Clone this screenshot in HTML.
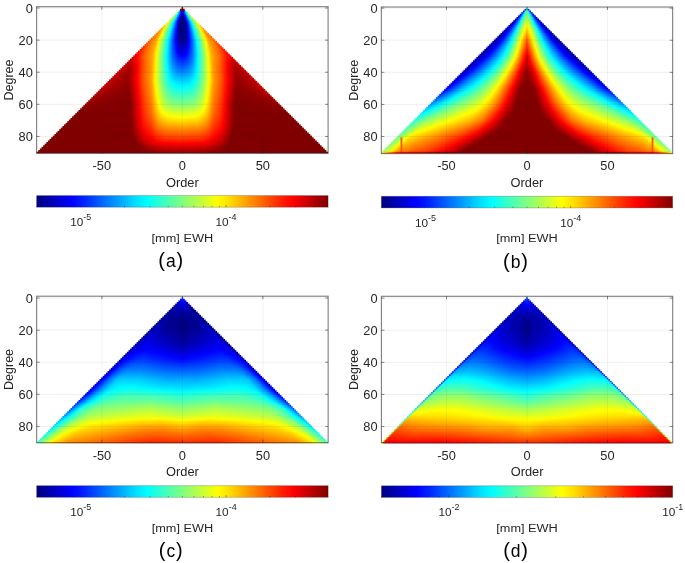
<!DOCTYPE html><html><head><meta charset="utf-8"><style>
html,body{margin:0;padding:0;background:#fff;}
svg{display:block;filter:blur(0.35px);}
text{font-family:"Liberation Sans",sans-serif;fill:#262626;}
.tk{font-size:12px;}
.lb{font-size:12px;}
.ct{font-size:11px;}
.mm{font-size:11.7px;}
.sup{font-size:8.4px;}
.pl{font-size:20px;fill:#000;letter-spacing:0.9px;}
.g{stroke:#262626;stroke-opacity:0.1;stroke-width:0.6;}
.gh{stroke:#262626;stroke-opacity:0.13;stroke-width:0.6;}
.bx{fill:none;stroke:rgba(38,38,38,0.6);stroke-width:1.1;}
.t{stroke:rgba(38,38,38,0.6);stroke-width:0.9;}
.cbx{fill:none;stroke:rgba(38,38,38,0.3);stroke-width:0.8;}
.ctk{stroke:rgba(38,38,38,0.6);stroke-width:0.7;}
</style></head><body><svg width="685" height="563" viewBox="0 0 685 563"><defs><linearGradient id="a2" gradientUnits="userSpaceOnUse" x1="182.35" x2="186.38" y1="0" y2="0" spreadMethod="reflect"><stop offset="0" stop-color="#800000"/><stop offset="0.4" stop-color="#0000fa"/><stop offset="0.8" stop-color="#00faff"/></linearGradient><linearGradient id="a3" gradientUnits="userSpaceOnUse" x1="182.35" x2="187.98" y1="0" y2="0" spreadMethod="reflect"><stop offset="0" stop-color="#0000db"/><stop offset="0.286" stop-color="#001fff"/><stop offset="0.571" stop-color="#00b7ff"/><stop offset="0.857" stop-color="#66ff99"/></linearGradient><linearGradient id="a4" gradientUnits="userSpaceOnUse" x1="182.35" x2="189.59" y1="0" y2="0" spreadMethod="reflect"><stop offset="0" stop-color="#0000b7"/><stop offset="0.222" stop-color="#0000ee"/><stop offset="0.444" stop-color="#006bff"/><stop offset="0.667" stop-color="#04fffb"/><stop offset="0.889" stop-color="#93ff6c"/></linearGradient><linearGradient id="a5" gradientUnits="userSpaceOnUse" x1="182.35" x2="191.2" y1="0" y2="0" spreadMethod="reflect"><stop offset="0" stop-color="#000094"/><stop offset="0.182" stop-color="#0000c6"/><stop offset="0.364" stop-color="#0034ff"/><stop offset="0.545" stop-color="#00b8ff"/><stop offset="0.727" stop-color="#36ffc9"/><stop offset="0.909" stop-color="#b2ff4d"/></linearGradient><linearGradient id="a6" gradientUnits="userSpaceOnUse" x1="182.35" x2="192.81" y1="0" y2="0" spreadMethod="reflect"><stop offset="0" stop-color="#000080"/><stop offset="0.154" stop-color="#0000a2"/><stop offset="0.308" stop-color="#0009ff"/><stop offset="0.462" stop-color="#0078ff"/><stop offset="0.615" stop-color="#00f2ff"/><stop offset="0.769" stop-color="#5dffa2"/><stop offset="0.923" stop-color="#c8ff37"/></linearGradient><linearGradient id="a7" gradientUnits="userSpaceOnUse" x1="182.35" x2="194.42" y1="0" y2="0" spreadMethod="reflect"><stop offset="0" stop-color="#000080"/><stop offset="0.133" stop-color="#000081"/><stop offset="0.267" stop-color="#0000e0"/><stop offset="0.4" stop-color="#0047ff"/><stop offset="0.533" stop-color="#00b8ff"/><stop offset="0.667" stop-color="#1cffe3"/><stop offset="0.933" stop-color="#d9ff26"/></linearGradient><linearGradient id="a8" gradientUnits="userSpaceOnUse" x1="182.35" x2="196.03" y1="0" y2="0" spreadMethod="reflect"><stop offset="0" stop-color="#000080"/><stop offset="0.118" stop-color="#000080"/><stop offset="0.235" stop-color="#0000bb"/><stop offset="0.353" stop-color="#001fff"/><stop offset="0.588" stop-color="#00e7ff"/><stop offset="0.706" stop-color="#3dffc2"/><stop offset="0.941" stop-color="#e6ff19"/></linearGradient><linearGradient id="a9" gradientUnits="userSpaceOnUse" x1="182.35" x2="197.64" y1="0" y2="0" spreadMethod="reflect"><stop offset="0" stop-color="#000080"/><stop offset="0.105" stop-color="#000080"/><stop offset="0.211" stop-color="#00009a"/><stop offset="0.316" stop-color="#0000fc"/><stop offset="0.421" stop-color="#0058ff"/><stop offset="0.526" stop-color="#00b8ff"/><stop offset="0.632" stop-color="#0bfff4"/><stop offset="0.947" stop-color="#f1ff0e"/></linearGradient><linearGradient id="a10" gradientUnits="userSpaceOnUse" x1="182.35" x2="199.25" y1="0" y2="0" spreadMethod="reflect"><stop offset="0" stop-color="#000080"/><stop offset="0.095" stop-color="#000080"/><stop offset="0.19" stop-color="#000094"/><stop offset="0.286" stop-color="#0000f1"/><stop offset="0.381" stop-color="#0045ff"/><stop offset="0.571" stop-color="#00f1ff"/><stop offset="0.667" stop-color="#3cffc3"/><stop offset="0.857" stop-color="#cdff32"/><stop offset="0.952" stop-color="#ffea00"/></linearGradient><linearGradient id="a11" gradientUnits="userSpaceOnUse" x1="182.35" x2="200.87" y1="0" y2="0" spreadMethod="reflect"><stop offset="0" stop-color="#000080"/><stop offset="0.087" stop-color="#000080"/><stop offset="0.174" stop-color="#00008f"/><stop offset="0.261" stop-color="#0000e7"/><stop offset="0.348" stop-color="#0035ff"/><stop offset="0.522" stop-color="#00dcff"/><stop offset="0.609" stop-color="#22ffdd"/><stop offset="0.87" stop-color="#f0ff0f"/><stop offset="0.957" stop-color="#ffcb00"/></linearGradient><linearGradient id="a12" gradientUnits="userSpaceOnUse" x1="182.35" x2="202.47" y1="0" y2="0" spreadMethod="reflect"><stop offset="0" stop-color="#000080"/><stop offset="0.08" stop-color="#000080"/><stop offset="0.16" stop-color="#00008d"/><stop offset="0.24" stop-color="#0000de"/><stop offset="0.32" stop-color="#0027ff"/><stop offset="0.48" stop-color="#00c6ff"/><stop offset="0.56" stop-color="#0bfff4"/><stop offset="0.8" stop-color="#d0ff2f"/><stop offset="0.88" stop-color="#ffef00"/><stop offset="0.96" stop-color="#ffaf00"/></linearGradient><linearGradient id="a13" gradientUnits="userSpaceOnUse" x1="182.35" x2="204.09" y1="0" y2="0" spreadMethod="reflect"><stop offset="0" stop-color="#000080"/><stop offset="0.074" stop-color="#000080"/><stop offset="0.148" stop-color="#00008c"/><stop offset="0.222" stop-color="#0000d5"/><stop offset="0.296" stop-color="#001cff"/><stop offset="0.519" stop-color="#00f5ff"/><stop offset="0.593" stop-color="#35ffca"/><stop offset="0.815" stop-color="#efff10"/><stop offset="0.889" stop-color="#ffd200"/><stop offset="0.963" stop-color="#ff9c00"/></linearGradient><linearGradient id="a14" gradientUnits="userSpaceOnUse" x1="182.35" x2="205.69" y1="0" y2="0" spreadMethod="reflect"><stop offset="0" stop-color="#000080"/><stop offset="0.069" stop-color="#000080"/><stop offset="0.138" stop-color="#00008c"/><stop offset="0.207" stop-color="#0000ce"/><stop offset="0.276" stop-color="#0012ff"/><stop offset="0.483" stop-color="#00e2ff"/><stop offset="0.552" stop-color="#1fffe0"/><stop offset="0.759" stop-color="#d2ff2d"/><stop offset="0.828" stop-color="#fff200"/><stop offset="0.897" stop-color="#ffb800"/><stop offset="0.966" stop-color="#ff9300"/></linearGradient><linearGradient id="a15" gradientUnits="userSpaceOnUse" x1="182.35" x2="207.31" y1="0" y2="0" spreadMethod="reflect"><stop offset="0" stop-color="#000080"/><stop offset="0.065" stop-color="#000080"/><stop offset="0.129" stop-color="#00008e"/><stop offset="0.194" stop-color="#0000ca"/><stop offset="0.258" stop-color="#000cff"/><stop offset="0.387" stop-color="#008fff"/><stop offset="0.452" stop-color="#00d5ff"/><stop offset="0.516" stop-color="#0ffff0"/><stop offset="0.774" stop-color="#f4ff0b"/><stop offset="0.839" stop-color="#ffd200"/><stop offset="0.903" stop-color="#ff9e00"/><stop offset="0.968" stop-color="#ff8800"/></linearGradient><linearGradient id="a16" gradientUnits="userSpaceOnUse" x1="182.35" x2="208.91" y1="0" y2="0" spreadMethod="reflect"><stop offset="0" stop-color="#000080"/><stop offset="0.061" stop-color="#000080"/><stop offset="0.121" stop-color="#000092"/><stop offset="0.242" stop-color="#0007ff"/><stop offset="0.364" stop-color="#0082ff"/><stop offset="0.424" stop-color="#00c6ff"/><stop offset="0.485" stop-color="#01fffe"/><stop offset="0.727" stop-color="#dfff20"/><stop offset="0.788" stop-color="#ffe900"/><stop offset="0.848" stop-color="#ffb300"/><stop offset="0.909" stop-color="#ff9200"/><stop offset="0.97" stop-color="#ff7e00"/></linearGradient><linearGradient id="a17" gradientUnits="userSpaceOnUse" x1="182.35" x2="210.53" y1="0" y2="0" spreadMethod="reflect"><stop offset="0" stop-color="#000080"/><stop offset="0.057" stop-color="#000080"/><stop offset="0.114" stop-color="#000096"/><stop offset="0.229" stop-color="#0004ff"/><stop offset="0.343" stop-color="#0078ff"/><stop offset="0.457" stop-color="#00f3ff"/><stop offset="0.514" stop-color="#29ffd6"/><stop offset="0.743" stop-color="#ffff00"/><stop offset="0.857" stop-color="#ff9c00"/><stop offset="0.971" stop-color="#ff7400"/></linearGradient><linearGradient id="a18" gradientUnits="userSpaceOnUse" x1="182.35" x2="212.13" y1="0" y2="0" spreadMethod="reflect"><stop offset="0" stop-color="#000080"/><stop offset="0.054" stop-color="#000080"/><stop offset="0.108" stop-color="#00009b"/><stop offset="0.162" stop-color="#0000c7"/><stop offset="0.216" stop-color="#0001ff"/><stop offset="0.324" stop-color="#006eff"/><stop offset="0.432" stop-color="#00e6ff"/><stop offset="0.486" stop-color="#1bffe4"/><stop offset="0.703" stop-color="#eaff15"/><stop offset="0.757" stop-color="#ffe100"/><stop offset="0.811" stop-color="#ffaf00"/><stop offset="0.865" stop-color="#ff9200"/><stop offset="0.973" stop-color="#ff6b00"/></linearGradient><linearGradient id="a19" gradientUnits="userSpaceOnUse" x1="182.35" x2="213.75" y1="0" y2="0" spreadMethod="reflect"><stop offset="0" stop-color="#000080"/><stop offset="0.051" stop-color="#000085"/><stop offset="0.103" stop-color="#00009f"/><stop offset="0.154" stop-color="#0000c8"/><stop offset="0.205" stop-color="#0000fd"/><stop offset="0.308" stop-color="#0064ff"/><stop offset="0.41" stop-color="#00daff"/><stop offset="0.462" stop-color="#0cfff3"/><stop offset="0.667" stop-color="#d4ff2b"/><stop offset="0.718" stop-color="#fff900"/><stop offset="0.821" stop-color="#ff9f00"/><stop offset="0.974" stop-color="#ff6800"/></linearGradient><linearGradient id="a20" gradientUnits="userSpaceOnUse" x1="182.35" x2="215.35" y1="0" y2="0" spreadMethod="reflect"><stop offset="0" stop-color="#000080"/><stop offset="0.049" stop-color="#00008d"/><stop offset="0.098" stop-color="#0000a5"/><stop offset="0.146" stop-color="#0000c9"/><stop offset="0.195" stop-color="#0000fb"/><stop offset="0.244" stop-color="#0029ff"/><stop offset="0.341" stop-color="#0093ff"/><stop offset="0.39" stop-color="#00cdff"/><stop offset="0.439" stop-color="#00feff"/><stop offset="0.683" stop-color="#efff10"/><stop offset="0.732" stop-color="#ffe100"/><stop offset="0.78" stop-color="#ffb200"/><stop offset="0.878" stop-color="#ff8800"/><stop offset="0.976" stop-color="#ff6600"/></linearGradient><linearGradient id="a21" gradientUnits="userSpaceOnUse" x1="182.35" x2="216.97" y1="0" y2="0" spreadMethod="reflect"><stop offset="0" stop-color="#00008a"/><stop offset="0.047" stop-color="#000098"/><stop offset="0.093" stop-color="#0000ae"/><stop offset="0.14" stop-color="#0000cf"/><stop offset="0.186" stop-color="#0000fd"/><stop offset="0.279" stop-color="#005aff"/><stop offset="0.372" stop-color="#00c8ff"/><stop offset="0.419" stop-color="#00f8ff"/><stop offset="0.512" stop-color="#58ffa7"/><stop offset="0.651" stop-color="#e5ff1a"/><stop offset="0.698" stop-color="#ffeb00"/><stop offset="0.744" stop-color="#ffbd00"/><stop offset="0.791" stop-color="#ffa000"/><stop offset="0.977" stop-color="#ff5900"/></linearGradient><linearGradient id="a22" gradientUnits="userSpaceOnUse" x1="182.35" x2="218.57" y1="0" y2="0" spreadMethod="reflect"><stop offset="0" stop-color="#000097"/><stop offset="0.089" stop-color="#0000b7"/><stop offset="0.133" stop-color="#0000d5"/><stop offset="0.178" stop-color="#0002ff"/><stop offset="0.267" stop-color="#0059ff"/><stop offset="0.4" stop-color="#00f4ff"/><stop offset="0.444" stop-color="#23ffdc"/><stop offset="0.622" stop-color="#dcff23"/><stop offset="0.667" stop-color="#fff500"/><stop offset="0.711" stop-color="#ffc700"/><stop offset="0.756" stop-color="#ffa500"/><stop offset="0.933" stop-color="#ff6300"/><stop offset="0.978" stop-color="#ff4b00"/></linearGradient><linearGradient id="a23" gradientUnits="userSpaceOnUse" x1="182.35" x2="220.19" y1="0" y2="0" spreadMethod="reflect"><stop offset="0" stop-color="#0000a3"/><stop offset="0.085" stop-color="#0000c0"/><stop offset="0.17" stop-color="#0005ff"/><stop offset="0.255" stop-color="#0059ff"/><stop offset="0.383" stop-color="#00f0ff"/><stop offset="0.426" stop-color="#1effe1"/><stop offset="0.638" stop-color="#fffe00"/><stop offset="0.723" stop-color="#ffaa00"/><stop offset="0.894" stop-color="#ff6c00"/><stop offset="0.979" stop-color="#ff3d00"/></linearGradient><linearGradient id="a24" gradientUnits="userSpaceOnUse" x1="182.35" x2="221.79" y1="0" y2="0" spreadMethod="reflect"><stop offset="0" stop-color="#0000b0"/><stop offset="0.082" stop-color="#0000cb"/><stop offset="0.122" stop-color="#0000e4"/><stop offset="0.163" stop-color="#000aff"/><stop offset="0.245" stop-color="#005aff"/><stop offset="0.367" stop-color="#00ecff"/><stop offset="0.408" stop-color="#19ffe6"/><stop offset="0.612" stop-color="#f8ff07"/><stop offset="0.694" stop-color="#ffaf00"/><stop offset="0.857" stop-color="#ff7200"/><stop offset="0.98" stop-color="#ff2f00"/></linearGradient><linearGradient id="a25" gradientUnits="userSpaceOnUse" x1="182.35" x2="223.41" y1="0" y2="0" spreadMethod="reflect"><stop offset="0" stop-color="#0000bd"/><stop offset="0.078" stop-color="#0000d5"/><stop offset="0.118" stop-color="#0000ec"/><stop offset="0.157" stop-color="#000fff"/><stop offset="0.235" stop-color="#005bff"/><stop offset="0.353" stop-color="#00e9ff"/><stop offset="0.392" stop-color="#15ffea"/><stop offset="0.588" stop-color="#f0ff0f"/><stop offset="0.627" stop-color="#ffe300"/><stop offset="0.667" stop-color="#ffb800"/><stop offset="0.745" stop-color="#ff9400"/><stop offset="0.863" stop-color="#ff6400"/><stop offset="0.98" stop-color="#ff2200"/></linearGradient><linearGradient id="a26" gradientUnits="userSpaceOnUse" x1="182.35" x2="225.01" y1="0" y2="0" spreadMethod="reflect"><stop offset="0" stop-color="#0000ca"/><stop offset="0.075" stop-color="#0000e0"/><stop offset="0.113" stop-color="#0000f5"/><stop offset="0.151" stop-color="#0015ff"/><stop offset="0.226" stop-color="#005dff"/><stop offset="0.34" stop-color="#00e7ff"/><stop offset="0.377" stop-color="#11ffee"/><stop offset="0.566" stop-color="#e9ff16"/><stop offset="0.604" stop-color="#ffeb00"/><stop offset="0.642" stop-color="#ffc000"/><stop offset="0.679" stop-color="#ffa600"/><stop offset="0.83" stop-color="#ff6b00"/><stop offset="0.981" stop-color="#ff1600"/></linearGradient><linearGradient id="a27" gradientUnits="userSpaceOnUse" x1="182.35" x2="226.62" y1="0" y2="0" spreadMethod="reflect"><stop offset="0" stop-color="#0000d8"/><stop offset="0.073" stop-color="#0000eb"/><stop offset="0.109" stop-color="#0000fe"/><stop offset="0.218" stop-color="#005fff"/><stop offset="0.327" stop-color="#00e5ff"/><stop offset="0.364" stop-color="#0efff1"/><stop offset="0.545" stop-color="#e2ff1d"/><stop offset="0.582" stop-color="#fff200"/><stop offset="0.618" stop-color="#ffc800"/><stop offset="0.655" stop-color="#ffa900"/><stop offset="0.8" stop-color="#ff7100"/><stop offset="0.982" stop-color="#ff0b00"/></linearGradient><linearGradient id="a28" gradientUnits="userSpaceOnUse" x1="182.35" x2="228.24" y1="0" y2="0" spreadMethod="reflect"><stop offset="0" stop-color="#0000e5"/><stop offset="0.07" stop-color="#0000f6"/><stop offset="0.105" stop-color="#0009ff"/><stop offset="0.211" stop-color="#0062ff"/><stop offset="0.281" stop-color="#00b4ff"/><stop offset="0.316" stop-color="#00e3ff"/><stop offset="0.351" stop-color="#0bfff4"/><stop offset="0.526" stop-color="#dbff24"/><stop offset="0.561" stop-color="#fff900"/><stop offset="0.632" stop-color="#ffac00"/><stop offset="0.772" stop-color="#ff7400"/><stop offset="0.947" stop-color="#ff1100"/><stop offset="0.982" stop-color="#ff0100"/></linearGradient><linearGradient id="a29" gradientUnits="userSpaceOnUse" x1="182.35" x2="229.84" y1="0" y2="0" spreadMethod="reflect"><stop offset="0" stop-color="#0000f3"/><stop offset="0.068" stop-color="#0003ff"/><stop offset="0.102" stop-color="#0013ff"/><stop offset="0.203" stop-color="#0066ff"/><stop offset="0.271" stop-color="#00b4ff"/><stop offset="0.305" stop-color="#00e2ff"/><stop offset="0.339" stop-color="#09fff6"/><stop offset="0.542" stop-color="#feff01"/><stop offset="0.61" stop-color="#ffaf00"/><stop offset="0.78" stop-color="#ff6600"/><stop offset="0.949" stop-color="#ff0600"/><stop offset="0.983" stop-color="#f60000"/></linearGradient><linearGradient id="a30" gradientUnits="userSpaceOnUse" x1="182.35" x2="231.45" y1="0" y2="0" spreadMethod="reflect"><stop offset="0" stop-color="#0001ff"/><stop offset="0.066" stop-color="#000fff"/><stop offset="0.131" stop-color="#0033ff"/><stop offset="0.197" stop-color="#006aff"/><stop offset="0.262" stop-color="#00b4ff"/><stop offset="0.295" stop-color="#00e0ff"/><stop offset="0.328" stop-color="#07fff8"/><stop offset="0.525" stop-color="#f7ff08"/><stop offset="0.59" stop-color="#ffb600"/><stop offset="0.689" stop-color="#ff8700"/><stop offset="0.754" stop-color="#ff6b00"/><stop offset="0.918" stop-color="#ff0b00"/><stop offset="0.951" stop-color="#fb0000"/><stop offset="0.984" stop-color="#ed0000"/></linearGradient><linearGradient id="a31" gradientUnits="userSpaceOnUse" x1="182.35" x2="233.06" y1="0" y2="0" spreadMethod="reflect"><stop offset="0" stop-color="#000eff"/><stop offset="0.063" stop-color="#001bff"/><stop offset="0.127" stop-color="#003cff"/><stop offset="0.19" stop-color="#0070ff"/><stop offset="0.254" stop-color="#00b7ff"/><stop offset="0.286" stop-color="#00e2ff"/><stop offset="0.317" stop-color="#08fff7"/><stop offset="0.508" stop-color="#f6ff09"/><stop offset="0.54" stop-color="#ffdf00"/><stop offset="0.571" stop-color="#ffb700"/><stop offset="0.635" stop-color="#ff9400"/><stop offset="0.73" stop-color="#ff6a00"/><stop offset="0.889" stop-color="#ff0700"/><stop offset="0.952" stop-color="#e70000"/><stop offset="0.984" stop-color="#d90000"/></linearGradient><linearGradient id="a32" gradientUnits="userSpaceOnUse" x1="182.35" x2="234.68" y1="0" y2="0" spreadMethod="reflect"><stop offset="0" stop-color="#001bff"/><stop offset="0.062" stop-color="#0027ff"/><stop offset="0.123" stop-color="#0046ff"/><stop offset="0.185" stop-color="#0077ff"/><stop offset="0.246" stop-color="#00baff"/><stop offset="0.277" stop-color="#00e4ff"/><stop offset="0.308" stop-color="#0afff5"/><stop offset="0.492" stop-color="#f5ff0a"/><stop offset="0.523" stop-color="#ffe100"/><stop offset="0.554" stop-color="#ffb900"/><stop offset="0.585" stop-color="#ffa100"/><stop offset="0.708" stop-color="#ff6900"/><stop offset="0.862" stop-color="#ff0400"/><stop offset="0.985" stop-color="#c70000"/></linearGradient><linearGradient id="a33" gradientUnits="userSpaceOnUse" x1="182.35" x2="236.28" y1="0" y2="0" spreadMethod="reflect"><stop offset="0" stop-color="#0029ff"/><stop offset="0.09" stop-color="#003eff"/><stop offset="0.179" stop-color="#007dff"/><stop offset="0.239" stop-color="#00beff"/><stop offset="0.269" stop-color="#00e6ff"/><stop offset="0.299" stop-color="#0bfff4"/><stop offset="0.478" stop-color="#f4ff0b"/><stop offset="0.507" stop-color="#ffe200"/><stop offset="0.537" stop-color="#ffba00"/><stop offset="0.567" stop-color="#ffa100"/><stop offset="0.687" stop-color="#ff6800"/><stop offset="0.836" stop-color="#ff0100"/><stop offset="0.955" stop-color="#c10000"/><stop offset="0.985" stop-color="#c70000"/></linearGradient><linearGradient id="a34" gradientUnits="userSpaceOnUse" x1="182.35" x2="237.89" y1="0" y2="0" spreadMethod="reflect"><stop offset="0" stop-color="#0036ff"/><stop offset="0.087" stop-color="#004aff"/><stop offset="0.174" stop-color="#0084ff"/><stop offset="0.232" stop-color="#00c2ff"/><stop offset="0.261" stop-color="#00e8ff"/><stop offset="0.29" stop-color="#0dfff2"/><stop offset="0.464" stop-color="#f3ff0c"/><stop offset="0.493" stop-color="#ffe400"/><stop offset="0.522" stop-color="#ffbc00"/><stop offset="0.551" stop-color="#ffa000"/><stop offset="0.667" stop-color="#ff6700"/><stop offset="0.812" stop-color="#ff0000"/><stop offset="0.928" stop-color="#bc0000"/><stop offset="0.986" stop-color="#c70000"/></linearGradient><linearGradient id="a35" gradientUnits="userSpaceOnUse" x1="182.35" x2="239.5" y1="0" y2="0" spreadMethod="reflect"><stop offset="0" stop-color="#0043ff"/><stop offset="0.085" stop-color="#0055ff"/><stop offset="0.169" stop-color="#008cff"/><stop offset="0.225" stop-color="#00c6ff"/><stop offset="0.254" stop-color="#00ebff"/><stop offset="0.282" stop-color="#0ffff0"/><stop offset="0.423" stop-color="#cbff34"/><stop offset="0.451" stop-color="#f2ff0d"/><stop offset="0.479" stop-color="#ffe500"/><stop offset="0.507" stop-color="#ffbe00"/><stop offset="0.535" stop-color="#ffa000"/><stop offset="0.648" stop-color="#ff6700"/><stop offset="0.789" stop-color="#fd0000"/><stop offset="0.901" stop-color="#b90000"/><stop offset="0.93" stop-color="#b70000"/><stop offset="0.986" stop-color="#c70000"/></linearGradient><linearGradient id="a36" gradientUnits="userSpaceOnUse" x1="182.35" x2="241.12" y1="0" y2="0" spreadMethod="reflect"><stop offset="0" stop-color="#0050ff"/><stop offset="0.082" stop-color="#0061ff"/><stop offset="0.164" stop-color="#0094ff"/><stop offset="0.219" stop-color="#00cbff"/><stop offset="0.247" stop-color="#00eeff"/><stop offset="0.274" stop-color="#11ffee"/><stop offset="0.411" stop-color="#caff35"/><stop offset="0.438" stop-color="#f0ff0f"/><stop offset="0.466" stop-color="#ffe700"/><stop offset="0.521" stop-color="#ffa000"/><stop offset="0.658" stop-color="#ff5300"/><stop offset="0.767" stop-color="#fc0000"/><stop offset="0.877" stop-color="#b60000"/><stop offset="0.904" stop-color="#b10000"/><stop offset="0.986" stop-color="#c70000"/></linearGradient><linearGradient id="a37" gradientUnits="userSpaceOnUse" x1="182.35" x2="242.72" y1="0" y2="0" spreadMethod="reflect"><stop offset="0" stop-color="#005eff"/><stop offset="0.08" stop-color="#006dff"/><stop offset="0.16" stop-color="#009cff"/><stop offset="0.213" stop-color="#00d0ff"/><stop offset="0.24" stop-color="#00f2ff"/><stop offset="0.267" stop-color="#14ffeb"/><stop offset="0.373" stop-color="#a3ff5c"/><stop offset="0.427" stop-color="#efff10"/><stop offset="0.453" stop-color="#ffe800"/><stop offset="0.507" stop-color="#ffa000"/><stop offset="0.64" stop-color="#ff5300"/><stop offset="0.747" stop-color="#fc0000"/><stop offset="0.853" stop-color="#b40000"/><stop offset="0.88" stop-color="#ab0000"/><stop offset="0.987" stop-color="#c70000"/></linearGradient><linearGradient id="a38" gradientUnits="userSpaceOnUse" x1="182.35" x2="244.34" y1="0" y2="0" spreadMethod="reflect"><stop offset="0" stop-color="#006bff"/><stop offset="0.078" stop-color="#0079ff"/><stop offset="0.156" stop-color="#00a4ff"/><stop offset="0.208" stop-color="#00d5ff"/><stop offset="0.234" stop-color="#00f6ff"/><stop offset="0.26" stop-color="#17ffe8"/><stop offset="0.338" stop-color="#7dff82"/><stop offset="0.416" stop-color="#eeff11"/><stop offset="0.442" stop-color="#ffea00"/><stop offset="0.494" stop-color="#ffa000"/><stop offset="0.623" stop-color="#ff5400"/><stop offset="0.727" stop-color="#fc0000"/><stop offset="0.831" stop-color="#b20000"/><stop offset="0.857" stop-color="#a60000"/><stop offset="0.987" stop-color="#c70000"/></linearGradient><linearGradient id="a39" gradientUnits="userSpaceOnUse" x1="182.35" x2="245.94" y1="0" y2="0" spreadMethod="reflect"><stop offset="0" stop-color="#0078ff"/><stop offset="0.076" stop-color="#0085ff"/><stop offset="0.152" stop-color="#00adff"/><stop offset="0.203" stop-color="#00dbff"/><stop offset="0.228" stop-color="#00faff"/><stop offset="0.304" stop-color="#5affa5"/><stop offset="0.405" stop-color="#edff12"/><stop offset="0.43" stop-color="#ffeb00"/><stop offset="0.481" stop-color="#ffa000"/><stop offset="0.608" stop-color="#ff5500"/><stop offset="0.709" stop-color="#fc0000"/><stop offset="0.835" stop-color="#a10000"/><stop offset="0.987" stop-color="#c70000"/></linearGradient><linearGradient id="a40" gradientUnits="userSpaceOnUse" x1="182.35" x2="247.56" y1="0" y2="0" spreadMethod="reflect"><stop offset="0" stop-color="#0086ff"/><stop offset="0.074" stop-color="#0091ff"/><stop offset="0.148" stop-color="#00b6ff"/><stop offset="0.198" stop-color="#00e1ff"/><stop offset="0.222" stop-color="#00feff"/><stop offset="0.321" stop-color="#7eff81"/><stop offset="0.395" stop-color="#ecff13"/><stop offset="0.42" stop-color="#ffed00"/><stop offset="0.469" stop-color="#ffa000"/><stop offset="0.593" stop-color="#ff5500"/><stop offset="0.691" stop-color="#fd0000"/><stop offset="0.815" stop-color="#9f0000"/><stop offset="0.963" stop-color="#bf0000"/><stop offset="0.988" stop-color="#c70000"/></linearGradient><linearGradient id="a41" gradientUnits="userSpaceOnUse" x1="182.35" x2="249.16" y1="0" y2="0" spreadMethod="reflect"><stop offset="0" stop-color="#0093ff"/><stop offset="0.072" stop-color="#009dff"/><stop offset="0.145" stop-color="#00bfff"/><stop offset="0.217" stop-color="#04fffb"/><stop offset="0.313" stop-color="#7fff80"/><stop offset="0.386" stop-color="#ebff14"/><stop offset="0.41" stop-color="#ffee00"/><stop offset="0.458" stop-color="#ffa200"/><stop offset="0.578" stop-color="#ff5600"/><stop offset="0.675" stop-color="#fe0000"/><stop offset="0.795" stop-color="#9e0000"/><stop offset="0.867" stop-color="#a60000"/><stop offset="0.988" stop-color="#c70000"/></linearGradient><linearGradient id="a42" gradientUnits="userSpaceOnUse" x1="182.35" x2="250.77" y1="0" y2="0" spreadMethod="reflect"><stop offset="0" stop-color="#00a0ff"/><stop offset="0.094" stop-color="#00b2ff"/><stop offset="0.165" stop-color="#00daff"/><stop offset="0.188" stop-color="#00efff"/><stop offset="0.212" stop-color="#0afff5"/><stop offset="0.306" stop-color="#80ff7f"/><stop offset="0.376" stop-color="#eaff15"/><stop offset="0.4" stop-color="#ffef00"/><stop offset="0.447" stop-color="#ffa400"/><stop offset="0.565" stop-color="#ff5700"/><stop offset="0.659" stop-color="#ff0000"/><stop offset="0.776" stop-color="#9e0000"/><stop offset="0.824" stop-color="#9d0000"/><stop offset="0.965" stop-color="#bf0000"/><stop offset="0.988" stop-color="#c70000"/></linearGradient><linearGradient id="a43" gradientUnits="userSpaceOnUse" x1="182.35" x2="252.38" y1="0" y2="0" spreadMethod="reflect"><stop offset="0" stop-color="#00aeff"/><stop offset="0.092" stop-color="#00bdff"/><stop offset="0.161" stop-color="#00e2ff"/><stop offset="0.184" stop-color="#00f6ff"/><stop offset="0.207" stop-color="#10ffef"/><stop offset="0.299" stop-color="#82ff7d"/><stop offset="0.368" stop-color="#e9ff16"/><stop offset="0.391" stop-color="#fff000"/><stop offset="0.437" stop-color="#ffa600"/><stop offset="0.506" stop-color="#ff7500"/><stop offset="0.552" stop-color="#ff5800"/><stop offset="0.644" stop-color="#ff0100"/><stop offset="0.759" stop-color="#9e0000"/><stop offset="0.782" stop-color="#970000"/><stop offset="0.943" stop-color="#b70000"/><stop offset="0.989" stop-color="#c70000"/></linearGradient><linearGradient id="a44" gradientUnits="userSpaceOnUse" x1="182.35" x2="254" y1="0" y2="0" spreadMethod="reflect"><stop offset="0" stop-color="#00bbff"/><stop offset="0.09" stop-color="#00c9ff"/><stop offset="0.157" stop-color="#00ebff"/><stop offset="0.18" stop-color="#00feff"/><stop offset="0.27" stop-color="#65ff9a"/><stop offset="0.36" stop-color="#e9ff16"/><stop offset="0.382" stop-color="#fff100"/><stop offset="0.427" stop-color="#ffa800"/><stop offset="0.472" stop-color="#ff8300"/><stop offset="0.539" stop-color="#ff5800"/><stop offset="0.629" stop-color="#ff0200"/><stop offset="0.742" stop-color="#9e0000"/><stop offset="0.764" stop-color="#940000"/><stop offset="0.921" stop-color="#b10000"/><stop offset="0.989" stop-color="#c70000"/></linearGradient><linearGradient id="a45" gradientUnits="userSpaceOnUse" x1="182.35" x2="255.61" y1="0" y2="0" spreadMethod="reflect"><stop offset="0" stop-color="#00c9ff"/><stop offset="0.088" stop-color="#00d6ff"/><stop offset="0.154" stop-color="#00f5ff"/><stop offset="0.176" stop-color="#07fff8"/><stop offset="0.264" stop-color="#68ff97"/><stop offset="0.352" stop-color="#e9ff16"/><stop offset="0.374" stop-color="#fff200"/><stop offset="0.418" stop-color="#ffa900"/><stop offset="0.44" stop-color="#ff9200"/><stop offset="0.527" stop-color="#ff5900"/><stop offset="0.615" stop-color="#ff0300"/><stop offset="0.725" stop-color="#9f0000"/><stop offset="0.747" stop-color="#920000"/><stop offset="0.923" stop-color="#b10000"/><stop offset="0.989" stop-color="#c70000"/></linearGradient><linearGradient id="a46" gradientUnits="userSpaceOnUse" x1="182.35" x2="257.22" y1="0" y2="0" spreadMethod="reflect"><stop offset="0" stop-color="#00d5ff"/><stop offset="0.086" stop-color="#00e1ff"/><stop offset="0.151" stop-color="#00feff"/><stop offset="0.194" stop-color="#24ffdb"/><stop offset="0.258" stop-color="#6dff92"/><stop offset="0.344" stop-color="#ecff13"/><stop offset="0.366" stop-color="#ffef00"/><stop offset="0.409" stop-color="#ffa700"/><stop offset="0.43" stop-color="#ff9000"/><stop offset="0.516" stop-color="#ff5700"/><stop offset="0.602" stop-color="#ff0000"/><stop offset="0.71" stop-color="#9c0000"/><stop offset="0.731" stop-color="#8f0000"/><stop offset="0.903" stop-color="#ab0000"/><stop offset="0.989" stop-color="#c70000"/></linearGradient><linearGradient id="a47" gradientUnits="userSpaceOnUse" x1="182.35" x2="258.82" y1="0" y2="0" spreadMethod="reflect"><stop offset="0" stop-color="#00e1ff"/><stop offset="0.084" stop-color="#00ecff"/><stop offset="0.126" stop-color="#00fcff"/><stop offset="0.168" stop-color="#18ffe7"/><stop offset="0.253" stop-color="#72ff8d"/><stop offset="0.337" stop-color="#efff10"/><stop offset="0.358" stop-color="#ffec00"/><stop offset="0.4" stop-color="#ffa400"/><stop offset="0.442" stop-color="#ff8000"/><stop offset="0.505" stop-color="#ff5500"/><stop offset="0.589" stop-color="#fd0000"/><stop offset="0.695" stop-color="#980000"/><stop offset="0.716" stop-color="#8e0000"/><stop offset="0.884" stop-color="#a60000"/><stop offset="0.989" stop-color="#c70000"/></linearGradient><linearGradient id="a48" gradientUnits="userSpaceOnUse" x1="182.35" x2="260.44" y1="0" y2="0" spreadMethod="reflect"><stop offset="0" stop-color="#00edff"/><stop offset="0.082" stop-color="#00f7ff"/><stop offset="0.124" stop-color="#07fff8"/><stop offset="0.165" stop-color="#21ffde"/><stop offset="0.247" stop-color="#78ff87"/><stop offset="0.33" stop-color="#f3ff0c"/><stop offset="0.351" stop-color="#ffe900"/><stop offset="0.392" stop-color="#ffa100"/><stop offset="0.433" stop-color="#ff7e00"/><stop offset="0.495" stop-color="#ff5300"/><stop offset="0.577" stop-color="#fa0000"/><stop offset="0.68" stop-color="#950000"/><stop offset="0.701" stop-color="#8c0000"/><stop offset="0.887" stop-color="#a60000"/><stop offset="0.99" stop-color="#c70000"/></linearGradient><linearGradient id="a49" gradientUnits="userSpaceOnUse" x1="182.35" x2="262.05" y1="0" y2="0" spreadMethod="reflect"><stop offset="0" stop-color="#00f9ff"/><stop offset="0.081" stop-color="#04fffb"/><stop offset="0.141" stop-color="#1cffe3"/><stop offset="0.202" stop-color="#50ffaf"/><stop offset="0.263" stop-color="#99ff66"/><stop offset="0.323" stop-color="#f6ff09"/><stop offset="0.343" stop-color="#ffe600"/><stop offset="0.384" stop-color="#ff9e00"/><stop offset="0.485" stop-color="#ff5100"/><stop offset="0.545" stop-color="#ff0f00"/><stop offset="0.566" stop-color="#f80000"/><stop offset="0.667" stop-color="#920000"/><stop offset="0.687" stop-color="#8a0000"/><stop offset="0.869" stop-color="#a10000"/><stop offset="0.99" stop-color="#c70000"/></linearGradient><linearGradient id="a50" gradientUnits="userSpaceOnUse" x1="182.35" x2="263.65" y1="0" y2="0" spreadMethod="reflect"><stop offset="0" stop-color="#06fff9"/><stop offset="0.079" stop-color="#0ffff0"/><stop offset="0.139" stop-color="#26ffd9"/><stop offset="0.198" stop-color="#58ffa7"/><stop offset="0.257" stop-color="#9eff61"/><stop offset="0.317" stop-color="#faff05"/><stop offset="0.356" stop-color="#ffbf00"/><stop offset="0.376" stop-color="#ff9b00"/><stop offset="0.475" stop-color="#ff4f00"/><stop offset="0.535" stop-color="#ff0d00"/><stop offset="0.554" stop-color="#f50000"/><stop offset="0.653" stop-color="#8f0000"/><stop offset="0.693" stop-color="#8a0000"/><stop offset="0.871" stop-color="#a10000"/><stop offset="0.99" stop-color="#c70000"/></linearGradient><linearGradient id="a51" gradientUnits="userSpaceOnUse" x1="182.35" x2="265.26" y1="0" y2="0" spreadMethod="reflect"><stop offset="0" stop-color="#12ffed"/><stop offset="0.097" stop-color="#20ffdf"/><stop offset="0.155" stop-color="#3cffc3"/><stop offset="0.233" stop-color="#89ff76"/><stop offset="0.311" stop-color="#fdff02"/><stop offset="0.369" stop-color="#ff9800"/><stop offset="0.466" stop-color="#ff4d00"/><stop offset="0.524" stop-color="#ff0a00"/><stop offset="0.544" stop-color="#f30000"/><stop offset="0.641" stop-color="#8c0000"/><stop offset="0.699" stop-color="#8a0000"/><stop offset="0.893" stop-color="#a30000"/><stop offset="0.99" stop-color="#c20000"/></linearGradient><linearGradient id="a52" gradientUnits="userSpaceOnUse" x1="182.35" x2="266.88" y1="0" y2="0" spreadMethod="reflect"><stop offset="0" stop-color="#1fffe0"/><stop offset="0.095" stop-color="#2cffd3"/><stop offset="0.152" stop-color="#46ffb9"/><stop offset="0.229" stop-color="#90ff6f"/><stop offset="0.305" stop-color="#fffd00"/><stop offset="0.362" stop-color="#ff9500"/><stop offset="0.457" stop-color="#ff4a00"/><stop offset="0.514" stop-color="#ff0800"/><stop offset="0.552" stop-color="#da0000"/><stop offset="0.629" stop-color="#890000"/><stop offset="0.8" stop-color="#910000"/><stop offset="0.952" stop-color="#b00000"/><stop offset="0.99" stop-color="#bd0000"/></linearGradient><linearGradient id="a53" gradientUnits="userSpaceOnUse" x1="182.35" x2="268.49" y1="0" y2="0" spreadMethod="reflect"><stop offset="0" stop-color="#2bffd4"/><stop offset="0.093" stop-color="#37ffc8"/><stop offset="0.15" stop-color="#50ffaf"/><stop offset="0.224" stop-color="#96ff69"/><stop offset="0.28" stop-color="#e7ff18"/><stop offset="0.299" stop-color="#fff900"/><stop offset="0.355" stop-color="#ff9200"/><stop offset="0.449" stop-color="#ff4800"/><stop offset="0.505" stop-color="#ff0500"/><stop offset="0.579" stop-color="#af0000"/><stop offset="0.617" stop-color="#860000"/><stop offset="0.841" stop-color="#950000"/><stop offset="0.972" stop-color="#b20000"/><stop offset="0.991" stop-color="#b90000"/></linearGradient><linearGradient id="a54" gradientUnits="userSpaceOnUse" x1="182.35" x2="270.1" y1="0" y2="0" spreadMethod="reflect"><stop offset="0" stop-color="#37ffc8"/><stop offset="0.092" stop-color="#42ffbd"/><stop offset="0.147" stop-color="#59ffa6"/><stop offset="0.22" stop-color="#9dff62"/><stop offset="0.275" stop-color="#ebff14"/><stop offset="0.294" stop-color="#fff500"/><stop offset="0.349" stop-color="#ff8f00"/><stop offset="0.44" stop-color="#ff4600"/><stop offset="0.495" stop-color="#ff0300"/><stop offset="0.606" stop-color="#830000"/><stop offset="0.862" stop-color="#950000"/><stop offset="0.991" stop-color="#b40000"/></linearGradient><linearGradient id="a55" gradientUnits="userSpaceOnUse" x1="182.35" x2="271.7" y1="0" y2="0" spreadMethod="reflect"><stop offset="0" stop-color="#43ffbc"/><stop offset="0.09" stop-color="#4effb1"/><stop offset="0.144" stop-color="#63ff9c"/><stop offset="0.216" stop-color="#a4ff5b"/><stop offset="0.27" stop-color="#f0ff0f"/><stop offset="0.288" stop-color="#fff000"/><stop offset="0.342" stop-color="#ff8c00"/><stop offset="0.432" stop-color="#ff4300"/><stop offset="0.486" stop-color="#ff0000"/><stop offset="0.595" stop-color="#830000"/><stop offset="0.865" stop-color="#930000"/><stop offset="0.991" stop-color="#af0000"/></linearGradient><linearGradient id="a56" gradientUnits="userSpaceOnUse" x1="182.35" x2="273.31" y1="0" y2="0" spreadMethod="reflect"><stop offset="0" stop-color="#4fffb0"/><stop offset="0.088" stop-color="#59ffa6"/><stop offset="0.142" stop-color="#6dff92"/><stop offset="0.212" stop-color="#abff54"/><stop offset="0.265" stop-color="#f5ff0a"/><stop offset="0.283" stop-color="#ffec00"/><stop offset="0.336" stop-color="#ff8a00"/><stop offset="0.425" stop-color="#ff4100"/><stop offset="0.478" stop-color="#fd0000"/><stop offset="0.584" stop-color="#820000"/><stop offset="0.867" stop-color="#910000"/><stop offset="0.991" stop-color="#aa0000"/></linearGradient><linearGradient id="a57" gradientUnits="userSpaceOnUse" x1="182.35" x2="274.93" y1="0" y2="0" spreadMethod="reflect"><stop offset="0" stop-color="#5cffa3"/><stop offset="0.104" stop-color="#69ff96"/><stop offset="0.157" stop-color="#83ff7c"/><stop offset="0.209" stop-color="#b2ff4d"/><stop offset="0.261" stop-color="#faff05"/><stop offset="0.296" stop-color="#ffc800"/><stop offset="0.33" stop-color="#ff8800"/><stop offset="0.417" stop-color="#ff3e00"/><stop offset="0.47" stop-color="#fb0000"/><stop offset="0.557" stop-color="#910000"/><stop offset="0.574" stop-color="#810000"/><stop offset="0.87" stop-color="#8f0000"/><stop offset="0.991" stop-color="#a60000"/></linearGradient><linearGradient id="a58" gradientUnits="userSpaceOnUse" x1="182.35" x2="276.53" y1="0" y2="0" spreadMethod="reflect"><stop offset="0" stop-color="#68ff97"/><stop offset="0.103" stop-color="#74ff8b"/><stop offset="0.154" stop-color="#8dff72"/><stop offset="0.205" stop-color="#b9ff46"/><stop offset="0.256" stop-color="#ffff00"/><stop offset="0.325" stop-color="#ff8500"/><stop offset="0.41" stop-color="#ff3c00"/><stop offset="0.444" stop-color="#ff1000"/><stop offset="0.462" stop-color="#f80000"/><stop offset="0.547" stop-color="#8e0000"/><stop offset="0.564" stop-color="#810000"/><stop offset="0.889" stop-color="#8f0000"/><stop offset="0.991" stop-color="#a10000"/></linearGradient><linearGradient id="a59" gradientUnits="userSpaceOnUse" x1="182.35" x2="278.14" y1="0" y2="0" spreadMethod="reflect"><stop offset="0" stop-color="#74ff8b"/><stop offset="0.101" stop-color="#7fff80"/><stop offset="0.151" stop-color="#97ff68"/><stop offset="0.202" stop-color="#c1ff3e"/><stop offset="0.252" stop-color="#fff900"/><stop offset="0.319" stop-color="#ff8200"/><stop offset="0.403" stop-color="#ff3900"/><stop offset="0.437" stop-color="#ff0d00"/><stop offset="0.454" stop-color="#f60000"/><stop offset="0.538" stop-color="#8c0000"/><stop offset="0.555" stop-color="#810000"/><stop offset="0.891" stop-color="#8d0000"/><stop offset="0.992" stop-color="#9c0000"/></linearGradient><linearGradient id="a60" gradientUnits="userSpaceOnUse" x1="182.35" x2="279.75" y1="0" y2="0" spreadMethod="reflect"><stop offset="0" stop-color="#80ff7f"/><stop offset="0.099" stop-color="#8bff74"/><stop offset="0.149" stop-color="#a1ff5e"/><stop offset="0.198" stop-color="#c9ff36"/><stop offset="0.231" stop-color="#f2ff0d"/><stop offset="0.248" stop-color="#fff400"/><stop offset="0.314" stop-color="#ff8000"/><stop offset="0.397" stop-color="#ff3700"/><stop offset="0.43" stop-color="#ff0b00"/><stop offset="0.446" stop-color="#f40000"/><stop offset="0.529" stop-color="#8a0000"/><stop offset="0.545" stop-color="#800000"/><stop offset="0.909" stop-color="#8c0000"/><stop offset="0.992" stop-color="#970000"/></linearGradient><linearGradient id="a61" gradientUnits="userSpaceOnUse" x1="182.35" x2="281.37" y1="0" y2="0" spreadMethod="reflect"><stop offset="0" stop-color="#90ff6f"/><stop offset="0.098" stop-color="#99ff66"/><stop offset="0.146" stop-color="#adff52"/><stop offset="0.195" stop-color="#d3ff2c"/><stop offset="0.228" stop-color="#faff05"/><stop offset="0.244" stop-color="#ffee00"/><stop offset="0.309" stop-color="#ff7d00"/><stop offset="0.39" stop-color="#ff3500"/><stop offset="0.423" stop-color="#ff0a00"/><stop offset="0.439" stop-color="#f30000"/><stop offset="0.52" stop-color="#890000"/><stop offset="0.537" stop-color="#800000"/><stop offset="0.927" stop-color="#8b0000"/><stop offset="0.992" stop-color="#930000"/></linearGradient><linearGradient id="a62" gradientUnits="userSpaceOnUse" x1="182.35" x2="282.98" y1="0" y2="0" spreadMethod="reflect"><stop offset="0" stop-color="#9fff60"/><stop offset="0.112" stop-color="#acff53"/><stop offset="0.176" stop-color="#cfff30"/><stop offset="0.224" stop-color="#fffd00"/><stop offset="0.272" stop-color="#ffb300"/><stop offset="0.304" stop-color="#ff7a00"/><stop offset="0.384" stop-color="#ff3300"/><stop offset="0.416" stop-color="#ff0800"/><stop offset="0.432" stop-color="#f20000"/><stop offset="0.512" stop-color="#890000"/><stop offset="0.528" stop-color="#800000"/><stop offset="0.96" stop-color="#8b0000"/><stop offset="0.992" stop-color="#8e0000"/></linearGradient><linearGradient id="a63" gradientUnits="userSpaceOnUse" x1="182.35" x2="284.58" y1="0" y2="0" spreadMethod="reflect"><stop offset="0" stop-color="#afff50"/><stop offset="0.11" stop-color="#baff45"/><stop offset="0.173" stop-color="#daff25"/><stop offset="0.205" stop-color="#f7ff08"/><stop offset="0.22" stop-color="#fff500"/><stop offset="0.268" stop-color="#ffae00"/><stop offset="0.299" stop-color="#ff7600"/><stop offset="0.378" stop-color="#ff3100"/><stop offset="0.409" stop-color="#ff0700"/><stop offset="0.441" stop-color="#da0000"/><stop offset="0.504" stop-color="#880000"/><stop offset="0.52" stop-color="#800000"/><stop offset="0.992" stop-color="#890000"/></linearGradient><linearGradient id="a64" gradientUnits="userSpaceOnUse" x1="182.35" x2="286.19" y1="0" y2="0" spreadMethod="reflect"><stop offset="0" stop-color="#beff41"/><stop offset="0.109" stop-color="#c9ff36"/><stop offset="0.171" stop-color="#e6ff19"/><stop offset="0.202" stop-color="#fffe00"/><stop offset="0.248" stop-color="#ffc200"/><stop offset="0.295" stop-color="#ff7300"/><stop offset="0.372" stop-color="#ff2f00"/><stop offset="0.403" stop-color="#ff0500"/><stop offset="0.45" stop-color="#c50000"/><stop offset="0.496" stop-color="#870000"/><stop offset="0.527" stop-color="#800000"/><stop offset="0.992" stop-color="#840000"/></linearGradient><linearGradient id="a65" gradientUnits="userSpaceOnUse" x1="182.35" x2="287.81" y1="0" y2="0" spreadMethod="reflect"><stop offset="0" stop-color="#ceff31"/><stop offset="0.107" stop-color="#d7ff28"/><stop offset="0.168" stop-color="#f2ff0d"/><stop offset="0.183" stop-color="#fdff02"/><stop offset="0.214" stop-color="#ffe300"/><stop offset="0.26" stop-color="#ffa300"/><stop offset="0.29" stop-color="#ff6f00"/><stop offset="0.366" stop-color="#ff2d00"/><stop offset="0.397" stop-color="#ff0400"/><stop offset="0.489" stop-color="#870000"/><stop offset="0.519" stop-color="#800000"/><stop offset="0.992" stop-color="#800000"/></linearGradient><linearGradient id="a66" gradientUnits="userSpaceOnUse" x1="182.35" x2="289.42" y1="0" y2="0" spreadMethod="reflect"><stop offset="0" stop-color="#deff21"/><stop offset="0.12" stop-color="#eaff15"/><stop offset="0.165" stop-color="#feff01"/><stop offset="0.211" stop-color="#ffda00"/><stop offset="0.256" stop-color="#ff9d00"/><stop offset="0.286" stop-color="#ff6a00"/><stop offset="0.361" stop-color="#ff2a00"/><stop offset="0.391" stop-color="#ff0200"/><stop offset="0.481" stop-color="#860000"/><stop offset="0.511" stop-color="#800000"/><stop offset="0.992" stop-color="#800000"/></linearGradient><linearGradient id="a67" gradientUnits="userSpaceOnUse" x1="182.35" x2="291.02" y1="0" y2="0" spreadMethod="reflect"><stop offset="0" stop-color="#edff12"/><stop offset="0.119" stop-color="#f9ff06"/><stop offset="0.148" stop-color="#fffa00"/><stop offset="0.193" stop-color="#ffde00"/><stop offset="0.237" stop-color="#ffad00"/><stop offset="0.281" stop-color="#ff6600"/><stop offset="0.356" stop-color="#ff2700"/><stop offset="0.385" stop-color="#ff0000"/><stop offset="0.474" stop-color="#850000"/><stop offset="0.519" stop-color="#800000"/><stop offset="0.993" stop-color="#800000"/></linearGradient><linearGradient id="a68" gradientUnits="userSpaceOnUse" x1="182.35" x2="292.63" y1="0" y2="0" spreadMethod="reflect"><stop offset="0" stop-color="#fdff02"/><stop offset="0.102" stop-color="#fffa00"/><stop offset="0.175" stop-color="#ffde00"/><stop offset="0.219" stop-color="#ffb600"/><stop offset="0.263" stop-color="#ff7800"/><stop offset="0.277" stop-color="#ff6100"/><stop offset="0.35" stop-color="#ff2400"/><stop offset="0.38" stop-color="#fc0000"/><stop offset="0.467" stop-color="#840000"/><stop offset="0.54" stop-color="#800000"/><stop offset="0.993" stop-color="#800000"/></linearGradient><linearGradient id="a69" gradientUnits="userSpaceOnUse" x1="182.35" x2="294.25" y1="0" y2="0" spreadMethod="reflect"><stop offset="0" stop-color="#fff200"/><stop offset="0.115" stop-color="#ffe800"/><stop offset="0.173" stop-color="#ffd100"/><stop offset="0.216" stop-color="#ffad00"/><stop offset="0.259" stop-color="#ff7200"/><stop offset="0.273" stop-color="#ff5b00"/><stop offset="0.345" stop-color="#ff2000"/><stop offset="0.374" stop-color="#fa0000"/><stop offset="0.46" stop-color="#830000"/><stop offset="0.993" stop-color="#800000"/></linearGradient><linearGradient id="a70" gradientUnits="userSpaceOnUse" x1="182.35" x2="295.86" y1="0" y2="0" spreadMethod="reflect"><stop offset="0" stop-color="#ffe200"/><stop offset="0.113" stop-color="#ffda00"/><stop offset="0.17" stop-color="#ffc500"/><stop offset="0.213" stop-color="#ffa300"/><stop offset="0.255" stop-color="#ff6b00"/><stop offset="0.27" stop-color="#ff5600"/><stop offset="0.34" stop-color="#ff1d00"/><stop offset="0.355" stop-color="#ff0a00"/><stop offset="0.369" stop-color="#f70000"/><stop offset="0.454" stop-color="#820000"/><stop offset="0.993" stop-color="#800000"/></linearGradient><linearGradient id="a71" gradientUnits="userSpaceOnUse" x1="182.35" x2="297.47" y1="0" y2="0" spreadMethod="reflect"><stop offset="0" stop-color="#ffd200"/><stop offset="0.126" stop-color="#ffc700"/><stop offset="0.182" stop-color="#ffaf00"/><stop offset="0.224" stop-color="#ff8a00"/><stop offset="0.266" stop-color="#ff4f00"/><stop offset="0.336" stop-color="#ff1800"/><stop offset="0.35" stop-color="#ff0700"/><stop offset="0.378" stop-color="#e10000"/><stop offset="0.448" stop-color="#810000"/><stop offset="0.993" stop-color="#800000"/></linearGradient><linearGradient id="a72" gradientUnits="userSpaceOnUse" x1="182.35" x2="299.07" y1="0" y2="0" spreadMethod="reflect"><stop offset="0" stop-color="#ffc300"/><stop offset="0.124" stop-color="#ffb900"/><stop offset="0.179" stop-color="#ffa300"/><stop offset="0.221" stop-color="#ff8000"/><stop offset="0.262" stop-color="#ff4900"/><stop offset="0.331" stop-color="#ff1400"/><stop offset="0.345" stop-color="#ff0300"/><stop offset="0.441" stop-color="#800000"/><stop offset="0.993" stop-color="#800000"/></linearGradient><linearGradient id="a73" gradientUnits="userSpaceOnUse" x1="182.35" x2="300.69" y1="0" y2="0" spreadMethod="reflect"><stop offset="0" stop-color="#ffb300"/><stop offset="0.122" stop-color="#ffaa00"/><stop offset="0.177" stop-color="#ff9600"/><stop offset="0.218" stop-color="#ff7600"/><stop offset="0.259" stop-color="#ff4200"/><stop offset="0.327" stop-color="#ff0f00"/><stop offset="0.34" stop-color="#fe0000"/><stop offset="0.435" stop-color="#800000"/><stop offset="0.993" stop-color="#800000"/></linearGradient><linearGradient id="a74" gradientUnits="userSpaceOnUse" x1="182.35" x2="302.3" y1="0" y2="0" spreadMethod="reflect"><stop offset="0" stop-color="#ffa300"/><stop offset="0.121" stop-color="#ff9b00"/><stop offset="0.188" stop-color="#ff8100"/><stop offset="0.228" stop-color="#ff5d00"/><stop offset="0.255" stop-color="#ff3a00"/><stop offset="0.322" stop-color="#ff0a00"/><stop offset="0.336" stop-color="#f90000"/><stop offset="0.43" stop-color="#800000"/><stop offset="0.993" stop-color="#800000"/></linearGradient><linearGradient id="a75" gradientUnits="userSpaceOnUse" x1="182.35" x2="303.9" y1="0" y2="0" spreadMethod="reflect"><stop offset="0" stop-color="#ff9400"/><stop offset="0.132" stop-color="#ff8a00"/><stop offset="0.185" stop-color="#ff7500"/><stop offset="0.225" stop-color="#ff5400"/><stop offset="0.252" stop-color="#ff3300"/><stop offset="0.318" stop-color="#ff0400"/><stop offset="0.358" stop-color="#d30000"/><stop offset="0.424" stop-color="#800000"/><stop offset="0.993" stop-color="#800000"/></linearGradient><linearGradient id="a76" gradientUnits="userSpaceOnUse" x1="182.35" x2="305.51" y1="0" y2="0" spreadMethod="reflect"><stop offset="0" stop-color="#ff8500"/><stop offset="0.131" stop-color="#ff7c00"/><stop offset="0.183" stop-color="#ff6900"/><stop offset="0.222" stop-color="#ff4900"/><stop offset="0.248" stop-color="#ff2b00"/><stop offset="0.314" stop-color="#fd0000"/><stop offset="0.405" stop-color="#880000"/><stop offset="0.418" stop-color="#800000"/><stop offset="0.993" stop-color="#800000"/></linearGradient><linearGradient id="a77" gradientUnits="userSpaceOnUse" x1="182.35" x2="307.12" y1="0" y2="0" spreadMethod="reflect"><stop offset="0" stop-color="#ff7700"/><stop offset="0.129" stop-color="#ff6e00"/><stop offset="0.194" stop-color="#ff5400"/><stop offset="0.245" stop-color="#ff2200"/><stop offset="0.297" stop-color="#ff0200"/><stop offset="0.335" stop-color="#d80000"/><stop offset="0.4" stop-color="#840000"/><stop offset="0.516" stop-color="#800000"/><stop offset="0.994" stop-color="#800000"/></linearGradient><linearGradient id="a78" gradientUnits="userSpaceOnUse" x1="182.35" x2="308.74" y1="0" y2="0" spreadMethod="reflect"><stop offset="0" stop-color="#ff6800"/><stop offset="0.127" stop-color="#ff6000"/><stop offset="0.191" stop-color="#ff4800"/><stop offset="0.255" stop-color="#ff1200"/><stop offset="0.293" stop-color="#fa0000"/><stop offset="0.357" stop-color="#b10000"/><stop offset="0.395" stop-color="#800000"/><stop offset="0.994" stop-color="#800000"/></linearGradient><linearGradient id="a79" gradientUnits="userSpaceOnUse" x1="182.35" x2="310.35" y1="0" y2="0" spreadMethod="reflect"><stop offset="0" stop-color="#ff5a00"/><stop offset="0.138" stop-color="#ff5000"/><stop offset="0.201" stop-color="#ff3400"/><stop offset="0.252" stop-color="#ff0a00"/><stop offset="0.277" stop-color="#fa0000"/><stop offset="0.314" stop-color="#da0000"/><stop offset="0.39" stop-color="#800000"/><stop offset="0.994" stop-color="#800000"/></linearGradient><linearGradient id="a80" gradientUnits="userSpaceOnUse" x1="182.35" x2="311.96" y1="0" y2="0" spreadMethod="reflect"><stop offset="0" stop-color="#ff4b00"/><stop offset="0.137" stop-color="#ff4200"/><stop offset="0.199" stop-color="#ff2800"/><stop offset="0.248" stop-color="#ff0100"/><stop offset="0.298" stop-color="#df0000"/><stop offset="0.373" stop-color="#860000"/><stop offset="0.398" stop-color="#800000"/><stop offset="0.994" stop-color="#800000"/></linearGradient><linearGradient id="a81" gradientUnits="userSpaceOnUse" x1="182.35" x2="313.56" y1="0" y2="0" spreadMethod="reflect"><stop offset="0" stop-color="#ff3c00"/><stop offset="0.135" stop-color="#ff3400"/><stop offset="0.196" stop-color="#ff1c00"/><stop offset="0.233" stop-color="#fc0000"/><stop offset="0.294" stop-color="#d70000"/><stop offset="0.368" stop-color="#810000"/><stop offset="0.994" stop-color="#800000"/></linearGradient><linearGradient id="a82" gradientUnits="userSpaceOnUse" x1="182.35" x2="315.18" y1="0" y2="0" spreadMethod="reflect"><stop offset="0" stop-color="#ff2e00"/><stop offset="0.145" stop-color="#ff2400"/><stop offset="0.194" stop-color="#ff1000"/><stop offset="0.218" stop-color="#fb0000"/><stop offset="0.291" stop-color="#cf0000"/><stop offset="0.364" stop-color="#800000"/><stop offset="0.994" stop-color="#800000"/></linearGradient><linearGradient id="a83" gradientUnits="userSpaceOnUse" x1="182.35" x2="316.78" y1="0" y2="0" spreadMethod="reflect"><stop offset="0" stop-color="#ff1b00"/><stop offset="0.144" stop-color="#ff1300"/><stop offset="0.192" stop-color="#ff0000"/><stop offset="0.251" stop-color="#db0000"/><stop offset="0.287" stop-color="#c40000"/><stop offset="0.347" stop-color="#830000"/><stop offset="0.994" stop-color="#800000"/></linearGradient><linearGradient id="a84" gradientUnits="userSpaceOnUse" x1="182.35" x2="318.39" y1="0" y2="0" spreadMethod="reflect"><stop offset="0" stop-color="#ff0900"/><stop offset="0.154" stop-color="#fd0000"/><stop offset="0.201" stop-color="#e80000"/><stop offset="0.284" stop-color="#b90000"/><stop offset="0.343" stop-color="#800000"/><stop offset="0.994" stop-color="#800000"/></linearGradient><linearGradient id="a85" gradientUnits="userSpaceOnUse" x1="182.35" x2="320" y1="0" y2="0" spreadMethod="reflect"><stop offset="0" stop-color="#f50000"/><stop offset="0.14" stop-color="#ee0000"/><stop offset="0.199" stop-color="#d90000"/><stop offset="0.281" stop-color="#ad0000"/><stop offset="0.327" stop-color="#800000"/><stop offset="0.994" stop-color="#800000"/></linearGradient><linearGradient id="a86" gradientUnits="userSpaceOnUse" x1="182.35" x2="321.62" y1="0" y2="0" spreadMethod="reflect"><stop offset="0" stop-color="#e30000"/><stop offset="0.15" stop-color="#da0000"/><stop offset="0.266" stop-color="#a90000"/><stop offset="0.312" stop-color="#810000"/><stop offset="0.994" stop-color="#800000"/></linearGradient><linearGradient id="a87" gradientUnits="userSpaceOnUse" x1="182.35" x2="323.23" y1="0" y2="0" spreadMethod="reflect"><stop offset="0" stop-color="#d00000"/><stop offset="0.149" stop-color="#c90000"/><stop offset="0.263" stop-color="#9c0000"/><stop offset="0.297" stop-color="#820000"/><stop offset="0.994" stop-color="#800000"/></linearGradient><linearGradient id="a88" gradientUnits="userSpaceOnUse" x1="182.35" x2="324.84" y1="0" y2="0" spreadMethod="reflect"><stop offset="0" stop-color="#be0000"/><stop offset="0.158" stop-color="#b50000"/><stop offset="0.271" stop-color="#870000"/><stop offset="0.294" stop-color="#800000"/><stop offset="0.994" stop-color="#800000"/></linearGradient><linearGradient id="a89" gradientUnits="userSpaceOnUse" x1="182.35" x2="326.44" y1="0" y2="0" spreadMethod="reflect"><stop offset="0" stop-color="#ab0000"/><stop offset="0.156" stop-color="#a30000"/><stop offset="0.268" stop-color="#800000"/><stop offset="0.994" stop-color="#800000"/></linearGradient><linearGradient id="a90" gradientUnits="userSpaceOnUse" x1="182.35" x2="328.06" y1="0" y2="0" spreadMethod="reflect"><stop offset="0" stop-color="#990000"/><stop offset="0.155" stop-color="#920000"/><stop offset="0.221" stop-color="#800000"/><stop offset="0.994" stop-color="#800000"/></linearGradient><linearGradient id="b1" gradientUnits="userSpaceOnUse" x1="526.95" x2="529.37" y1="0" y2="0" spreadMethod="reflect"><stop offset="0" stop-color="#51ffae"/><stop offset="0.667" stop-color="#0008ff"/></linearGradient><linearGradient id="b2" gradientUnits="userSpaceOnUse" x1="526.95" x2="530.98" y1="0" y2="0" spreadMethod="reflect"><stop offset="0" stop-color="#6eff91"/><stop offset="0.4" stop-color="#00ffff"/><stop offset="0.8" stop-color="#0000fa"/></linearGradient><linearGradient id="b3" gradientUnits="userSpaceOnUse" x1="526.95" x2="532.59" y1="0" y2="0" spreadMethod="reflect"><stop offset="0" stop-color="#7dff82"/><stop offset="0.286" stop-color="#2bffd4"/><stop offset="0.571" stop-color="#00a6ff"/><stop offset="0.857" stop-color="#0000e9"/></linearGradient><linearGradient id="b4" gradientUnits="userSpaceOnUse" x1="526.95" x2="534.2" y1="0" y2="0" spreadMethod="reflect"><stop offset="0" stop-color="#8dff72"/><stop offset="0.222" stop-color="#4cffb3"/><stop offset="0.444" stop-color="#00faff"/><stop offset="0.667" stop-color="#0067ff"/><stop offset="0.889" stop-color="#0000d8"/></linearGradient><linearGradient id="b5" gradientUnits="userSpaceOnUse" x1="526.95" x2="535.81" y1="0" y2="0" spreadMethod="reflect"><stop offset="0" stop-color="#9cff63"/><stop offset="0.182" stop-color="#6aff95"/><stop offset="0.364" stop-color="#1fffe0"/><stop offset="0.545" stop-color="#00b2ff"/><stop offset="0.727" stop-color="#0037ff"/><stop offset="0.909" stop-color="#0000c7"/></linearGradient><linearGradient id="b6" gradientUnits="userSpaceOnUse" x1="526.95" x2="537.42" y1="0" y2="0" spreadMethod="reflect"><stop offset="0" stop-color="#acff53"/><stop offset="0.154" stop-color="#80ff7f"/><stop offset="0.308" stop-color="#41ffbe"/><stop offset="0.462" stop-color="#00f4ff"/><stop offset="0.769" stop-color="#001bff"/><stop offset="0.923" stop-color="#0000c1"/></linearGradient><linearGradient id="b7" gradientUnits="userSpaceOnUse" x1="526.95" x2="539.03" y1="0" y2="0" spreadMethod="reflect"><stop offset="0" stop-color="#bbff44"/><stop offset="0.133" stop-color="#95ff6a"/><stop offset="0.267" stop-color="#60ff9f"/><stop offset="0.4" stop-color="#14ffeb"/><stop offset="0.533" stop-color="#00baff"/><stop offset="0.8" stop-color="#0007ff"/><stop offset="0.933" stop-color="#0000bc"/></linearGradient><linearGradient id="b8" gradientUnits="userSpaceOnUse" x1="526.95" x2="540.63" y1="0" y2="0" spreadMethod="reflect"><stop offset="0" stop-color="#cbff34"/><stop offset="0.118" stop-color="#aaff55"/><stop offset="0.235" stop-color="#7aff85"/><stop offset="0.353" stop-color="#33ffcc"/><stop offset="0.471" stop-color="#00eeff"/><stop offset="0.588" stop-color="#008eff"/><stop offset="0.706" stop-color="#0041ff"/><stop offset="0.824" stop-color="#0000f5"/><stop offset="0.941" stop-color="#0000b6"/></linearGradient><linearGradient id="b9" gradientUnits="userSpaceOnUse" x1="526.95" x2="542.25" y1="0" y2="0" spreadMethod="reflect"><stop offset="0" stop-color="#dbff24"/><stop offset="0.105" stop-color="#bdff42"/><stop offset="0.211" stop-color="#92ff6d"/><stop offset="0.316" stop-color="#54ffab"/><stop offset="0.421" stop-color="#0cfff3"/><stop offset="0.526" stop-color="#00bbff"/><stop offset="0.737" stop-color="#0026ff"/><stop offset="0.842" stop-color="#0000e7"/><stop offset="0.947" stop-color="#0000b0"/></linearGradient><linearGradient id="b10" gradientUnits="userSpaceOnUse" x1="526.95" x2="543.86" y1="0" y2="0" spreadMethod="reflect"><stop offset="0" stop-color="#edff12"/><stop offset="0.095" stop-color="#d0ff2f"/><stop offset="0.19" stop-color="#a9ff56"/><stop offset="0.286" stop-color="#73ff8c"/><stop offset="0.381" stop-color="#29ffd6"/><stop offset="0.476" stop-color="#00ebff"/><stop offset="0.571" stop-color="#0095ff"/><stop offset="0.762" stop-color="#0014ff"/><stop offset="0.857" stop-color="#0000de"/><stop offset="0.952" stop-color="#0000b0"/></linearGradient><linearGradient id="b11" gradientUnits="userSpaceOnUse" x1="526.95" x2="545.47" y1="0" y2="0" spreadMethod="reflect"><stop offset="0" stop-color="#fffe00"/><stop offset="0.087" stop-color="#e2ff1d"/><stop offset="0.174" stop-color="#bcff43"/><stop offset="0.261" stop-color="#8aff75"/><stop offset="0.435" stop-color="#0afff5"/><stop offset="0.522" stop-color="#00c4ff"/><stop offset="0.609" stop-color="#007cff"/><stop offset="0.783" stop-color="#0007ff"/><stop offset="0.957" stop-color="#0000af"/></linearGradient><linearGradient id="b12" gradientUnits="userSpaceOnUse" x1="526.95" x2="547.08" y1="0" y2="0" spreadMethod="reflect"><stop offset="0" stop-color="#ffec00"/><stop offset="0.08" stop-color="#f4ff0b"/><stop offset="0.16" stop-color="#cfff30"/><stop offset="0.24" stop-color="#a1ff5e"/><stop offset="0.4" stop-color="#26ffd9"/><stop offset="0.48" stop-color="#00ecff"/><stop offset="0.56" stop-color="#00a3ff"/><stop offset="0.72" stop-color="#002eff"/><stop offset="0.8" stop-color="#0000fa"/><stop offset="0.96" stop-color="#0000af"/></linearGradient><linearGradient id="b13" gradientUnits="userSpaceOnUse" x1="526.95" x2="548.69" y1="0" y2="0" spreadMethod="reflect"><stop offset="0" stop-color="#ffd900"/><stop offset="0.074" stop-color="#fff800"/><stop offset="0.148" stop-color="#e2ff1d"/><stop offset="0.222" stop-color="#b7ff48"/><stop offset="0.296" stop-color="#83ff7c"/><stop offset="0.444" stop-color="#09fff6"/><stop offset="0.519" stop-color="#00caff"/><stop offset="0.593" stop-color="#0089ff"/><stop offset="0.741" stop-color="#001dff"/><stop offset="0.815" stop-color="#0000f1"/><stop offset="0.963" stop-color="#0000ae"/></linearGradient><linearGradient id="b14" gradientUnits="userSpaceOnUse" x1="526.95" x2="550.3" y1="0" y2="0" spreadMethod="reflect"><stop offset="0" stop-color="#ffc700"/><stop offset="0.069" stop-color="#ffe600"/><stop offset="0.138" stop-color="#f5ff0a"/><stop offset="0.207" stop-color="#cdff32"/><stop offset="0.276" stop-color="#9bff64"/><stop offset="0.414" stop-color="#24ffdb"/><stop offset="0.483" stop-color="#00edff"/><stop offset="0.621" stop-color="#0074ff"/><stop offset="0.759" stop-color="#000eff"/><stop offset="0.828" stop-color="#0000e8"/><stop offset="0.966" stop-color="#0000ae"/></linearGradient><linearGradient id="b15" gradientUnits="userSpaceOnUse" x1="526.95" x2="551.91" y1="0" y2="0" spreadMethod="reflect"><stop offset="0" stop-color="#ffb500"/><stop offset="0.129" stop-color="#fffa00"/><stop offset="0.194" stop-color="#ddff22"/><stop offset="0.323" stop-color="#75ff8a"/><stop offset="0.387" stop-color="#39ffc6"/><stop offset="0.452" stop-color="#06fff9"/><stop offset="0.516" stop-color="#00ceff"/><stop offset="0.581" stop-color="#0092ff"/><stop offset="0.774" stop-color="#0002ff"/><stop offset="0.968" stop-color="#0000ad"/></linearGradient><linearGradient id="b16" gradientUnits="userSpaceOnUse" x1="526.95" x2="553.52" y1="0" y2="0" spreadMethod="reflect"><stop offset="0" stop-color="#ffa200"/><stop offset="0.121" stop-color="#ffea00"/><stop offset="0.182" stop-color="#ebff14"/><stop offset="0.303" stop-color="#88ff77"/><stop offset="0.424" stop-color="#1cffe3"/><stop offset="0.485" stop-color="#00e9ff"/><stop offset="0.606" stop-color="#007fff"/><stop offset="0.727" stop-color="#0023ff"/><stop offset="0.788" stop-color="#0000f8"/><stop offset="0.909" stop-color="#0000c2"/><stop offset="0.97" stop-color="#0000ad"/></linearGradient><linearGradient id="b17" gradientUnits="userSpaceOnUse" x1="526.95" x2="555.12" y1="0" y2="0" spreadMethod="reflect"><stop offset="0" stop-color="#ff9000"/><stop offset="0.171" stop-color="#f9ff06"/><stop offset="0.343" stop-color="#64ff9b"/><stop offset="0.457" stop-color="#00ffff"/><stop offset="0.629" stop-color="#006dff"/><stop offset="0.743" stop-color="#0016ff"/><stop offset="0.8" stop-color="#0000f0"/><stop offset="0.914" stop-color="#0000bf"/><stop offset="0.971" stop-color="#0000ad"/></linearGradient><linearGradient id="b18" gradientUnits="userSpaceOnUse" x1="526.95" x2="556.74" y1="0" y2="0" spreadMethod="reflect"><stop offset="0" stop-color="#ff7e00"/><stop offset="0.162" stop-color="#fff500"/><stop offset="0.216" stop-color="#dbff24"/><stop offset="0.432" stop-color="#14ffeb"/><stop offset="0.486" stop-color="#00e6ff"/><stop offset="0.649" stop-color="#005dff"/><stop offset="0.757" stop-color="#000aff"/><stop offset="0.811" stop-color="#0000e8"/><stop offset="0.865" stop-color="#0000cd"/><stop offset="0.973" stop-color="#0000ad"/></linearGradient><linearGradient id="b19" gradientUnits="userSpaceOnUse" x1="526.95" x2="558.35" y1="0" y2="0" spreadMethod="reflect"><stop offset="0" stop-color="#ff6c00"/><stop offset="0.154" stop-color="#ffe600"/><stop offset="0.205" stop-color="#ebff14"/><stop offset="0.41" stop-color="#27ffd8"/><stop offset="0.462" stop-color="#00faff"/><stop offset="0.667" stop-color="#004eff"/><stop offset="0.769" stop-color="#0000fe"/><stop offset="0.872" stop-color="#0000c8"/><stop offset="0.974" stop-color="#0000ad"/></linearGradient><linearGradient id="b20" gradientUnits="userSpaceOnUse" x1="526.95" x2="559.96" y1="0" y2="0" spreadMethod="reflect"><stop offset="0" stop-color="#ff5900"/><stop offset="0.195" stop-color="#fbff04"/><stop offset="0.39" stop-color="#39ffc6"/><stop offset="0.439" stop-color="#0efff1"/><stop offset="0.488" stop-color="#00e2ff"/><stop offset="0.732" stop-color="#001aff"/><stop offset="0.78" stop-color="#0000f3"/><stop offset="0.878" stop-color="#0000c2"/><stop offset="0.976" stop-color="#0000ac"/></linearGradient><linearGradient id="b21" gradientUnits="userSpaceOnUse" x1="526.95" x2="561.57" y1="0" y2="0" spreadMethod="reflect"><stop offset="0" stop-color="#ff4d00"/><stop offset="0.14" stop-color="#ffc900"/><stop offset="0.186" stop-color="#fff600"/><stop offset="0.233" stop-color="#d9ff26"/><stop offset="0.419" stop-color="#22ffdd"/><stop offset="0.465" stop-color="#00f8ff"/><stop offset="0.698" stop-color="#0038ff"/><stop offset="0.744" stop-color="#0014ff"/><stop offset="0.791" stop-color="#0000f1"/><stop offset="0.884" stop-color="#0000c2"/><stop offset="0.977" stop-color="#0000ac"/></linearGradient><linearGradient id="b22" gradientUnits="userSpaceOnUse" x1="526.95" x2="563.18" y1="0" y2="0" spreadMethod="reflect"><stop offset="0" stop-color="#ff4000"/><stop offset="0.133" stop-color="#ffbb00"/><stop offset="0.178" stop-color="#ffe800"/><stop offset="0.222" stop-color="#e8ff17"/><stop offset="0.4" stop-color="#35ffca"/><stop offset="0.444" stop-color="#0efff1"/><stop offset="0.489" stop-color="#00e6ff"/><stop offset="0.756" stop-color="#000eff"/><stop offset="0.8" stop-color="#0000ef"/><stop offset="0.889" stop-color="#0000c3"/><stop offset="0.978" stop-color="#0000ac"/></linearGradient><linearGradient id="b23" gradientUnits="userSpaceOnUse" x1="526.95" x2="564.79" y1="0" y2="0" spreadMethod="reflect"><stop offset="0" stop-color="#ff3400"/><stop offset="0.128" stop-color="#ffae00"/><stop offset="0.17" stop-color="#ffdb00"/><stop offset="0.213" stop-color="#f6ff09"/><stop offset="0.383" stop-color="#47ffb8"/><stop offset="0.468" stop-color="#00faff"/><stop offset="0.681" stop-color="#004cff"/><stop offset="0.766" stop-color="#0009ff"/><stop offset="0.809" stop-color="#0000ed"/><stop offset="0.894" stop-color="#0000c3"/><stop offset="0.979" stop-color="#0000ac"/></linearGradient><linearGradient id="b24" gradientUnits="userSpaceOnUse" x1="526.95" x2="566.4" y1="0" y2="0" spreadMethod="reflect"><stop offset="0" stop-color="#ff2800"/><stop offset="0.122" stop-color="#ffa000"/><stop offset="0.204" stop-color="#fffa00"/><stop offset="0.367" stop-color="#59ffa6"/><stop offset="0.449" stop-color="#0efff1"/><stop offset="0.49" stop-color="#00e9ff"/><stop offset="0.776" stop-color="#0004ff"/><stop offset="0.898" stop-color="#0000c3"/><stop offset="0.98" stop-color="#0000ab"/></linearGradient><linearGradient id="b25" gradientUnits="userSpaceOnUse" x1="526.95" x2="568" y1="0" y2="0" spreadMethod="reflect"><stop offset="0" stop-color="#ff1b00"/><stop offset="0.118" stop-color="#ff9200"/><stop offset="0.196" stop-color="#ffed00"/><stop offset="0.235" stop-color="#e6ff19"/><stop offset="0.392" stop-color="#43ffbc"/><stop offset="0.471" stop-color="#00fcff"/><stop offset="0.667" stop-color="#005dff"/><stop offset="0.784" stop-color="#0000ff"/><stop offset="0.902" stop-color="#0000c3"/><stop offset="0.98" stop-color="#0000ab"/></linearGradient><linearGradient id="b26" gradientUnits="userSpaceOnUse" x1="526.95" x2="569.62" y1="0" y2="0" spreadMethod="reflect"><stop offset="0" stop-color="#ff0f00"/><stop offset="0.113" stop-color="#ff8500"/><stop offset="0.189" stop-color="#ffdf00"/><stop offset="0.226" stop-color="#f4ff0b"/><stop offset="0.377" stop-color="#54ffab"/><stop offset="0.453" stop-color="#0ffff0"/><stop offset="0.491" stop-color="#00edff"/><stop offset="0.792" stop-color="#0000fe"/><stop offset="0.906" stop-color="#0000c3"/><stop offset="0.981" stop-color="#0000ab"/></linearGradient><linearGradient id="b27" gradientUnits="userSpaceOnUse" x1="526.95" x2="571.23" y1="0" y2="0" spreadMethod="reflect"><stop offset="0" stop-color="#ff0200"/><stop offset="0.109" stop-color="#ff7700"/><stop offset="0.218" stop-color="#fffd00"/><stop offset="0.364" stop-color="#64ff9b"/><stop offset="0.473" stop-color="#00ffff"/><stop offset="0.764" stop-color="#0017ff"/><stop offset="0.8" stop-color="#0000fc"/><stop offset="0.909" stop-color="#0000c3"/><stop offset="0.982" stop-color="#0000ab"/></linearGradient><linearGradient id="b28" gradientUnits="userSpaceOnUse" x1="526.95" x2="572.84" y1="0" y2="0" spreadMethod="reflect"><stop offset="0" stop-color="#f50000"/><stop offset="0.035" stop-color="#ff1c00"/><stop offset="0.105" stop-color="#ff6900"/><stop offset="0.211" stop-color="#ffef00"/><stop offset="0.246" stop-color="#e6ff19"/><stop offset="0.386" stop-color="#50ffaf"/><stop offset="0.456" stop-color="#10ffef"/><stop offset="0.491" stop-color="#00f0ff"/><stop offset="0.772" stop-color="#0013ff"/><stop offset="0.807" stop-color="#0000fa"/><stop offset="0.877" stop-color="#0000d1"/><stop offset="0.982" stop-color="#0000aa"/></linearGradient><linearGradient id="b29" gradientUnits="userSpaceOnUse" x1="526.95" x2="574.45" y1="0" y2="0" spreadMethod="reflect"><stop offset="0" stop-color="#e80000"/><stop offset="0.034" stop-color="#ff0f00"/><stop offset="0.102" stop-color="#ff5b00"/><stop offset="0.203" stop-color="#ffe300"/><stop offset="0.237" stop-color="#f3ff0c"/><stop offset="0.339" stop-color="#82ff7d"/><stop offset="0.475" stop-color="#02fffd"/><stop offset="0.78" stop-color="#0010ff"/><stop offset="0.814" stop-color="#0000f9"/><stop offset="0.881" stop-color="#0000d1"/><stop offset="0.983" stop-color="#0000aa"/></linearGradient><linearGradient id="b30" gradientUnits="userSpaceOnUse" x1="526.95" x2="576.06" y1="0" y2="0" spreadMethod="reflect"><stop offset="0" stop-color="#dc0000"/><stop offset="0.033" stop-color="#ff0200"/><stop offset="0.098" stop-color="#ff4e00"/><stop offset="0.197" stop-color="#ffd600"/><stop offset="0.23" stop-color="#fffe00"/><stop offset="0.328" stop-color="#90ff6f"/><stop offset="0.426" stop-color="#30ffcf"/><stop offset="0.459" stop-color="#12ffed"/><stop offset="0.492" stop-color="#00f4ff"/><stop offset="0.787" stop-color="#000dff"/><stop offset="0.82" stop-color="#0000f8"/><stop offset="0.885" stop-color="#0000d0"/><stop offset="0.984" stop-color="#0000aa"/></linearGradient><linearGradient id="b31" gradientUnits="userSpaceOnUse" x1="526.95" x2="577.67" y1="0" y2="0" spreadMethod="reflect"><stop offset="0" stop-color="#d30000"/><stop offset="0.032" stop-color="#f70000"/><stop offset="0.063" stop-color="#ff1c00"/><stop offset="0.127" stop-color="#ff6b00"/><stop offset="0.222" stop-color="#ffeb00"/><stop offset="0.254" stop-color="#edff12"/><stop offset="0.381" stop-color="#62ff9d"/><stop offset="0.476" stop-color="#0afff5"/><stop offset="0.508" stop-color="#00eeff"/><stop offset="0.794" stop-color="#0010ff"/><stop offset="0.825" stop-color="#0000fb"/><stop offset="0.889" stop-color="#0000d3"/><stop offset="0.984" stop-color="#0000ab"/></linearGradient><linearGradient id="b32" gradientUnits="userSpaceOnUse" x1="526.95" x2="579.28" y1="0" y2="0" spreadMethod="reflect"><stop offset="0" stop-color="#cb0000"/><stop offset="0.031" stop-color="#ed0000"/><stop offset="0.062" stop-color="#ff0f00"/><stop offset="0.123" stop-color="#ff5a00"/><stop offset="0.215" stop-color="#ffd800"/><stop offset="0.246" stop-color="#fffe00"/><stop offset="0.369" stop-color="#76ff89"/><stop offset="0.492" stop-color="#03fffc"/><stop offset="0.831" stop-color="#0000fe"/><stop offset="0.923" stop-color="#0000c8"/><stop offset="0.985" stop-color="#0000ac"/></linearGradient><linearGradient id="b33" gradientUnits="userSpaceOnUse" x1="526.95" x2="580.88" y1="0" y2="0" spreadMethod="reflect"><stop offset="0" stop-color="#c20000"/><stop offset="0.06" stop-color="#ff0300"/><stop offset="0.119" stop-color="#ff4b00"/><stop offset="0.239" stop-color="#ffeb00"/><stop offset="0.269" stop-color="#efff10"/><stop offset="0.388" stop-color="#6aff95"/><stop offset="0.507" stop-color="#00fdff"/><stop offset="0.836" stop-color="#0002ff"/><stop offset="0.955" stop-color="#0000bc"/><stop offset="0.985" stop-color="#0000ad"/></linearGradient><linearGradient id="b34" gradientUnits="userSpaceOnUse" x1="526.95" x2="582.5" y1="0" y2="0" spreadMethod="reflect"><stop offset="0" stop-color="#ba0000"/><stop offset="0.058" stop-color="#f70000"/><stop offset="0.087" stop-color="#ff1600"/><stop offset="0.232" stop-color="#ffd800"/><stop offset="0.261" stop-color="#fffc00"/><stop offset="0.406" stop-color="#61ff9e"/><stop offset="0.493" stop-color="#11ffee"/><stop offset="0.522" stop-color="#00f9ff"/><stop offset="0.841" stop-color="#0005ff"/><stop offset="0.957" stop-color="#0000bd"/><stop offset="0.986" stop-color="#0000ae"/></linearGradient><linearGradient id="b35" gradientUnits="userSpaceOnUse" x1="526.95" x2="584.11" y1="0" y2="0" spreadMethod="reflect"><stop offset="0" stop-color="#b10000"/><stop offset="0.056" stop-color="#eb0000"/><stop offset="0.085" stop-color="#ff0900"/><stop offset="0.225" stop-color="#ffc600"/><stop offset="0.254" stop-color="#ffe900"/><stop offset="0.282" stop-color="#f2ff0d"/><stop offset="0.394" stop-color="#73ff8c"/><stop offset="0.507" stop-color="#0dfff2"/><stop offset="0.535" stop-color="#00f5ff"/><stop offset="0.845" stop-color="#0008ff"/><stop offset="0.873" stop-color="#0000f2"/><stop offset="0.986" stop-color="#0000af"/></linearGradient><linearGradient id="b36" gradientUnits="userSpaceOnUse" x1="526.95" x2="585.72" y1="0" y2="0" spreadMethod="reflect"><stop offset="0" stop-color="#a80000"/><stop offset="0.082" stop-color="#fb0000"/><stop offset="0.11" stop-color="#ff1c00"/><stop offset="0.219" stop-color="#ffb400"/><stop offset="0.274" stop-color="#fff900"/><stop offset="0.329" stop-color="#c5ff3a"/><stop offset="0.411" stop-color="#6cff93"/><stop offset="0.521" stop-color="#09fff6"/><stop offset="0.548" stop-color="#00f2ff"/><stop offset="0.849" stop-color="#000bff"/><stop offset="0.877" stop-color="#0000f5"/><stop offset="0.986" stop-color="#0000af"/></linearGradient><linearGradient id="b37" gradientUnits="userSpaceOnUse" x1="526.95" x2="587.33" y1="0" y2="0" spreadMethod="reflect"><stop offset="0" stop-color="#a00000"/><stop offset="0.08" stop-color="#ef0000"/><stop offset="0.107" stop-color="#ff0e00"/><stop offset="0.24" stop-color="#ffc400"/><stop offset="0.267" stop-color="#ffe600"/><stop offset="0.293" stop-color="#f6ff09"/><stop offset="0.4" stop-color="#7eff81"/><stop offset="0.533" stop-color="#06fff9"/><stop offset="0.587" stop-color="#00daff"/><stop offset="0.853" stop-color="#000eff"/><stop offset="0.88" stop-color="#0000f7"/><stop offset="0.987" stop-color="#0000b0"/></linearGradient><linearGradient id="b38" gradientUnits="userSpaceOnUse" x1="526.95" x2="588.94" y1="0" y2="0" spreadMethod="reflect"><stop offset="0" stop-color="#970000"/><stop offset="0.104" stop-color="#fe0000"/><stop offset="0.26" stop-color="#ffd300"/><stop offset="0.286" stop-color="#fff400"/><stop offset="0.312" stop-color="#eaff15"/><stop offset="0.416" stop-color="#77ff88"/><stop offset="0.545" stop-color="#04fffb"/><stop offset="0.831" stop-color="#0026ff"/><stop offset="0.883" stop-color="#0000fa"/><stop offset="0.987" stop-color="#0000b1"/></linearGradient><linearGradient id="b39" gradientUnits="userSpaceOnUse" x1="526.95" x2="590.55" y1="0" y2="0" spreadMethod="reflect"><stop offset="0" stop-color="#8f0000"/><stop offset="0.101" stop-color="#ef0000"/><stop offset="0.127" stop-color="#ff1400"/><stop offset="0.253" stop-color="#ffc100"/><stop offset="0.304" stop-color="#fdff02"/><stop offset="0.405" stop-color="#88ff77"/><stop offset="0.532" stop-color="#16ffe9"/><stop offset="0.557" stop-color="#02fffd"/><stop offset="0.81" stop-color="#003fff"/><stop offset="0.886" stop-color="#0000fc"/><stop offset="0.987" stop-color="#0000b2"/></linearGradient><linearGradient id="b40" gradientUnits="userSpaceOnUse" x1="526.95" x2="592.16" y1="0" y2="0" spreadMethod="reflect"><stop offset="0" stop-color="#860000"/><stop offset="0.099" stop-color="#e10000"/><stop offset="0.123" stop-color="#ff0500"/><stop offset="0.247" stop-color="#ffaf00"/><stop offset="0.296" stop-color="#ffef00"/><stop offset="0.321" stop-color="#f2ff0d"/><stop offset="0.395" stop-color="#99ff66"/><stop offset="0.519" stop-color="#28ffd7"/><stop offset="0.568" stop-color="#00ffff"/><stop offset="0.815" stop-color="#0042ff"/><stop offset="0.889" stop-color="#0000ff"/><stop offset="0.988" stop-color="#0000b3"/></linearGradient><linearGradient id="b41" gradientUnits="userSpaceOnUse" x1="526.95" x2="593.77" y1="0" y2="0" spreadMethod="reflect"><stop offset="0" stop-color="#840000"/><stop offset="0.096" stop-color="#d70000"/><stop offset="0.12" stop-color="#f70000"/><stop offset="0.169" stop-color="#ff3d00"/><stop offset="0.313" stop-color="#fffb00"/><stop offset="0.434" stop-color="#7eff81"/><stop offset="0.554" stop-color="#15ffea"/><stop offset="0.578" stop-color="#01fffe"/><stop offset="0.795" stop-color="#005eff"/><stop offset="0.892" stop-color="#0006ff"/><stop offset="0.94" stop-color="#0000df"/><stop offset="0.988" stop-color="#0000b9"/></linearGradient><linearGradient id="b42" gradientUnits="userSpaceOnUse" x1="526.95" x2="595.38" y1="0" y2="0" spreadMethod="reflect"><stop offset="0" stop-color="#820000"/><stop offset="0.094" stop-color="#cd0000"/><stop offset="0.118" stop-color="#eb0000"/><stop offset="0.141" stop-color="#ff0d00"/><stop offset="0.306" stop-color="#ffe900"/><stop offset="0.329" stop-color="#f9ff06"/><stop offset="0.4" stop-color="#a6ff59"/><stop offset="0.518" stop-color="#3bffc4"/><stop offset="0.588" stop-color="#03fffc"/><stop offset="0.8" stop-color="#0064ff"/><stop offset="0.894" stop-color="#000cff"/><stop offset="0.918" stop-color="#0000f8"/><stop offset="0.988" stop-color="#0000bf"/></linearGradient><linearGradient id="b43" gradientUnits="userSpaceOnUse" x1="526.95" x2="596.99" y1="0" y2="0" spreadMethod="reflect"><stop offset="0" stop-color="#800000"/><stop offset="0.092" stop-color="#c40000"/><stop offset="0.138" stop-color="#ff0000"/><stop offset="0.322" stop-color="#fff300"/><stop offset="0.345" stop-color="#efff10"/><stop offset="0.414" stop-color="#a2ff5d"/><stop offset="0.529" stop-color="#3bffc4"/><stop offset="0.598" stop-color="#05fffa"/><stop offset="0.69" stop-color="#00bfff"/><stop offset="0.805" stop-color="#0069ff"/><stop offset="0.92" stop-color="#0000fe"/><stop offset="0.989" stop-color="#0000c5"/></linearGradient><linearGradient id="b44" gradientUnits="userSpaceOnUse" x1="526.95" x2="598.6" y1="0" y2="0" spreadMethod="reflect"><stop offset="0" stop-color="#800000"/><stop offset="0.09" stop-color="#ba0000"/><stop offset="0.135" stop-color="#f20000"/><stop offset="0.157" stop-color="#ff1200"/><stop offset="0.315" stop-color="#ffe200"/><stop offset="0.337" stop-color="#fffd00"/><stop offset="0.427" stop-color="#9eff61"/><stop offset="0.517" stop-color="#4dffb2"/><stop offset="0.607" stop-color="#08fff7"/><stop offset="0.629" stop-color="#00f6ff"/><stop offset="0.809" stop-color="#006fff"/><stop offset="0.921" stop-color="#0005ff"/><stop offset="0.989" stop-color="#0000cb"/></linearGradient><linearGradient id="b45" gradientUnits="userSpaceOnUse" x1="526.95" x2="600.21" y1="0" y2="0" spreadMethod="reflect"><stop offset="0" stop-color="#800000"/><stop offset="0.088" stop-color="#b20000"/><stop offset="0.11" stop-color="#c80000"/><stop offset="0.154" stop-color="#ff0400"/><stop offset="0.33" stop-color="#ffeb00"/><stop offset="0.352" stop-color="#f8ff07"/><stop offset="0.418" stop-color="#b0ff4f"/><stop offset="0.527" stop-color="#4effb1"/><stop offset="0.615" stop-color="#0bfff4"/><stop offset="0.637" stop-color="#00f9ff"/><stop offset="0.791" stop-color="#008aff"/><stop offset="0.923" stop-color="#000cff"/><stop offset="0.945" stop-color="#0000f7"/><stop offset="0.989" stop-color="#0000d1"/></linearGradient><linearGradient id="b46" gradientUnits="userSpaceOnUse" x1="526.95" x2="601.82" y1="0" y2="0" spreadMethod="reflect"><stop offset="0" stop-color="#800000"/><stop offset="0.043" stop-color="#910000"/><stop offset="0.086" stop-color="#a90000"/><stop offset="0.108" stop-color="#bc0000"/><stop offset="0.151" stop-color="#f60000"/><stop offset="0.172" stop-color="#ff1400"/><stop offset="0.323" stop-color="#ffda00"/><stop offset="0.344" stop-color="#fff400"/><stop offset="0.366" stop-color="#f1ff0e"/><stop offset="0.452" stop-color="#98ff67"/><stop offset="0.516" stop-color="#5fffa0"/><stop offset="0.645" stop-color="#00fdff"/><stop offset="0.796" stop-color="#0090ff"/><stop offset="0.925" stop-color="#0012ff"/><stop offset="0.946" stop-color="#0000fd"/><stop offset="0.989" stop-color="#0000d6"/></linearGradient><linearGradient id="b47" gradientUnits="userSpaceOnUse" x1="526.95" x2="603.43" y1="0" y2="0" spreadMethod="reflect"><stop offset="0" stop-color="#800000"/><stop offset="0.021" stop-color="#810000"/><stop offset="0.105" stop-color="#b10000"/><stop offset="0.147" stop-color="#e90000"/><stop offset="0.168" stop-color="#ff0600"/><stop offset="0.316" stop-color="#ffca00"/><stop offset="0.358" stop-color="#fffc00"/><stop offset="0.484" stop-color="#82ff7d"/><stop offset="0.653" stop-color="#02fffd"/><stop offset="0.8" stop-color="#0095ff"/><stop offset="0.947" stop-color="#0004ff"/><stop offset="0.989" stop-color="#0000dc"/></linearGradient><linearGradient id="b48" gradientUnits="userSpaceOnUse" x1="526.95" x2="605.04" y1="0" y2="0" spreadMethod="reflect"><stop offset="0" stop-color="#800000"/><stop offset="0.041" stop-color="#860000"/><stop offset="0.103" stop-color="#a60000"/><stop offset="0.165" stop-color="#f80000"/><stop offset="0.206" stop-color="#ff3000"/><stop offset="0.33" stop-color="#ffd200"/><stop offset="0.371" stop-color="#fbff04"/><stop offset="0.495" stop-color="#80ff7f"/><stop offset="0.66" stop-color="#06fff9"/><stop offset="0.722" stop-color="#00d8ff"/><stop offset="0.804" stop-color="#009bff"/><stop offset="0.948" stop-color="#000aff"/><stop offset="0.969" stop-color="#0000f6"/><stop offset="0.99" stop-color="#0000e2"/></linearGradient><linearGradient id="b49" gradientUnits="userSpaceOnUse" x1="526.95" x2="606.65" y1="0" y2="0" spreadMethod="reflect"><stop offset="0" stop-color="#800000"/><stop offset="0.04" stop-color="#810000"/><stop offset="0.101" stop-color="#9b0000"/><stop offset="0.162" stop-color="#ea0000"/><stop offset="0.182" stop-color="#ff0600"/><stop offset="0.323" stop-color="#ffc100"/><stop offset="0.364" stop-color="#fff100"/><stop offset="0.384" stop-color="#f5ff0a"/><stop offset="0.505" stop-color="#81ff7e"/><stop offset="0.667" stop-color="#0afff5"/><stop offset="0.687" stop-color="#00faff"/><stop offset="0.788" stop-color="#00b5ff"/><stop offset="0.949" stop-color="#0010ff"/><stop offset="0.97" stop-color="#0000fc"/><stop offset="0.99" stop-color="#0000e8"/></linearGradient><linearGradient id="b50" gradientUnits="userSpaceOnUse" x1="526.95" x2="608.26" y1="0" y2="0" spreadMethod="reflect"><stop offset="0" stop-color="#800000"/><stop offset="0.059" stop-color="#830000"/><stop offset="0.099" stop-color="#900000"/><stop offset="0.178" stop-color="#f70000"/><stop offset="0.198" stop-color="#ff1200"/><stop offset="0.317" stop-color="#ffb100"/><stop offset="0.376" stop-color="#fff700"/><stop offset="0.416" stop-color="#dcff23"/><stop offset="0.515" stop-color="#83ff7c"/><stop offset="0.693" stop-color="#00feff"/><stop offset="0.792" stop-color="#00bcff"/><stop offset="0.97" stop-color="#0003ff"/><stop offset="0.99" stop-color="#0000ee"/></linearGradient><linearGradient id="b51" gradientUnits="userSpaceOnUse" x1="526.95" x2="609.87" y1="0" y2="0" spreadMethod="reflect"><stop offset="0" stop-color="#800000"/><stop offset="0.078" stop-color="#870000"/><stop offset="0.097" stop-color="#8d0000"/><stop offset="0.175" stop-color="#ee0000"/><stop offset="0.194" stop-color="#ff0800"/><stop offset="0.311" stop-color="#ffa400"/><stop offset="0.388" stop-color="#ffff00"/><stop offset="0.505" stop-color="#92ff6d"/><stop offset="0.699" stop-color="#08fff7"/><stop offset="0.738" stop-color="#00edff"/><stop offset="0.796" stop-color="#00c5ff"/><stop offset="0.99" stop-color="#0000ff"/></linearGradient><linearGradient id="b52" gradientUnits="userSpaceOnUse" x1="526.95" x2="611.48" y1="0" y2="0" spreadMethod="reflect"><stop offset="0" stop-color="#800000"/><stop offset="0.076" stop-color="#840000"/><stop offset="0.095" stop-color="#890000"/><stop offset="0.19" stop-color="#fd0000"/><stop offset="0.324" stop-color="#ffae00"/><stop offset="0.381" stop-color="#fff100"/><stop offset="0.4" stop-color="#f8ff07"/><stop offset="0.495" stop-color="#a0ff5f"/><stop offset="0.724" stop-color="#04fffb"/><stop offset="0.781" stop-color="#00deff"/><stop offset="0.99" stop-color="#0011ff"/></linearGradient><linearGradient id="b53" gradientUnits="userSpaceOnUse" x1="526.95" x2="613.09" y1="0" y2="0" spreadMethod="reflect"><stop offset="0" stop-color="#800000"/><stop offset="0.093" stop-color="#860000"/><stop offset="0.15" stop-color="#c50000"/><stop offset="0.187" stop-color="#f30000"/><stop offset="0.206" stop-color="#ff0c00"/><stop offset="0.318" stop-color="#ffa100"/><stop offset="0.393" stop-color="#fff800"/><stop offset="0.43" stop-color="#e3ff1c"/><stop offset="0.505" stop-color="#a2ff5d"/><stop offset="0.748" stop-color="#02fffd"/><stop offset="0.804" stop-color="#00d9ff"/><stop offset="0.991" stop-color="#0022ff"/></linearGradient><linearGradient id="b54" gradientUnits="userSpaceOnUse" x1="526.95" x2="614.7" y1="0" y2="0" spreadMethod="reflect"><stop offset="0" stop-color="#800000"/><stop offset="0.092" stop-color="#820000"/><stop offset="0.128" stop-color="#a70000"/><stop offset="0.202" stop-color="#ff0100"/><stop offset="0.312" stop-color="#ff9500"/><stop offset="0.404" stop-color="#fffd00"/><stop offset="0.495" stop-color="#afff50"/><stop offset="0.771" stop-color="#01fffe"/><stop offset="0.807" stop-color="#00e3ff"/><stop offset="0.991" stop-color="#0033ff"/></linearGradient><linearGradient id="b55" gradientUnits="userSpaceOnUse" x1="526.95" x2="616.31" y1="0" y2="0" spreadMethod="reflect"><stop offset="0" stop-color="#800000"/><stop offset="0.09" stop-color="#800000"/><stop offset="0.108" stop-color="#8b0000"/><stop offset="0.198" stop-color="#f60000"/><stop offset="0.216" stop-color="#ff1000"/><stop offset="0.306" stop-color="#ff8900"/><stop offset="0.396" stop-color="#fff000"/><stop offset="0.414" stop-color="#feff01"/><stop offset="0.505" stop-color="#b1ff4e"/><stop offset="0.667" stop-color="#4fffb0"/><stop offset="0.793" stop-color="#00ffff"/><stop offset="0.991" stop-color="#0044ff"/></linearGradient><linearGradient id="b56" gradientUnits="userSpaceOnUse" x1="526.95" x2="617.92" y1="0" y2="0" spreadMethod="reflect"><stop offset="0" stop-color="#800000"/><stop offset="0.088" stop-color="#800000"/><stop offset="0.106" stop-color="#860000"/><stop offset="0.195" stop-color="#ed0000"/><stop offset="0.212" stop-color="#ff0500"/><stop offset="0.319" stop-color="#ff9100"/><stop offset="0.407" stop-color="#fff300"/><stop offset="0.425" stop-color="#fcff03"/><stop offset="0.496" stop-color="#beff41"/><stop offset="0.673" stop-color="#57ffa8"/><stop offset="0.796" stop-color="#0bfff4"/><stop offset="0.814" stop-color="#00f9ff"/><stop offset="0.991" stop-color="#0055ff"/></linearGradient><linearGradient id="b57" gradientUnits="userSpaceOnUse" x1="526.95" x2="619.53" y1="0" y2="0" spreadMethod="reflect"><stop offset="0" stop-color="#800000"/><stop offset="0.104" stop-color="#800000"/><stop offset="0.209" stop-color="#fa0000"/><stop offset="0.261" stop-color="#ff4200"/><stop offset="0.33" stop-color="#ff9900"/><stop offset="0.417" stop-color="#fff500"/><stop offset="0.435" stop-color="#faff05"/><stop offset="0.504" stop-color="#c1ff3e"/><stop offset="0.661" stop-color="#6bff94"/><stop offset="0.8" stop-color="#15ffea"/><stop offset="0.817" stop-color="#05fffa"/><stop offset="0.904" stop-color="#00b4ff"/><stop offset="0.991" stop-color="#0066ff"/></linearGradient><linearGradient id="b58" gradientUnits="userSpaceOnUse" x1="526.95" x2="621.13" y1="0" y2="0" spreadMethod="reflect"><stop offset="0" stop-color="#800000"/><stop offset="0.103" stop-color="#800000"/><stop offset="0.205" stop-color="#ef0000"/><stop offset="0.222" stop-color="#ff0800"/><stop offset="0.308" stop-color="#ff7a00"/><stop offset="0.41" stop-color="#ffe900"/><stop offset="0.444" stop-color="#f8ff07"/><stop offset="0.496" stop-color="#cdff32"/><stop offset="0.65" stop-color="#7dff82"/><stop offset="0.803" stop-color="#20ffdf"/><stop offset="0.838" stop-color="#01fffe"/><stop offset="0.991" stop-color="#0077ff"/></linearGradient><linearGradient id="b59" gradientUnits="userSpaceOnUse" x1="526.95" x2="622.75" y1="0" y2="0" spreadMethod="reflect"><stop offset="0" stop-color="#800000"/><stop offset="0.101" stop-color="#800000"/><stop offset="0.118" stop-color="#880000"/><stop offset="0.218" stop-color="#fc0000"/><stop offset="0.319" stop-color="#ff8100"/><stop offset="0.403" stop-color="#ffdd00"/><stop offset="0.437" stop-color="#fff900"/><stop offset="0.471" stop-color="#eaff15"/><stop offset="0.521" stop-color="#c9ff36"/><stop offset="0.672" stop-color="#7cff83"/><stop offset="0.807" stop-color="#2bffd4"/><stop offset="0.857" stop-color="#00fdff"/><stop offset="0.992" stop-color="#0088ff"/></linearGradient><linearGradient id="b60" gradientUnits="userSpaceOnUse" x1="526.95" x2="624.36" y1="0" y2="0" spreadMethod="reflect"><stop offset="0" stop-color="#800000"/><stop offset="0.116" stop-color="#830000"/><stop offset="0.198" stop-color="#db0000"/><stop offset="0.215" stop-color="#f20000"/><stop offset="0.231" stop-color="#ff0900"/><stop offset="0.314" stop-color="#ff7600"/><stop offset="0.413" stop-color="#ffde00"/><stop offset="0.446" stop-color="#fff900"/><stop offset="0.496" stop-color="#dcff23"/><stop offset="0.628" stop-color="#a0ff5f"/><stop offset="0.793" stop-color="#44ffbb"/><stop offset="0.876" stop-color="#00fcff"/><stop offset="0.992" stop-color="#0099ff"/></linearGradient><linearGradient id="b61" gradientUnits="userSpaceOnUse" x1="526.95" x2="625.97" y1="0" y2="0" spreadMethod="reflect"><stop offset="0" stop-color="#800000"/><stop offset="0.114" stop-color="#800000"/><stop offset="0.211" stop-color="#e50000"/><stop offset="0.228" stop-color="#fb0000"/><stop offset="0.325" stop-color="#ff7900"/><stop offset="0.407" stop-color="#ffd000"/><stop offset="0.472" stop-color="#faff05"/><stop offset="0.52" stop-color="#dcff23"/><stop offset="0.667" stop-color="#97ff68"/><stop offset="0.797" stop-color="#4effb1"/><stop offset="0.894" stop-color="#00fcff"/><stop offset="0.992" stop-color="#00a8ff"/></linearGradient><linearGradient id="b62" gradientUnits="userSpaceOnUse" x1="526.95" x2="627.58" y1="0" y2="0" spreadMethod="reflect"><stop offset="0" stop-color="#800000"/><stop offset="0.112" stop-color="#800000"/><stop offset="0.16" stop-color="#a70000"/><stop offset="0.208" stop-color="#d80000"/><stop offset="0.24" stop-color="#ff0400"/><stop offset="0.336" stop-color="#ff7b00"/><stop offset="0.4" stop-color="#ffc200"/><stop offset="0.48" stop-color="#fdff02"/><stop offset="0.528" stop-color="#e4ff1b"/><stop offset="0.672" stop-color="#a0ff5f"/><stop offset="0.8" stop-color="#59ffa6"/><stop offset="0.912" stop-color="#00fcff"/><stop offset="0.992" stop-color="#00b6ff"/></linearGradient><linearGradient id="b63" gradientUnits="userSpaceOnUse" x1="526.95" x2="629.19" y1="0" y2="0" spreadMethod="reflect"><stop offset="0" stop-color="#800000"/><stop offset="0.126" stop-color="#840000"/><stop offset="0.205" stop-color="#cc0000"/><stop offset="0.236" stop-color="#f50000"/><stop offset="0.252" stop-color="#ff0b00"/><stop offset="0.331" stop-color="#ff6c00"/><stop offset="0.409" stop-color="#ffc000"/><stop offset="0.488" stop-color="#fffd00"/><stop offset="0.661" stop-color="#b1ff4e"/><stop offset="0.803" stop-color="#64ff9b"/><stop offset="0.929" stop-color="#00fcff"/><stop offset="0.992" stop-color="#00c5ff"/></linearGradient><linearGradient id="b64" gradientUnits="userSpaceOnUse" x1="526.95" x2="630.8" y1="0" y2="0" spreadMethod="reflect"><stop offset="0" stop-color="#800000"/><stop offset="0.124" stop-color="#800000"/><stop offset="0.202" stop-color="#c00000"/><stop offset="0.248" stop-color="#fc0000"/><stop offset="0.403" stop-color="#ffb200"/><stop offset="0.496" stop-color="#fff800"/><stop offset="0.527" stop-color="#f9ff06"/><stop offset="0.698" stop-color="#aaff55"/><stop offset="0.806" stop-color="#6fff90"/><stop offset="0.946" stop-color="#00fdff"/><stop offset="0.992" stop-color="#00d3ff"/></linearGradient><linearGradient id="b65" gradientUnits="userSpaceOnUse" x1="526.95" x2="632.41" y1="0" y2="0" spreadMethod="reflect"><stop offset="0" stop-color="#800000"/><stop offset="0.122" stop-color="#800000"/><stop offset="0.168" stop-color="#9d0000"/><stop offset="0.198" stop-color="#b40000"/><stop offset="0.26" stop-color="#ff0200"/><stop offset="0.397" stop-color="#ffa500"/><stop offset="0.504" stop-color="#fff100"/><stop offset="0.55" stop-color="#fbff04"/><stop offset="0.794" stop-color="#85ff7a"/><stop offset="0.931" stop-color="#1affe5"/><stop offset="0.962" stop-color="#00fdff"/><stop offset="0.992" stop-color="#00e2ff"/></linearGradient><linearGradient id="b66" gradientUnits="userSpaceOnUse" x1="526.95" x2="634.02" y1="0" y2="0" spreadMethod="reflect"><stop offset="0" stop-color="#800000"/><stop offset="0.135" stop-color="#800000"/><stop offset="0.195" stop-color="#aa0000"/><stop offset="0.256" stop-color="#f30000"/><stop offset="0.271" stop-color="#ff0700"/><stop offset="0.406" stop-color="#ffa200"/><stop offset="0.496" stop-color="#ffe400"/><stop offset="0.571" stop-color="#fdff02"/><stop offset="0.797" stop-color="#90ff6f"/><stop offset="0.917" stop-color="#36ffc9"/><stop offset="0.977" stop-color="#00feff"/><stop offset="0.992" stop-color="#00f1ff"/></linearGradient><linearGradient id="b67" gradientUnits="userSpaceOnUse" x1="526.95" x2="635.62" y1="0" y2="0" spreadMethod="reflect"><stop offset="0" stop-color="#800000"/><stop offset="0.133" stop-color="#800000"/><stop offset="0.193" stop-color="#a00000"/><stop offset="0.267" stop-color="#f80000"/><stop offset="0.296" stop-color="#ff1d00"/><stop offset="0.4" stop-color="#ff9500"/><stop offset="0.504" stop-color="#ffdc00"/><stop offset="0.593" stop-color="#fffe00"/><stop offset="0.8" stop-color="#9bff64"/><stop offset="0.904" stop-color="#51ffae"/><stop offset="0.993" stop-color="#00ffff"/></linearGradient><linearGradient id="b68" gradientUnits="userSpaceOnUse" x1="526.95" x2="637.24" y1="0" y2="0" spreadMethod="reflect"><stop offset="0" stop-color="#800000"/><stop offset="0.146" stop-color="#800000"/><stop offset="0.204" stop-color="#a30000"/><stop offset="0.277" stop-color="#fc0000"/><stop offset="0.394" stop-color="#ff8700"/><stop offset="0.496" stop-color="#ffcf00"/><stop offset="0.628" stop-color="#fbff04"/><stop offset="0.818" stop-color="#9dff62"/><stop offset="0.905" stop-color="#5fffa0"/><stop offset="0.993" stop-color="#0ffff0"/></linearGradient><linearGradient id="b69" gradientUnits="userSpaceOnUse" x1="526.95" x2="638.85" y1="0" y2="0" spreadMethod="reflect"><stop offset="0" stop-color="#800000"/><stop offset="0.158" stop-color="#800000"/><stop offset="0.201" stop-color="#980000"/><stop offset="0.288" stop-color="#ff0000"/><stop offset="0.403" stop-color="#ff8500"/><stop offset="0.504" stop-color="#ffc700"/><stop offset="0.647" stop-color="#feff01"/><stop offset="0.82" stop-color="#a9ff56"/><stop offset="0.906" stop-color="#6dff92"/><stop offset="0.993" stop-color="#1dffe2"/></linearGradient><linearGradient id="b70" gradientUnits="userSpaceOnUse" x1="526.95" x2="640.46" y1="0" y2="0" spreadMethod="reflect"><stop offset="0" stop-color="#800000"/><stop offset="0.17" stop-color="#800000"/><stop offset="0.199" stop-color="#8c0000"/><stop offset="0.298" stop-color="#ff0200"/><stop offset="0.397" stop-color="#ff7800"/><stop offset="0.511" stop-color="#ffbf00"/><stop offset="0.681" stop-color="#fbff04"/><stop offset="0.823" stop-color="#b5ff4a"/><stop offset="0.908" stop-color="#7cff83"/><stop offset="0.993" stop-color="#2cffd3"/></linearGradient><linearGradient id="b71" gradientUnits="userSpaceOnUse" x1="526.95" x2="642.07" y1="0" y2="0" spreadMethod="reflect"><stop offset="0" stop-color="#800000"/><stop offset="0.182" stop-color="#800000"/><stop offset="0.196" stop-color="#850000"/><stop offset="0.308" stop-color="#ff0000"/><stop offset="0.406" stop-color="#ff6e00"/><stop offset="0.503" stop-color="#ffae00"/><stop offset="0.699" stop-color="#ffff00"/><stop offset="0.825" stop-color="#c1ff3e"/><stop offset="0.895" stop-color="#96ff69"/><stop offset="0.993" stop-color="#32ffcd"/></linearGradient><linearGradient id="b72" gradientUnits="userSpaceOnUse" x1="526.95" x2="643.68" y1="0" y2="0" spreadMethod="reflect"><stop offset="0" stop-color="#800000"/><stop offset="0.193" stop-color="#800000"/><stop offset="0.221" stop-color="#960000"/><stop offset="0.317" stop-color="#fd0000"/><stop offset="0.4" stop-color="#ff5b00"/><stop offset="0.51" stop-color="#ffa300"/><stop offset="0.731" stop-color="#fdff02"/><stop offset="0.855" stop-color="#bdff42"/><stop offset="0.897" stop-color="#a3ff5c"/><stop offset="0.993" stop-color="#38ffc7"/></linearGradient><linearGradient id="b73" gradientUnits="userSpaceOnUse" x1="526.95" x2="645.29" y1="0" y2="0" spreadMethod="reflect"><stop offset="0" stop-color="#800000"/><stop offset="0.204" stop-color="#800000"/><stop offset="0.327" stop-color="#fa0000"/><stop offset="0.367" stop-color="#ff2800"/><stop offset="0.408" stop-color="#ff5100"/><stop offset="0.503" stop-color="#ff9100"/><stop offset="0.762" stop-color="#fcff03"/><stop offset="0.898" stop-color="#b0ff4f"/><stop offset="0.993" stop-color="#3effc1"/></linearGradient><linearGradient id="b74" gradientUnits="userSpaceOnUse" x1="526.95" x2="646.9" y1="0" y2="0" spreadMethod="reflect"><stop offset="0" stop-color="#800000"/><stop offset="0.215" stop-color="#800000"/><stop offset="0.322" stop-color="#e70000"/><stop offset="0.349" stop-color="#ff0500"/><stop offset="0.403" stop-color="#ff3e00"/><stop offset="0.51" stop-color="#ff8600"/><stop offset="0.792" stop-color="#fcff03"/><stop offset="0.899" stop-color="#bdff42"/><stop offset="0.993" stop-color="#44ffbb"/></linearGradient><linearGradient id="b75" gradientUnits="userSpaceOnUse" x1="526.95" x2="648.51" y1="0" y2="0" spreadMethod="reflect"><stop offset="0" stop-color="#800000"/><stop offset="0.225" stop-color="#810000"/><stop offset="0.318" stop-color="#d50000"/><stop offset="0.358" stop-color="#ff0000"/><stop offset="0.411" stop-color="#ff3400"/><stop offset="0.517" stop-color="#ff7a00"/><stop offset="0.808" stop-color="#fffd00"/><stop offset="0.887" stop-color="#d6ff29"/><stop offset="0.927" stop-color="#a5ff5a"/><stop offset="0.993" stop-color="#4affb5"/></linearGradient><linearGradient id="b76" gradientUnits="userSpaceOnUse" x1="526.95" x2="650.12" y1="0" y2="0" spreadMethod="reflect"><stop offset="0" stop-color="#800000"/><stop offset="0.235" stop-color="#810000"/><stop offset="0.314" stop-color="#c30000"/><stop offset="0.366" stop-color="#f90000"/><stop offset="0.405" stop-color="#ff2100"/><stop offset="0.51" stop-color="#ff6900"/><stop offset="0.837" stop-color="#fffe00"/><stop offset="0.889" stop-color="#e4ff1b"/><stop offset="0.954" stop-color="#89ff76"/><stop offset="0.993" stop-color="#50ffaf"/></linearGradient><linearGradient id="b77" gradientUnits="userSpaceOnUse" x1="526.95" x2="651.73" y1="0" y2="0" spreadMethod="reflect"><stop offset="0" stop-color="#800000"/><stop offset="0.245" stop-color="#800000"/><stop offset="0.31" stop-color="#b10000"/><stop offset="0.387" stop-color="#ff0100"/><stop offset="0.503" stop-color="#ff5700"/><stop offset="0.774" stop-color="#ffd300"/><stop offset="0.865" stop-color="#ffff00"/><stop offset="0.89" stop-color="#f2ff0d"/><stop offset="0.994" stop-color="#56ffa9"/></linearGradient><linearGradient id="b78" gradientUnits="userSpaceOnUse" x1="526.95" x2="653.34" y1="0" y2="0" spreadMethod="reflect"><stop offset="0" stop-color="#800000"/><stop offset="0.255" stop-color="#800000"/><stop offset="0.306" stop-color="#a00000"/><stop offset="0.395" stop-color="#f80000"/><stop offset="0.42" stop-color="#ff0d00"/><stop offset="0.51" stop-color="#ff4c00"/><stop offset="0.752" stop-color="#ffbd00"/><stop offset="0.892" stop-color="#fffe00"/><stop offset="0.994" stop-color="#5cffa3"/></linearGradient><linearGradient id="b79" gradientUnits="userSpaceOnUse" x1="526.95" x2="654.95" y1="0" y2="0" spreadMethod="reflect"><stop offset="0" stop-color="#800000"/><stop offset="0.277" stop-color="#800000"/><stop offset="0.314" stop-color="#9b0000"/><stop offset="0.415" stop-color="#f80000"/><stop offset="0.44" stop-color="#ff0c00"/><stop offset="0.528" stop-color="#ff4700"/><stop offset="0.742" stop-color="#ffac00"/><stop offset="0.893" stop-color="#fff000"/><stop offset="0.906" stop-color="#faff05"/><stop offset="0.994" stop-color="#62ff9d"/></linearGradient><linearGradient id="b80" gradientUnits="userSpaceOnUse" x1="526.95" x2="656.56" y1="0" y2="0" spreadMethod="reflect"><stop offset="0" stop-color="#800000"/><stop offset="0.298" stop-color="#800000"/><stop offset="0.422" stop-color="#ef0000"/><stop offset="0.447" stop-color="#ff0200"/><stop offset="0.522" stop-color="#ff3600"/><stop offset="0.708" stop-color="#ff9300"/><stop offset="0.87" stop-color="#ffd700"/><stop offset="0.894" stop-color="#ffe200"/><stop offset="0.907" stop-color="#fff900"/><stop offset="0.932" stop-color="#d8ff27"/><stop offset="0.994" stop-color="#68ff97"/></linearGradient><linearGradient id="b81" gradientUnits="userSpaceOnUse" x1="526.95" x2="658.17" y1="0" y2="0" spreadMethod="reflect"><stop offset="0" stop-color="#800000"/><stop offset="0.307" stop-color="#800000"/><stop offset="0.356" stop-color="#a70000"/><stop offset="0.454" stop-color="#f90000"/><stop offset="0.479" stop-color="#ff0d00"/><stop offset="0.638" stop-color="#ff6900"/><stop offset="0.773" stop-color="#ffa200"/><stop offset="0.896" stop-color="#ffdd00"/><stop offset="0.908" stop-color="#fff300"/><stop offset="0.92" stop-color="#f4ff0b"/><stop offset="0.945" stop-color="#c7ff38"/><stop offset="0.957" stop-color="#ff4c00"/><stop offset="0.969" stop-color="#9aff65"/><stop offset="0.994" stop-color="#6dff92"/></linearGradient><linearGradient id="b82" gradientUnits="userSpaceOnUse" x1="526.95" x2="659.78" y1="0" y2="0" spreadMethod="reflect"><stop offset="0" stop-color="#800000"/><stop offset="0.327" stop-color="#800000"/><stop offset="0.473" stop-color="#fa0000"/><stop offset="0.545" stop-color="#ff2c00"/><stop offset="0.703" stop-color="#ff7f00"/><stop offset="0.824" stop-color="#ffaf00"/><stop offset="0.897" stop-color="#ffd700"/><stop offset="0.921" stop-color="#f9ff06"/><stop offset="0.933" stop-color="#e3ff1c"/><stop offset="0.945" stop-color="#ff4c00"/><stop offset="0.958" stop-color="#b6ff49"/><stop offset="0.994" stop-color="#72ff8d"/></linearGradient><linearGradient id="b83" gradientUnits="userSpaceOnUse" x1="526.95" x2="661.38" y1="0" y2="0" spreadMethod="reflect"><stop offset="0" stop-color="#800000"/><stop offset="0.347" stop-color="#830000"/><stop offset="0.491" stop-color="#fd0000"/><stop offset="0.647" stop-color="#ff5b00"/><stop offset="0.743" stop-color="#ff8400"/><stop offset="0.826" stop-color="#ffa700"/><stop offset="0.886" stop-color="#ffc700"/><stop offset="0.898" stop-color="#ffd200"/><stop offset="0.922" stop-color="#ffff00"/><stop offset="0.934" stop-color="#ff4c00"/><stop offset="0.946" stop-color="#d1ff2e"/><stop offset="0.994" stop-color="#76ff89"/></linearGradient><linearGradient id="b84" gradientUnits="userSpaceOnUse" x1="526.95" x2="663" y1="0" y2="0" spreadMethod="reflect"><stop offset="0" stop-color="#800000"/><stop offset="0.355" stop-color="#800000"/><stop offset="0.45" stop-color="#cc0000"/><stop offset="0.509" stop-color="#fd0000"/><stop offset="0.651" stop-color="#ff5400"/><stop offset="0.746" stop-color="#ff7c00"/><stop offset="0.817" stop-color="#ff9800"/><stop offset="0.888" stop-color="#ffc000"/><stop offset="0.899" stop-color="#ffcd00"/><stop offset="0.911" stop-color="#ffe300"/><stop offset="0.923" stop-color="#ff4c00"/><stop offset="0.935" stop-color="#edff12"/><stop offset="0.994" stop-color="#7bff84"/></linearGradient><linearGradient id="b85" gradientUnits="userSpaceOnUse" x1="526.95" x2="664.61" y1="0" y2="0" spreadMethod="reflect"><stop offset="0" stop-color="#800000"/><stop offset="0.374" stop-color="#800000"/><stop offset="0.433" stop-color="#ae0000"/><stop offset="0.515" stop-color="#f50000"/><stop offset="0.538" stop-color="#ff0600"/><stop offset="0.632" stop-color="#ff4100"/><stop offset="0.725" stop-color="#ff6c00"/><stop offset="0.807" stop-color="#ff8a00"/><stop offset="0.889" stop-color="#ffb800"/><stop offset="0.901" stop-color="#ffc700"/><stop offset="0.912" stop-color="#ff4c00"/><stop offset="0.924" stop-color="#fff500"/><stop offset="0.936" stop-color="#f2ff0d"/><stop offset="0.994" stop-color="#80ff7f"/></linearGradient><linearGradient id="b86" gradientUnits="userSpaceOnUse" x1="526.95" x2="666.22" y1="0" y2="0" spreadMethod="reflect"><stop offset="0" stop-color="#800000"/><stop offset="0.393" stop-color="#800000"/><stop offset="0.451" stop-color="#b10000"/><stop offset="0.52" stop-color="#ed0000"/><stop offset="0.543" stop-color="#fe0000"/><stop offset="0.647" stop-color="#ff4000"/><stop offset="0.728" stop-color="#ff6400"/><stop offset="0.809" stop-color="#ff8100"/><stop offset="0.89" stop-color="#ffb100"/><stop offset="0.902" stop-color="#ff4c00"/><stop offset="0.913" stop-color="#ffd900"/><stop offset="0.936" stop-color="#f7ff08"/><stop offset="0.994" stop-color="#85ff7a"/></linearGradient><linearGradient id="b87" gradientUnits="userSpaceOnUse" x1="526.95" x2="667.83" y1="0" y2="0" spreadMethod="reflect"><stop offset="0" stop-color="#800000"/><stop offset="0.411" stop-color="#800000"/><stop offset="0.526" stop-color="#e50000"/><stop offset="0.56" stop-color="#ff0000"/><stop offset="0.651" stop-color="#ff3900"/><stop offset="0.72" stop-color="#ff5800"/><stop offset="0.811" stop-color="#ff7900"/><stop offset="0.88" stop-color="#ffa300"/><stop offset="0.891" stop-color="#ff4c00"/><stop offset="0.903" stop-color="#ffbd00"/><stop offset="0.937" stop-color="#fcff03"/><stop offset="0.994" stop-color="#89ff76"/></linearGradient><linearGradient id="b88" gradientUnits="userSpaceOnUse" x1="526.95" x2="669.44" y1="0" y2="0" spreadMethod="reflect"><stop offset="0" stop-color="#800000"/><stop offset="0.429" stop-color="#800000"/><stop offset="0.52" stop-color="#d50000"/><stop offset="0.576" stop-color="#ff0200"/><stop offset="0.701" stop-color="#ff4900"/><stop offset="0.802" stop-color="#ff6a00"/><stop offset="0.87" stop-color="#ff9500"/><stop offset="0.881" stop-color="#ff4c00"/><stop offset="0.893" stop-color="#ffa300"/><stop offset="0.938" stop-color="#fffc00"/><stop offset="0.994" stop-color="#8eff71"/></linearGradient><linearGradient id="b89" gradientUnits="userSpaceOnUse" x1="526.95" x2="671.05" y1="0" y2="0" spreadMethod="reflect"><stop offset="0" stop-color="#800000"/><stop offset="0.447" stop-color="#830000"/><stop offset="0.525" stop-color="#cd0000"/><stop offset="0.592" stop-color="#ff0400"/><stop offset="0.704" stop-color="#ff4200"/><stop offset="0.804" stop-color="#ff6200"/><stop offset="0.86" stop-color="#ff8600"/><stop offset="0.872" stop-color="#ff4c00"/><stop offset="0.883" stop-color="#ff9500"/><stop offset="0.894" stop-color="#ff9c00"/><stop offset="0.939" stop-color="#fff700"/><stop offset="0.961" stop-color="#d8ff27"/><stop offset="0.994" stop-color="#93ff6c"/></linearGradient><linearGradient id="b90" gradientUnits="userSpaceOnUse" x1="526.95" x2="672.66" y1="0" y2="0" spreadMethod="reflect"><stop offset="0" stop-color="#800000"/><stop offset="0.597" stop-color="#830000"/><stop offset="0.707" stop-color="#be0000"/><stop offset="0.807" stop-color="#de0000"/><stop offset="0.851" stop-color="#fc0000"/><stop offset="0.862" stop-color="#d10000"/><stop offset="0.873" stop-color="#ff0c00"/><stop offset="0.895" stop-color="#ff1b00"/><stop offset="0.994" stop-color="#ffec00"/></linearGradient><linearGradient id="c1" gradientUnits="userSpaceOnUse" x1="182.4" x2="184.81" y1="0" y2="0" spreadMethod="reflect"><stop offset="0" stop-color="#0030ff"/><stop offset="0.667" stop-color="#000fff"/></linearGradient><linearGradient id="c2" gradientUnits="userSpaceOnUse" x1="182.4" x2="186.43" y1="0" y2="0" spreadMethod="reflect"><stop offset="0" stop-color="#0015ff"/><stop offset="0.4" stop-color="#0001ff"/><stop offset="0.8" stop-color="#0000e1"/></linearGradient><linearGradient id="c3" gradientUnits="userSpaceOnUse" x1="182.4" x2="188.03" y1="0" y2="0" spreadMethod="reflect"><stop offset="0" stop-color="#0000fe"/><stop offset="0.857" stop-color="#0000c7"/></linearGradient><linearGradient id="c4" gradientUnits="userSpaceOnUse" x1="182.4" x2="189.65" y1="0" y2="0" spreadMethod="reflect"><stop offset="0" stop-color="#0000e7"/><stop offset="0.444" stop-color="#0000d2"/><stop offset="0.889" stop-color="#0000ac"/></linearGradient><linearGradient id="c5" gradientUnits="userSpaceOnUse" x1="182.4" x2="191.25" y1="0" y2="0" spreadMethod="reflect"><stop offset="0" stop-color="#0000d9"/><stop offset="0.727" stop-color="#0000b3"/><stop offset="0.909" stop-color="#0000a5"/></linearGradient><linearGradient id="c6" gradientUnits="userSpaceOnUse" x1="182.4" x2="192.87" y1="0" y2="0" spreadMethod="reflect"><stop offset="0" stop-color="#0000ca"/><stop offset="0.769" stop-color="#0000aa"/><stop offset="0.923" stop-color="#00009d"/></linearGradient><linearGradient id="c7" gradientUnits="userSpaceOnUse" x1="182.4" x2="194.47" y1="0" y2="0" spreadMethod="reflect"><stop offset="0" stop-color="#0000bc"/><stop offset="0.8" stop-color="#0000a1"/><stop offset="0.933" stop-color="#000095"/></linearGradient><linearGradient id="c8" gradientUnits="userSpaceOnUse" x1="182.4" x2="196.09" y1="0" y2="0" spreadMethod="reflect"><stop offset="0" stop-color="#0000af"/><stop offset="0.824" stop-color="#00009e"/><stop offset="0.941" stop-color="#000094"/></linearGradient><linearGradient id="c9" gradientUnits="userSpaceOnUse" x1="182.4" x2="197.69" y1="0" y2="0" spreadMethod="reflect"><stop offset="0" stop-color="#0000a2"/><stop offset="0.842" stop-color="#00009b"/><stop offset="0.947" stop-color="#00008a"/></linearGradient><linearGradient id="c10" gradientUnits="userSpaceOnUse" x1="182.4" x2="199.31" y1="0" y2="0" spreadMethod="reflect"><stop offset="0" stop-color="#000095"/><stop offset="0.286" stop-color="#000098"/><stop offset="0.571" stop-color="#000096"/><stop offset="0.857" stop-color="#000099"/><stop offset="0.952" stop-color="#000080"/></linearGradient><linearGradient id="c11" gradientUnits="userSpaceOnUse" x1="182.4" x2="200.92" y1="0" y2="0" spreadMethod="reflect"><stop offset="0" stop-color="#000090"/><stop offset="0.261" stop-color="#000095"/><stop offset="0.522" stop-color="#000093"/><stop offset="0.783" stop-color="#00009e"/><stop offset="0.87" stop-color="#00009c"/><stop offset="0.957" stop-color="#000080"/></linearGradient><linearGradient id="c12" gradientUnits="userSpaceOnUse" x1="182.4" x2="202.53" y1="0" y2="0" spreadMethod="reflect"><stop offset="0" stop-color="#00008b"/><stop offset="0.24" stop-color="#000092"/><stop offset="0.48" stop-color="#00008f"/><stop offset="0.8" stop-color="#0000a0"/><stop offset="0.88" stop-color="#00009e"/><stop offset="0.96" stop-color="#000080"/></linearGradient><linearGradient id="c13" gradientUnits="userSpaceOnUse" x1="182.4" x2="204.14" y1="0" y2="0" spreadMethod="reflect"><stop offset="0" stop-color="#000085"/><stop offset="0.296" stop-color="#00008f"/><stop offset="0.519" stop-color="#000090"/><stop offset="0.815" stop-color="#0000a2"/><stop offset="0.889" stop-color="#0000a0"/><stop offset="0.963" stop-color="#000080"/></linearGradient><linearGradient id="c14" gradientUnits="userSpaceOnUse" x1="182.4" x2="205.75" y1="0" y2="0" spreadMethod="reflect"><stop offset="0" stop-color="#000080"/><stop offset="0.276" stop-color="#00008c"/><stop offset="0.483" stop-color="#00008b"/><stop offset="0.759" stop-color="#0000a4"/><stop offset="0.897" stop-color="#0000a3"/><stop offset="0.966" stop-color="#000080"/></linearGradient><linearGradient id="c15" gradientUnits="userSpaceOnUse" x1="182.4" x2="207.36" y1="0" y2="0" spreadMethod="reflect"><stop offset="0" stop-color="#000080"/><stop offset="0.258" stop-color="#00008e"/><stop offset="0.516" stop-color="#000090"/><stop offset="0.774" stop-color="#0000a9"/><stop offset="0.903" stop-color="#0000a6"/><stop offset="0.968" stop-color="#000080"/></linearGradient><linearGradient id="c16" gradientUnits="userSpaceOnUse" x1="182.4" x2="208.97" y1="0" y2="0" spreadMethod="reflect"><stop offset="0" stop-color="#000080"/><stop offset="0.242" stop-color="#00008f"/><stop offset="0.485" stop-color="#00008f"/><stop offset="0.788" stop-color="#0000ae"/><stop offset="0.909" stop-color="#0000aa"/><stop offset="0.97" stop-color="#000080"/></linearGradient><linearGradient id="c17" gradientUnits="userSpaceOnUse" x1="182.4" x2="210.58" y1="0" y2="0" spreadMethod="reflect"><stop offset="0" stop-color="#000080"/><stop offset="0.286" stop-color="#000091"/><stop offset="0.514" stop-color="#000094"/><stop offset="0.743" stop-color="#0000b0"/><stop offset="0.914" stop-color="#0000ae"/><stop offset="0.971" stop-color="#000080"/></linearGradient><linearGradient id="c18" gradientUnits="userSpaceOnUse" x1="182.4" x2="212.19" y1="0" y2="0" spreadMethod="reflect"><stop offset="0" stop-color="#000080"/><stop offset="0.27" stop-color="#000092"/><stop offset="0.486" stop-color="#000093"/><stop offset="0.757" stop-color="#0000b6"/><stop offset="0.919" stop-color="#0000b1"/><stop offset="0.973" stop-color="#000080"/></linearGradient><linearGradient id="c19" gradientUnits="userSpaceOnUse" x1="182.4" x2="213.8" y1="0" y2="0" spreadMethod="reflect"><stop offset="0" stop-color="#000080"/><stop offset="0.308" stop-color="#000094"/><stop offset="0.513" stop-color="#000099"/><stop offset="0.769" stop-color="#0000bc"/><stop offset="0.923" stop-color="#0000b5"/><stop offset="0.974" stop-color="#000080"/></linearGradient><linearGradient id="c20" gradientUnits="userSpaceOnUse" x1="182.4" x2="215.41" y1="0" y2="0" spreadMethod="reflect"><stop offset="0" stop-color="#000083"/><stop offset="0.293" stop-color="#000098"/><stop offset="0.488" stop-color="#00009a"/><stop offset="0.732" stop-color="#0000bd"/><stop offset="0.829" stop-color="#0000bf"/><stop offset="0.927" stop-color="#0000b7"/><stop offset="0.976" stop-color="#000080"/></linearGradient><linearGradient id="c21" gradientUnits="userSpaceOnUse" x1="182.4" x2="217.02" y1="0" y2="0" spreadMethod="reflect"><stop offset="0" stop-color="#000085"/><stop offset="0.279" stop-color="#00009b"/><stop offset="0.512" stop-color="#0000a3"/><stop offset="0.744" stop-color="#0000c3"/><stop offset="0.884" stop-color="#0000be"/><stop offset="0.93" stop-color="#0000ba"/><stop offset="0.977" stop-color="#000080"/></linearGradient><linearGradient id="c22" gradientUnits="userSpaceOnUse" x1="182.4" x2="218.62" y1="0" y2="0" spreadMethod="reflect"><stop offset="0" stop-color="#000088"/><stop offset="0.311" stop-color="#0000a0"/><stop offset="0.489" stop-color="#0000a5"/><stop offset="0.756" stop-color="#0000c9"/><stop offset="0.933" stop-color="#0000bc"/><stop offset="0.978" stop-color="#000080"/></linearGradient><linearGradient id="c23" gradientUnits="userSpaceOnUse" x1="182.4" x2="220.24" y1="0" y2="0" spreadMethod="reflect"><stop offset="0" stop-color="#00008b"/><stop offset="0.298" stop-color="#0000a4"/><stop offset="0.511" stop-color="#0000ad"/><stop offset="0.723" stop-color="#0000cb"/><stop offset="0.851" stop-color="#0000c9"/><stop offset="0.936" stop-color="#0000be"/><stop offset="0.979" stop-color="#000080"/></linearGradient><linearGradient id="c24" gradientUnits="userSpaceOnUse" x1="182.4" x2="221.84" y1="0" y2="0" spreadMethod="reflect"><stop offset="0" stop-color="#00008e"/><stop offset="0.327" stop-color="#0000a9"/><stop offset="0.531" stop-color="#0000b5"/><stop offset="0.735" stop-color="#0000d1"/><stop offset="0.816" stop-color="#0000d1"/><stop offset="0.939" stop-color="#0000c0"/><stop offset="0.98" stop-color="#000080"/></linearGradient><linearGradient id="c25" gradientUnits="userSpaceOnUse" x1="182.4" x2="223.46" y1="0" y2="0" spreadMethod="reflect"><stop offset="0" stop-color="#000091"/><stop offset="0.314" stop-color="#0000ad"/><stop offset="0.51" stop-color="#0000b7"/><stop offset="0.745" stop-color="#0000d7"/><stop offset="0.824" stop-color="#0000d4"/><stop offset="0.941" stop-color="#0000c2"/><stop offset="0.98" stop-color="#000080"/></linearGradient><linearGradient id="c26" gradientUnits="userSpaceOnUse" x1="182.4" x2="225.06" y1="0" y2="0" spreadMethod="reflect"><stop offset="0" stop-color="#000094"/><stop offset="0.34" stop-color="#0000b2"/><stop offset="0.528" stop-color="#0000bf"/><stop offset="0.717" stop-color="#0000da"/><stop offset="0.792" stop-color="#0000dd"/><stop offset="0.943" stop-color="#0000c4"/><stop offset="0.981" stop-color="#000080"/></linearGradient><linearGradient id="c27" gradientUnits="userSpaceOnUse" x1="182.4" x2="226.68" y1="0" y2="0" spreadMethod="reflect"><stop offset="0" stop-color="#00009b"/><stop offset="0.327" stop-color="#0000b9"/><stop offset="0.545" stop-color="#0000c9"/><stop offset="0.727" stop-color="#0000e0"/><stop offset="0.836" stop-color="#0000da"/><stop offset="0.945" stop-color="#0000c7"/><stop offset="0.982" stop-color="#000080"/></linearGradient><linearGradient id="c28" gradientUnits="userSpaceOnUse" x1="182.4" x2="228.29" y1="0" y2="0" spreadMethod="reflect"><stop offset="0" stop-color="#0000a1"/><stop offset="0.351" stop-color="#0000c2"/><stop offset="0.561" stop-color="#0000d3"/><stop offset="0.737" stop-color="#0000e5"/><stop offset="0.842" stop-color="#0000dd"/><stop offset="0.947" stop-color="#0000c9"/><stop offset="0.982" stop-color="#000080"/></linearGradient><linearGradient id="c29" gradientUnits="userSpaceOnUse" x1="182.4" x2="229.9" y1="0" y2="0" spreadMethod="reflect"><stop offset="0" stop-color="#0000a8"/><stop offset="0.373" stop-color="#0000cb"/><stop offset="0.644" stop-color="#0000e5"/><stop offset="0.78" stop-color="#0000ea"/><stop offset="0.949" stop-color="#0000cc"/><stop offset="0.983" stop-color="#000080"/></linearGradient><linearGradient id="c30" gradientUnits="userSpaceOnUse" x1="182.4" x2="231.5" y1="0" y2="0" spreadMethod="reflect"><stop offset="0" stop-color="#0000af"/><stop offset="0.361" stop-color="#0000d3"/><stop offset="0.623" stop-color="#0000ea"/><stop offset="0.721" stop-color="#0000f0"/><stop offset="0.82" stop-color="#0000e9"/><stop offset="0.951" stop-color="#0000ce"/><stop offset="0.984" stop-color="#000080"/></linearGradient><linearGradient id="c31" gradientUnits="userSpaceOnUse" x1="182.4" x2="233.12" y1="0" y2="0" spreadMethod="reflect"><stop offset="0" stop-color="#0000b6"/><stop offset="0.381" stop-color="#0000dc"/><stop offset="0.698" stop-color="#0000f7"/><stop offset="0.825" stop-color="#0000ec"/><stop offset="0.952" stop-color="#0000d1"/><stop offset="0.984" stop-color="#000083"/></linearGradient><linearGradient id="c32" gradientUnits="userSpaceOnUse" x1="182.4" x2="234.73" y1="0" y2="0" spreadMethod="reflect"><stop offset="0" stop-color="#0000bd"/><stop offset="0.369" stop-color="#0000e3"/><stop offset="0.708" stop-color="#0000fc"/><stop offset="0.862" stop-color="#0000ea"/><stop offset="0.954" stop-color="#0000d4"/><stop offset="0.985" stop-color="#000086"/></linearGradient><linearGradient id="c33" gradientUnits="userSpaceOnUse" x1="182.4" x2="236.34" y1="0" y2="0" spreadMethod="reflect"><stop offset="0" stop-color="#0000c8"/><stop offset="0.448" stop-color="#0000f3"/><stop offset="0.627" stop-color="#0004ff"/><stop offset="0.746" stop-color="#0002ff"/><stop offset="0.866" stop-color="#0000ef"/><stop offset="0.955" stop-color="#0000d7"/><stop offset="0.985" stop-color="#000089"/></linearGradient><linearGradient id="c34" gradientUnits="userSpaceOnUse" x1="182.4" x2="237.94" y1="0" y2="0" spreadMethod="reflect"><stop offset="0" stop-color="#0000d3"/><stop offset="0.493" stop-color="#0001ff"/><stop offset="0.696" stop-color="#000fff"/><stop offset="0.841" stop-color="#0000fa"/><stop offset="0.957" stop-color="#0000db"/><stop offset="0.986" stop-color="#00008c"/></linearGradient><linearGradient id="c35" gradientUnits="userSpaceOnUse" x1="182.4" x2="239.56" y1="0" y2="0" spreadMethod="reflect"><stop offset="0" stop-color="#0000de"/><stop offset="0.366" stop-color="#0002ff"/><stop offset="0.676" stop-color="#0018ff"/><stop offset="0.845" stop-color="#0001ff"/><stop offset="0.958" stop-color="#0000de"/><stop offset="0.986" stop-color="#00008f"/></linearGradient><linearGradient id="c36" gradientUnits="userSpaceOnUse" x1="182.4" x2="241.17" y1="0" y2="0" spreadMethod="reflect"><stop offset="0" stop-color="#0000e9"/><stop offset="0.301" stop-color="#0004ff"/><stop offset="0.658" stop-color="#0021ff"/><stop offset="0.795" stop-color="#0012ff"/><stop offset="0.877" stop-color="#0000ff"/><stop offset="0.959" stop-color="#0000e2"/><stop offset="0.986" stop-color="#000092"/></linearGradient><linearGradient id="c37" gradientUnits="userSpaceOnUse" x1="182.4" x2="242.78" y1="0" y2="0" spreadMethod="reflect"><stop offset="0" stop-color="#0000f4"/><stop offset="0.16" stop-color="#0003ff"/><stop offset="0.64" stop-color="#002aff"/><stop offset="0.72" stop-color="#0026ff"/><stop offset="0.907" stop-color="#0000fb"/><stop offset="0.96" stop-color="#0000e5"/><stop offset="0.987" stop-color="#000095"/></linearGradient><linearGradient id="c38" gradientUnits="userSpaceOnUse" x1="182.4" x2="244.39" y1="0" y2="0" spreadMethod="reflect"><stop offset="0" stop-color="#0000ff"/><stop offset="0.338" stop-color="#001bff"/><stop offset="0.623" stop-color="#0033ff"/><stop offset="0.727" stop-color="#002dff"/><stop offset="0.909" stop-color="#0000ff"/><stop offset="0.961" stop-color="#0000e9"/><stop offset="0.987" stop-color="#000098"/></linearGradient><linearGradient id="c39" gradientUnits="userSpaceOnUse" x1="182.4" x2="246" y1="0" y2="0" spreadMethod="reflect"><stop offset="0" stop-color="#000dff"/><stop offset="0.329" stop-color="#0026ff"/><stop offset="0.582" stop-color="#003eff"/><stop offset="0.709" stop-color="#003cff"/><stop offset="0.835" stop-color="#0020ff"/><stop offset="0.911" stop-color="#0005ff"/><stop offset="0.962" stop-color="#0000e8"/><stop offset="0.987" stop-color="#00009b"/></linearGradient><linearGradient id="c40" gradientUnits="userSpaceOnUse" x1="182.4" x2="247.61" y1="0" y2="0" spreadMethod="reflect"><stop offset="0" stop-color="#001aff"/><stop offset="0.346" stop-color="#0035ff"/><stop offset="0.617" stop-color="#004aff"/><stop offset="0.716" stop-color="#0046ff"/><stop offset="0.815" stop-color="#0031ff"/><stop offset="0.889" stop-color="#0019ff"/><stop offset="0.938" stop-color="#0000f8"/><stop offset="0.963" stop-color="#0000e8"/><stop offset="0.988" stop-color="#00009e"/></linearGradient><linearGradient id="c41" gradientUnits="userSpaceOnUse" x1="182.4" x2="249.22" y1="0" y2="0" spreadMethod="reflect"><stop offset="0" stop-color="#0028ff"/><stop offset="0.337" stop-color="#003fff"/><stop offset="0.602" stop-color="#0055ff"/><stop offset="0.723" stop-color="#0051ff"/><stop offset="0.819" stop-color="#003bff"/><stop offset="0.892" stop-color="#001fff"/><stop offset="0.94" stop-color="#0000f9"/><stop offset="0.964" stop-color="#0000e7"/><stop offset="0.988" stop-color="#0000a4"/></linearGradient><linearGradient id="c42" gradientUnits="userSpaceOnUse" x1="182.4" x2="250.82" y1="0" y2="0" spreadMethod="reflect"><stop offset="0" stop-color="#0035ff"/><stop offset="0.329" stop-color="#004aff"/><stop offset="0.565" stop-color="#005fff"/><stop offset="0.706" stop-color="#005fff"/><stop offset="0.8" stop-color="#004eff"/><stop offset="0.894" stop-color="#0024ff"/><stop offset="0.941" stop-color="#0000fb"/><stop offset="0.965" stop-color="#0000e7"/><stop offset="0.988" stop-color="#0000aa"/></linearGradient><linearGradient id="c43" gradientUnits="userSpaceOnUse" x1="182.4" x2="252.44" y1="0" y2="0" spreadMethod="reflect"><stop offset="0" stop-color="#0043ff"/><stop offset="0.322" stop-color="#0055ff"/><stop offset="0.552" stop-color="#006aff"/><stop offset="0.713" stop-color="#006aff"/><stop offset="0.805" stop-color="#0058ff"/><stop offset="0.897" stop-color="#0029ff"/><stop offset="0.943" stop-color="#0000fc"/><stop offset="0.966" stop-color="#0000e6"/><stop offset="0.989" stop-color="#0000b0"/></linearGradient><linearGradient id="c44" gradientUnits="userSpaceOnUse" x1="182.4" x2="254.05" y1="0" y2="0" spreadMethod="reflect"><stop offset="0" stop-color="#0050ff"/><stop offset="0.292" stop-color="#005dff"/><stop offset="0.517" stop-color="#0074ff"/><stop offset="0.719" stop-color="#0074ff"/><stop offset="0.787" stop-color="#006bff"/><stop offset="0.876" stop-color="#003fff"/><stop offset="0.921" stop-color="#0016ff"/><stop offset="0.944" stop-color="#0000fd"/><stop offset="0.966" stop-color="#0000e5"/><stop offset="0.989" stop-color="#0000b7"/></linearGradient><linearGradient id="c45" gradientUnits="userSpaceOnUse" x1="182.4" x2="255.66" y1="0" y2="0" spreadMethod="reflect"><stop offset="0" stop-color="#005eff"/><stop offset="0.198" stop-color="#0063ff"/><stop offset="0.549" stop-color="#0081ff"/><stop offset="0.725" stop-color="#007fff"/><stop offset="0.791" stop-color="#0076ff"/><stop offset="0.879" stop-color="#0045ff"/><stop offset="0.923" stop-color="#0019ff"/><stop offset="0.945" stop-color="#0000fe"/><stop offset="0.967" stop-color="#0000e4"/><stop offset="0.989" stop-color="#0000bd"/></linearGradient><linearGradient id="c46" gradientUnits="userSpaceOnUse" x1="182.4" x2="257.26" y1="0" y2="0" spreadMethod="reflect"><stop offset="0" stop-color="#006bff"/><stop offset="0.194" stop-color="#006fff"/><stop offset="0.538" stop-color="#008eff"/><stop offset="0.71" stop-color="#008fff"/><stop offset="0.796" stop-color="#0082ff"/><stop offset="0.882" stop-color="#004dff"/><stop offset="0.946" stop-color="#0002ff"/><stop offset="0.968" stop-color="#0000e7"/><stop offset="0.989" stop-color="#0000c0"/></linearGradient><linearGradient id="c47" gradientUnits="userSpaceOnUse" x1="182.4" x2="258.88" y1="0" y2="0" spreadMethod="reflect"><stop offset="0" stop-color="#0079ff"/><stop offset="0.189" stop-color="#007bff"/><stop offset="0.547" stop-color="#009cff"/><stop offset="0.716" stop-color="#009bff"/><stop offset="0.8" stop-color="#008cff"/><stop offset="0.884" stop-color="#0054ff"/><stop offset="0.947" stop-color="#0006ff"/><stop offset="0.968" stop-color="#0000e9"/><stop offset="0.989" stop-color="#0000c3"/></linearGradient><linearGradient id="c48" gradientUnits="userSpaceOnUse" x1="182.4" x2="260.49" y1="0" y2="0" spreadMethod="reflect"><stop offset="0" stop-color="#0086ff"/><stop offset="0.186" stop-color="#0087ff"/><stop offset="0.536" stop-color="#00a9ff"/><stop offset="0.722" stop-color="#00a8ff"/><stop offset="0.784" stop-color="#00a1ff"/><stop offset="0.887" stop-color="#005bff"/><stop offset="0.948" stop-color="#0009ff"/><stop offset="0.969" stop-color="#0000ec"/><stop offset="0.99" stop-color="#0000c7"/></linearGradient><linearGradient id="c49" gradientUnits="userSpaceOnUse" x1="182.4" x2="262.1" y1="0" y2="0" spreadMethod="reflect"><stop offset="0" stop-color="#0094ff"/><stop offset="0.182" stop-color="#0093ff"/><stop offset="0.545" stop-color="#00b6ff"/><stop offset="0.727" stop-color="#00b5ff"/><stop offset="0.788" stop-color="#00aeff"/><stop offset="0.889" stop-color="#0062ff"/><stop offset="0.949" stop-color="#000cff"/><stop offset="0.97" stop-color="#0000ee"/><stop offset="0.99" stop-color="#0000ca"/></linearGradient><linearGradient id="c50" gradientUnits="userSpaceOnUse" x1="182.4" x2="263.71" y1="0" y2="0" spreadMethod="reflect"><stop offset="0" stop-color="#00a2ff"/><stop offset="0.178" stop-color="#009fff"/><stop offset="0.535" stop-color="#00c3ff"/><stop offset="0.713" stop-color="#00c4ff"/><stop offset="0.792" stop-color="#00bbff"/><stop offset="0.891" stop-color="#0069ff"/><stop offset="0.95" stop-color="#0010ff"/><stop offset="0.97" stop-color="#0000f1"/><stop offset="0.99" stop-color="#0000ce"/></linearGradient><linearGradient id="c51" gradientUnits="userSpaceOnUse" x1="182.4" x2="265.31" y1="0" y2="0" spreadMethod="reflect"><stop offset="0" stop-color="#00afff"/><stop offset="0.175" stop-color="#00acff"/><stop offset="0.544" stop-color="#00d0ff"/><stop offset="0.718" stop-color="#00d1ff"/><stop offset="0.796" stop-color="#00c5ff"/><stop offset="0.893" stop-color="#006eff"/><stop offset="0.951" stop-color="#0013ff"/><stop offset="0.971" stop-color="#0000f3"/><stop offset="0.99" stop-color="#0000d1"/></linearGradient><linearGradient id="c52" gradientUnits="userSpaceOnUse" x1="182.4" x2="266.93" y1="0" y2="0" spreadMethod="reflect"><stop offset="0" stop-color="#00b9ff"/><stop offset="0.19" stop-color="#00b7ff"/><stop offset="0.533" stop-color="#00daff"/><stop offset="0.705" stop-color="#00dbff"/><stop offset="0.781" stop-color="#00cfff"/><stop offset="0.8" stop-color="#00c7ff"/><stop offset="0.895" stop-color="#006eff"/><stop offset="0.952" stop-color="#0014ff"/><stop offset="0.971" stop-color="#0000f5"/><stop offset="0.99" stop-color="#0000d3"/></linearGradient><linearGradient id="c53" gradientUnits="userSpaceOnUse" x1="182.4" x2="268.54" y1="0" y2="0" spreadMethod="reflect"><stop offset="0" stop-color="#00c2ff"/><stop offset="0.224" stop-color="#00c5ff"/><stop offset="0.542" stop-color="#00e4ff"/><stop offset="0.71" stop-color="#00e2ff"/><stop offset="0.785" stop-color="#00d4ff"/><stop offset="0.841" stop-color="#00a6ff"/><stop offset="0.897" stop-color="#006eff"/><stop offset="0.953" stop-color="#0015ff"/><stop offset="0.972" stop-color="#0000f6"/><stop offset="0.991" stop-color="#0000d6"/></linearGradient><linearGradient id="c54" gradientUnits="userSpaceOnUse" x1="182.4" x2="270.14" y1="0" y2="0" spreadMethod="reflect"><stop offset="0" stop-color="#00ccff"/><stop offset="0.239" stop-color="#00d1ff"/><stop offset="0.55" stop-color="#00eeff"/><stop offset="0.716" stop-color="#00e9ff"/><stop offset="0.789" stop-color="#00d9ff"/><stop offset="0.881" stop-color="#0084ff"/><stop offset="0.917" stop-color="#0051ff"/><stop offset="0.954" stop-color="#0016ff"/><stop offset="0.972" stop-color="#0000f8"/><stop offset="0.991" stop-color="#0000d8"/></linearGradient><linearGradient id="c55" gradientUnits="userSpaceOnUse" x1="182.4" x2="271.75" y1="0" y2="0" spreadMethod="reflect"><stop offset="0" stop-color="#00d5ff"/><stop offset="0.288" stop-color="#00e0ff"/><stop offset="0.559" stop-color="#00f8ff"/><stop offset="0.703" stop-color="#00f3ff"/><stop offset="0.793" stop-color="#00ddff"/><stop offset="0.883" stop-color="#0085ff"/><stop offset="0.937" stop-color="#0035ff"/><stop offset="0.973" stop-color="#0000fa"/><stop offset="0.991" stop-color="#0000da"/></linearGradient><linearGradient id="c56" gradientUnits="userSpaceOnUse" x1="182.4" x2="273.37" y1="0" y2="0" spreadMethod="reflect"><stop offset="0" stop-color="#00dfff"/><stop offset="0.319" stop-color="#00eeff"/><stop offset="0.531" stop-color="#02fffd"/><stop offset="0.708" stop-color="#00faff"/><stop offset="0.796" stop-color="#00dfff"/><stop offset="0.885" stop-color="#0087ff"/><stop offset="0.973" stop-color="#0000fc"/><stop offset="0.991" stop-color="#0000dc"/></linearGradient><linearGradient id="c57" gradientUnits="userSpaceOnUse" x1="182.4" x2="274.98" y1="0" y2="0" spreadMethod="reflect"><stop offset="0" stop-color="#00e9ff"/><stop offset="0.365" stop-color="#00fdff"/><stop offset="0.609" stop-color="#0dfff2"/><stop offset="0.73" stop-color="#00fbff"/><stop offset="0.8" stop-color="#00e0ff"/><stop offset="0.887" stop-color="#0088ff"/><stop offset="0.974" stop-color="#0000fe"/><stop offset="0.991" stop-color="#0000df"/></linearGradient><linearGradient id="c58" gradientUnits="userSpaceOnUse" x1="182.4" x2="276.59" y1="0" y2="0" spreadMethod="reflect"><stop offset="0" stop-color="#00f9ff"/><stop offset="0.342" stop-color="#0efff1"/><stop offset="0.564" stop-color="#1dffe2"/><stop offset="0.701" stop-color="#10ffef"/><stop offset="0.769" stop-color="#00fbff"/><stop offset="0.803" stop-color="#00e9ff"/><stop offset="0.889" stop-color="#0092ff"/><stop offset="0.974" stop-color="#0004ff"/><stop offset="0.991" stop-color="#0000e1"/></linearGradient><linearGradient id="c59" gradientUnits="userSpaceOnUse" x1="182.4" x2="278.19" y1="0" y2="0" spreadMethod="reflect"><stop offset="0" stop-color="#0bfff4"/><stop offset="0.555" stop-color="#2dffd2"/><stop offset="0.689" stop-color="#1dffe2"/><stop offset="0.79" stop-color="#02fffd"/><stop offset="0.874" stop-color="#00adff"/><stop offset="0.891" stop-color="#009cff"/><stop offset="0.975" stop-color="#0009ff"/><stop offset="0.992" stop-color="#0000e3"/></linearGradient><linearGradient id="c60" gradientUnits="userSpaceOnUse" x1="182.4" x2="279.81" y1="0" y2="0" spreadMethod="reflect"><stop offset="0" stop-color="#1cffe3"/><stop offset="0.248" stop-color="#31ffce"/><stop offset="0.479" stop-color="#3cffc3"/><stop offset="0.612" stop-color="#38ffc7"/><stop offset="0.793" stop-color="#0efff1"/><stop offset="0.81" stop-color="#00fcff"/><stop offset="0.893" stop-color="#00a6ff"/><stop offset="0.975" stop-color="#000eff"/><stop offset="0.992" stop-color="#0000e6"/></linearGradient><linearGradient id="c61" gradientUnits="userSpaceOnUse" x1="182.4" x2="281.42" y1="0" y2="0" spreadMethod="reflect"><stop offset="0" stop-color="#27ffd8"/><stop offset="0.276" stop-color="#3fffc0"/><stop offset="0.569" stop-color="#46ffb9"/><stop offset="0.732" stop-color="#28ffd7"/><stop offset="0.797" stop-color="#15ffea"/><stop offset="0.813" stop-color="#04fffb"/><stop offset="0.894" stop-color="#00afff"/><stop offset="0.976" stop-color="#001bff"/><stop offset="0.992" stop-color="#0000f1"/></linearGradient><linearGradient id="c62" gradientUnits="userSpaceOnUse" x1="182.4" x2="283.02" y1="0" y2="0" spreadMethod="reflect"><stop offset="0" stop-color="#33ffcc"/><stop offset="0.272" stop-color="#4cffb3"/><stop offset="0.576" stop-color="#4fffb0"/><stop offset="0.736" stop-color="#32ffcd"/><stop offset="0.8" stop-color="#1bffe4"/><stop offset="0.832" stop-color="#00faff"/><stop offset="0.896" stop-color="#00b7ff"/><stop offset="0.976" stop-color="#0028ff"/><stop offset="0.992" stop-color="#0000fc"/></linearGradient><linearGradient id="c63" gradientUnits="userSpaceOnUse" x1="182.4" x2="284.63" y1="0" y2="0" spreadMethod="reflect"><stop offset="0" stop-color="#3fffc0"/><stop offset="0.283" stop-color="#5affa5"/><stop offset="0.583" stop-color="#59ffa6"/><stop offset="0.724" stop-color="#40ffbf"/><stop offset="0.787" stop-color="#2dffd2"/><stop offset="0.835" stop-color="#03fffc"/><stop offset="0.898" stop-color="#00c0ff"/><stop offset="0.976" stop-color="#0035ff"/><stop offset="0.992" stop-color="#0008ff"/></linearGradient><linearGradient id="c64" gradientUnits="userSpaceOnUse" x1="182.4" x2="286.25" y1="0" y2="0" spreadMethod="reflect"><stop offset="0" stop-color="#4affb5"/><stop offset="0.295" stop-color="#67ff98"/><stop offset="0.605" stop-color="#60ff9f"/><stop offset="0.729" stop-color="#49ffb6"/><stop offset="0.791" stop-color="#36ffc9"/><stop offset="0.853" stop-color="#00fbff"/><stop offset="0.899" stop-color="#00c9ff"/><stop offset="0.977" stop-color="#0042ff"/><stop offset="0.992" stop-color="#0014ff"/></linearGradient><linearGradient id="c65" gradientUnits="userSpaceOnUse" x1="182.4" x2="287.86" y1="0" y2="0" spreadMethod="reflect"><stop offset="0" stop-color="#56ffa9"/><stop offset="0.29" stop-color="#74ff8b"/><stop offset="0.611" stop-color="#69ff96"/><stop offset="0.718" stop-color="#58ffa7"/><stop offset="0.794" stop-color="#3fffc0"/><stop offset="0.855" stop-color="#05fffa"/><stop offset="0.885" stop-color="#00e7ff"/><stop offset="0.931" stop-color="#009eff"/><stop offset="0.977" stop-color="#004fff"/><stop offset="0.992" stop-color="#001fff"/></linearGradient><linearGradient id="c66" gradientUnits="userSpaceOnUse" x1="182.4" x2="289.47" y1="0" y2="0" spreadMethod="reflect"><stop offset="0" stop-color="#65ff9a"/><stop offset="0.301" stop-color="#85ff7a"/><stop offset="0.647" stop-color="#71ff8e"/><stop offset="0.737" stop-color="#5fffa0"/><stop offset="0.797" stop-color="#4cffb3"/><stop offset="0.872" stop-color="#08fff7"/><stop offset="0.887" stop-color="#00faff"/><stop offset="0.932" stop-color="#00afff"/><stop offset="0.977" stop-color="#005eff"/><stop offset="0.992" stop-color="#002bff"/></linearGradient><linearGradient id="c67" gradientUnits="userSpaceOnUse" x1="182.4" x2="291.08" y1="0" y2="0" spreadMethod="reflect"><stop offset="0" stop-color="#74ff8b"/><stop offset="0.311" stop-color="#95ff6a"/><stop offset="0.696" stop-color="#78ff87"/><stop offset="0.8" stop-color="#59ffa6"/><stop offset="0.889" stop-color="#0efff1"/><stop offset="0.904" stop-color="#00f6ff"/><stop offset="0.978" stop-color="#006dff"/><stop offset="0.993" stop-color="#0036ff"/></linearGradient><linearGradient id="c68" gradientUnits="userSpaceOnUse" x1="182.4" x2="292.69" y1="0" y2="0" spreadMethod="reflect"><stop offset="0" stop-color="#84ff7b"/><stop offset="0.307" stop-color="#a6ff59"/><stop offset="0.715" stop-color="#81ff7e"/><stop offset="0.803" stop-color="#66ff99"/><stop offset="0.891" stop-color="#22ffdd"/><stop offset="0.905" stop-color="#09fff6"/><stop offset="0.92" stop-color="#00ecff"/><stop offset="0.978" stop-color="#007cff"/><stop offset="0.993" stop-color="#0041ff"/></linearGradient><linearGradient id="c69" gradientUnits="userSpaceOnUse" x1="182.4" x2="294.3" y1="0" y2="0" spreadMethod="reflect"><stop offset="0" stop-color="#93ff6c"/><stop offset="0.317" stop-color="#b5ff4a"/><stop offset="0.719" stop-color="#8dff72"/><stop offset="0.791" stop-color="#7dff82"/><stop offset="0.892" stop-color="#36ffc9"/><stop offset="0.921" stop-color="#00feff"/><stop offset="0.978" stop-color="#008cff"/><stop offset="0.993" stop-color="#004dff"/></linearGradient><linearGradient id="c70" gradientUnits="userSpaceOnUse" x1="182.4" x2="295.91" y1="0" y2="0" spreadMethod="reflect"><stop offset="0" stop-color="#9fff60"/><stop offset="0.298" stop-color="#c1ff3e"/><stop offset="0.723" stop-color="#96ff69"/><stop offset="0.794" stop-color="#85ff7a"/><stop offset="0.894" stop-color="#3affc5"/><stop offset="0.922" stop-color="#04fffb"/><stop offset="0.979" stop-color="#0096ff"/><stop offset="0.993" stop-color="#005bff"/></linearGradient><linearGradient id="c71" gradientUnits="userSpaceOnUse" x1="182.4" x2="297.51" y1="0" y2="0" spreadMethod="reflect"><stop offset="0" stop-color="#abff54"/><stop offset="0.294" stop-color="#cbff34"/><stop offset="0.49" stop-color="#b7ff48"/><stop offset="0.713" stop-color="#a2ff5d"/><stop offset="0.797" stop-color="#8cff73"/><stop offset="0.895" stop-color="#3dffc2"/><stop offset="0.923" stop-color="#09fff6"/><stop offset="0.937" stop-color="#00eeff"/><stop offset="0.979" stop-color="#00a0ff"/><stop offset="0.993" stop-color="#006aff"/></linearGradient><linearGradient id="c72" gradientUnits="userSpaceOnUse" x1="182.4" x2="299.12" y1="0" y2="0" spreadMethod="reflect"><stop offset="0" stop-color="#b7ff48"/><stop offset="0.276" stop-color="#d4ff2b"/><stop offset="0.455" stop-color="#c6ff39"/><stop offset="0.717" stop-color="#abff54"/><stop offset="0.8" stop-color="#92ff6d"/><stop offset="0.897" stop-color="#40ffbf"/><stop offset="0.924" stop-color="#0ffff0"/><stop offset="0.938" stop-color="#00f5ff"/><stop offset="0.979" stop-color="#00abff"/><stop offset="0.993" stop-color="#0078ff"/></linearGradient><linearGradient id="c73" gradientUnits="userSpaceOnUse" x1="182.4" x2="300.74" y1="0" y2="0" spreadMethod="reflect"><stop offset="0" stop-color="#c2ff3d"/><stop offset="0.259" stop-color="#deff21"/><stop offset="0.422" stop-color="#d4ff2b"/><stop offset="0.653" stop-color="#bcff43"/><stop offset="0.721" stop-color="#b3ff4c"/><stop offset="0.803" stop-color="#98ff67"/><stop offset="0.898" stop-color="#44ffbb"/><stop offset="0.939" stop-color="#00fcff"/><stop offset="0.98" stop-color="#00b5ff"/><stop offset="0.993" stop-color="#0087ff"/></linearGradient><linearGradient id="c74" gradientUnits="userSpaceOnUse" x1="182.4" x2="302.35" y1="0" y2="0" spreadMethod="reflect"><stop offset="0" stop-color="#ceff31"/><stop offset="0.242" stop-color="#e8ff17"/><stop offset="0.416" stop-color="#dfff20"/><stop offset="0.644" stop-color="#c6ff39"/><stop offset="0.711" stop-color="#c0ff3f"/><stop offset="0.792" stop-color="#a9ff56"/><stop offset="0.899" stop-color="#47ffb8"/><stop offset="0.94" stop-color="#04fffb"/><stop offset="0.98" stop-color="#00c0ff"/><stop offset="0.993" stop-color="#0095ff"/></linearGradient><linearGradient id="c75" gradientUnits="userSpaceOnUse" x1="182.4" x2="303.96" y1="0" y2="0" spreadMethod="reflect"><stop offset="0" stop-color="#e5ff1a"/><stop offset="0.212" stop-color="#feff01"/><stop offset="0.397" stop-color="#f5ff0a"/><stop offset="0.649" stop-color="#d7ff28"/><stop offset="0.715" stop-color="#cfff30"/><stop offset="0.795" stop-color="#b7ff48"/><stop offset="0.887" stop-color="#65ff9a"/><stop offset="0.94" stop-color="#11ffee"/><stop offset="0.954" stop-color="#00faff"/><stop offset="0.98" stop-color="#00cdff"/><stop offset="0.993" stop-color="#00a4ff"/></linearGradient><linearGradient id="c76" gradientUnits="userSpaceOnUse" x1="182.4" x2="305.56" y1="0" y2="0" spreadMethod="reflect"><stop offset="0" stop-color="#fbff04"/><stop offset="0.222" stop-color="#ffeb00"/><stop offset="0.418" stop-color="#fff900"/><stop offset="0.536" stop-color="#f3ff0c"/><stop offset="0.706" stop-color="#e3ff1c"/><stop offset="0.797" stop-color="#c4ff3b"/><stop offset="0.889" stop-color="#72ff8d"/><stop offset="0.954" stop-color="#08fff7"/><stop offset="0.967" stop-color="#00f1ff"/><stop offset="0.98" stop-color="#00dbff"/><stop offset="0.993" stop-color="#00b2ff"/></linearGradient><linearGradient id="c77" gradientUnits="userSpaceOnUse" x1="182.4" x2="307.18" y1="0" y2="0" spreadMethod="reflect"><stop offset="0" stop-color="#ffed00"/><stop offset="0.168" stop-color="#ffd600"/><stop offset="0.374" stop-color="#ffe000"/><stop offset="0.619" stop-color="#fcff03"/><stop offset="0.71" stop-color="#f2ff0d"/><stop offset="0.8" stop-color="#d1ff2e"/><stop offset="0.89" stop-color="#80ff7f"/><stop offset="0.968" stop-color="#00ffff"/><stop offset="0.981" stop-color="#00e9ff"/><stop offset="0.994" stop-color="#00bbff"/></linearGradient><linearGradient id="c78" gradientUnits="userSpaceOnUse" x1="182.4" x2="308.79" y1="0" y2="0" spreadMethod="reflect"><stop offset="0" stop-color="#ffdc00"/><stop offset="0.166" stop-color="#ffc600"/><stop offset="0.344" stop-color="#ffce00"/><stop offset="0.713" stop-color="#fdff02"/><stop offset="0.803" stop-color="#dbff24"/><stop offset="0.892" stop-color="#8dff72"/><stop offset="0.968" stop-color="#0afff5"/><stop offset="0.981" stop-color="#00f2ff"/><stop offset="0.994" stop-color="#00c3ff"/></linearGradient><linearGradient id="c79" gradientUnits="userSpaceOnUse" x1="182.4" x2="310.39" y1="0" y2="0" spreadMethod="reflect"><stop offset="0" stop-color="#ffcb00"/><stop offset="0.151" stop-color="#ffb600"/><stop offset="0.289" stop-color="#ffb800"/><stop offset="0.704" stop-color="#fff100"/><stop offset="0.755" stop-color="#fcff03"/><stop offset="0.805" stop-color="#e5ff1a"/><stop offset="0.893" stop-color="#9aff65"/><stop offset="0.981" stop-color="#00fcff"/><stop offset="0.994" stop-color="#00ccff"/></linearGradient><linearGradient id="c80" gradientUnits="userSpaceOnUse" x1="182.4" x2="312" y1="0" y2="0" spreadMethod="reflect"><stop offset="0" stop-color="#ffbb00"/><stop offset="0.149" stop-color="#ffa600"/><stop offset="0.273" stop-color="#ffa700"/><stop offset="0.708" stop-color="#ffe600"/><stop offset="0.795" stop-color="#faff05"/><stop offset="0.894" stop-color="#a7ff58"/><stop offset="0.981" stop-color="#07fff8"/><stop offset="0.994" stop-color="#00d4ff"/></linearGradient><linearGradient id="c81" gradientUnits="userSpaceOnUse" x1="182.4" x2="313.62" y1="0" y2="0" spreadMethod="reflect"><stop offset="0" stop-color="#ffaa00"/><stop offset="0.147" stop-color="#ff9500"/><stop offset="0.27" stop-color="#ff9700"/><stop offset="0.712" stop-color="#ffdb00"/><stop offset="0.798" stop-color="#fffa00"/><stop offset="0.847" stop-color="#dcff23"/><stop offset="0.896" stop-color="#b3ff4c"/><stop offset="0.982" stop-color="#11ffee"/><stop offset="0.994" stop-color="#00ddff"/></linearGradient><linearGradient id="c82" gradientUnits="userSpaceOnUse" x1="182.4" x2="315.23" y1="0" y2="0" spreadMethod="reflect"><stop offset="0" stop-color="#ff9a00"/><stop offset="0.145" stop-color="#ff8500"/><stop offset="0.267" stop-color="#ff8700"/><stop offset="0.715" stop-color="#ffd000"/><stop offset="0.8" stop-color="#fff000"/><stop offset="0.824" stop-color="#fbff04"/><stop offset="0.897" stop-color="#bfff40"/><stop offset="0.982" stop-color="#1bffe4"/><stop offset="0.994" stop-color="#00e5ff"/></linearGradient><linearGradient id="c83" gradientUnits="userSpaceOnUse" x1="182.4" x2="316.84" y1="0" y2="0" spreadMethod="reflect"><stop offset="0" stop-color="#ff8c00"/><stop offset="0.156" stop-color="#ff7800"/><stop offset="0.287" stop-color="#ff7d00"/><stop offset="0.719" stop-color="#ffc700"/><stop offset="0.802" stop-color="#ffe600"/><stop offset="0.838" stop-color="#fbff04"/><stop offset="0.898" stop-color="#c7ff38"/><stop offset="0.982" stop-color="#24ffdb"/><stop offset="0.994" stop-color="#00f0ff"/></linearGradient><linearGradient id="c84" gradientUnits="userSpaceOnUse" x1="182.4" x2="318.45" y1="0" y2="0" spreadMethod="reflect"><stop offset="0" stop-color="#ff7e00"/><stop offset="0.178" stop-color="#ff6b00"/><stop offset="0.343" stop-color="#ff7a00"/><stop offset="0.722" stop-color="#ffbd00"/><stop offset="0.793" stop-color="#ffd400"/><stop offset="0.852" stop-color="#fbff04"/><stop offset="0.888" stop-color="#deff21"/><stop offset="0.899" stop-color="#cfff30"/><stop offset="0.982" stop-color="#2dffd2"/><stop offset="0.994" stop-color="#00faff"/></linearGradient><linearGradient id="c85" gradientUnits="userSpaceOnUse" x1="182.4" x2="320.06" y1="0" y2="0" spreadMethod="reflect"><stop offset="0" stop-color="#ff7100"/><stop offset="0.199" stop-color="#ff5e00"/><stop offset="0.363" stop-color="#ff7200"/><stop offset="0.725" stop-color="#ffb400"/><stop offset="0.795" stop-color="#ffc900"/><stop offset="0.865" stop-color="#fbff04"/><stop offset="0.889" stop-color="#e7ff18"/><stop offset="0.912" stop-color="#c0ff3f"/><stop offset="0.982" stop-color="#36ffc9"/><stop offset="0.994" stop-color="#05fffa"/></linearGradient><linearGradient id="c86" gradientUnits="userSpaceOnUse" x1="182.4" x2="321.67" y1="0" y2="0" spreadMethod="reflect"><stop offset="0" stop-color="#ff6300"/><stop offset="0.208" stop-color="#ff5300"/><stop offset="0.358" stop-color="#ff6600"/><stop offset="0.647" stop-color="#ff9a00"/><stop offset="0.763" stop-color="#ffb400"/><stop offset="0.798" stop-color="#ffc000"/><stop offset="0.879" stop-color="#fbff04"/><stop offset="0.902" stop-color="#dfff20"/><stop offset="0.983" stop-color="#3fffc0"/><stop offset="0.994" stop-color="#0ffff0"/></linearGradient><linearGradient id="c87" gradientUnits="userSpaceOnUse" x1="182.4" x2="323.27" y1="0" y2="0" spreadMethod="reflect"><stop offset="0" stop-color="#ff5600"/><stop offset="0.217" stop-color="#ff4800"/><stop offset="0.354" stop-color="#ff5a00"/><stop offset="0.629" stop-color="#ff8d00"/><stop offset="0.754" stop-color="#ffa700"/><stop offset="0.8" stop-color="#ffb600"/><stop offset="0.88" stop-color="#fffa00"/><stop offset="0.891" stop-color="#faff05"/><stop offset="0.983" stop-color="#47ffb8"/><stop offset="0.994" stop-color="#19ffe6"/></linearGradient><linearGradient id="c88" gradientUnits="userSpaceOnUse" x1="182.4" x2="324.88" y1="0" y2="0" spreadMethod="reflect"><stop offset="0" stop-color="#ff4800"/><stop offset="0.226" stop-color="#ff3d00"/><stop offset="0.35" stop-color="#ff4e00"/><stop offset="0.61" stop-color="#ff8000"/><stop offset="0.757" stop-color="#ff9d00"/><stop offset="0.802" stop-color="#ffad00"/><stop offset="0.893" stop-color="#fffa00"/><stop offset="0.915" stop-color="#d9ff26"/><stop offset="0.983" stop-color="#50ffaf"/><stop offset="0.994" stop-color="#24ffdb"/></linearGradient><linearGradient id="c89" gradientUnits="userSpaceOnUse" x1="182.4" x2="326.5" y1="0" y2="0" spreadMethod="reflect"><stop offset="0" stop-color="#ff3b00"/><stop offset="0.223" stop-color="#ff3100"/><stop offset="0.346" stop-color="#ff4200"/><stop offset="0.603" stop-color="#ff7500"/><stop offset="0.76" stop-color="#ff9200"/><stop offset="0.793" stop-color="#ff9b00"/><stop offset="0.894" stop-color="#fff100"/><stop offset="0.905" stop-color="#f8ff07"/><stop offset="0.983" stop-color="#59ffa6"/><stop offset="0.994" stop-color="#2effd1"/></linearGradient><linearGradient id="c90" gradientUnits="userSpaceOnUse" x1="182.4" x2="328.11" y1="0" y2="0" spreadMethod="reflect"><stop offset="0" stop-color="#ff2d00"/><stop offset="0.232" stop-color="#ff2600"/><stop offset="0.343" stop-color="#ff3600"/><stop offset="0.597" stop-color="#ff6b00"/><stop offset="0.773" stop-color="#ff8b00"/><stop offset="0.796" stop-color="#ff9000"/><stop offset="0.895" stop-color="#ffe800"/><stop offset="0.906" stop-color="#fffe00"/><stop offset="0.983" stop-color="#62ff9d"/><stop offset="0.994" stop-color="#2effd1"/></linearGradient><linearGradient id="d1" gradientUnits="userSpaceOnUse" x1="527" x2="529.41" y1="0" y2="0" spreadMethod="reflect"><stop offset="0" stop-color="#004cff"/><stop offset="0.667" stop-color="#002cff"/></linearGradient><linearGradient id="d2" gradientUnits="userSpaceOnUse" x1="527" x2="531.02" y1="0" y2="0" spreadMethod="reflect"><stop offset="0" stop-color="#002dff"/><stop offset="0.8" stop-color="#0000fc"/></linearGradient><linearGradient id="d3" gradientUnits="userSpaceOnUse" x1="527" x2="532.63" y1="0" y2="0" spreadMethod="reflect"><stop offset="0" stop-color="#0019ff"/><stop offset="0.571" stop-color="#0000f9"/><stop offset="0.857" stop-color="#0000c7"/></linearGradient><linearGradient id="d4" gradientUnits="userSpaceOnUse" x1="527" x2="534.25" y1="0" y2="0" spreadMethod="reflect"><stop offset="0" stop-color="#0005ff"/><stop offset="0.667" stop-color="#0000e5"/><stop offset="0.889" stop-color="#0000bd"/></linearGradient><linearGradient id="d5" gradientUnits="userSpaceOnUse" x1="527" x2="535.86" y1="0" y2="0" spreadMethod="reflect"><stop offset="0" stop-color="#0000f6"/><stop offset="0.727" stop-color="#0000dc"/><stop offset="0.909" stop-color="#0000b2"/></linearGradient><linearGradient id="d6" gradientUnits="userSpaceOnUse" x1="527" x2="537.47" y1="0" y2="0" spreadMethod="reflect"><stop offset="0" stop-color="#0000e8"/><stop offset="0.615" stop-color="#0000d3"/><stop offset="0.769" stop-color="#0000d3"/><stop offset="0.923" stop-color="#0000a8"/></linearGradient><linearGradient id="d7" gradientUnits="userSpaceOnUse" x1="527" x2="539.08" y1="0" y2="0" spreadMethod="reflect"><stop offset="0" stop-color="#0000d9"/><stop offset="0.533" stop-color="#0000c9"/><stop offset="0.8" stop-color="#0000cb"/><stop offset="0.933" stop-color="#00009e"/></linearGradient><linearGradient id="d8" gradientUnits="userSpaceOnUse" x1="527" x2="540.68" y1="0" y2="0" spreadMethod="reflect"><stop offset="0" stop-color="#0000c9"/><stop offset="0.588" stop-color="#0000c2"/><stop offset="0.824" stop-color="#0000c8"/><stop offset="0.941" stop-color="#000094"/></linearGradient><linearGradient id="d9" gradientUnits="userSpaceOnUse" x1="527" x2="542.29" y1="0" y2="0" spreadMethod="reflect"><stop offset="0" stop-color="#0000ba"/><stop offset="0.316" stop-color="#0000bd"/><stop offset="0.632" stop-color="#0000bd"/><stop offset="0.842" stop-color="#0000c6"/><stop offset="0.947" stop-color="#00008a"/></linearGradient><linearGradient id="d10" gradientUnits="userSpaceOnUse" x1="527" x2="543.9" y1="0" y2="0" spreadMethod="reflect"><stop offset="0" stop-color="#0000aa"/><stop offset="0.286" stop-color="#0000b4"/><stop offset="0.571" stop-color="#0000b4"/><stop offset="0.857" stop-color="#0000c4"/><stop offset="0.952" stop-color="#000080"/></linearGradient><linearGradient id="d11" gradientUnits="userSpaceOnUse" x1="527" x2="545.51" y1="0" y2="0" spreadMethod="reflect"><stop offset="0" stop-color="#0000a2"/><stop offset="0.261" stop-color="#0000b0"/><stop offset="0.522" stop-color="#0000b0"/><stop offset="0.87" stop-color="#0000c6"/><stop offset="0.957" stop-color="#000080"/></linearGradient><linearGradient id="d12" gradientUnits="userSpaceOnUse" x1="527" x2="547.12" y1="0" y2="0" spreadMethod="reflect"><stop offset="0" stop-color="#00009a"/><stop offset="0.24" stop-color="#0000ac"/><stop offset="0.48" stop-color="#0000aa"/><stop offset="0.88" stop-color="#0000c8"/><stop offset="0.96" stop-color="#000080"/></linearGradient><linearGradient id="d13" gradientUnits="userSpaceOnUse" x1="527" x2="548.74" y1="0" y2="0" spreadMethod="reflect"><stop offset="0" stop-color="#000092"/><stop offset="0.222" stop-color="#0000a7"/><stop offset="0.519" stop-color="#0000aa"/><stop offset="0.889" stop-color="#0000ca"/><stop offset="0.963" stop-color="#000080"/></linearGradient><linearGradient id="d14" gradientUnits="userSpaceOnUse" x1="527" x2="550.35" y1="0" y2="0" spreadMethod="reflect"><stop offset="0" stop-color="#00008a"/><stop offset="0.207" stop-color="#0000a3"/><stop offset="0.483" stop-color="#0000a3"/><stop offset="0.897" stop-color="#0000cd"/><stop offset="0.966" stop-color="#000080"/></linearGradient><linearGradient id="d15" gradientUnits="userSpaceOnUse" x1="527" x2="551.96" y1="0" y2="0" spreadMethod="reflect"><stop offset="0" stop-color="#000089"/><stop offset="0.194" stop-color="#0000a2"/><stop offset="0.516" stop-color="#0000a9"/><stop offset="0.903" stop-color="#0000d1"/><stop offset="0.968" stop-color="#000080"/></linearGradient><linearGradient id="d16" gradientUnits="userSpaceOnUse" x1="527" x2="553.57" y1="0" y2="0" spreadMethod="reflect"><stop offset="0" stop-color="#000087"/><stop offset="0.182" stop-color="#0000a1"/><stop offset="0.485" stop-color="#0000a8"/><stop offset="0.848" stop-color="#0000d1"/><stop offset="0.909" stop-color="#0000d5"/><stop offset="0.97" stop-color="#000080"/></linearGradient><linearGradient id="d17" gradientUnits="userSpaceOnUse" x1="527" x2="555.17" y1="0" y2="0" spreadMethod="reflect"><stop offset="0" stop-color="#000085"/><stop offset="0.171" stop-color="#0000a0"/><stop offset="0.514" stop-color="#0000ae"/><stop offset="0.857" stop-color="#0000d6"/><stop offset="0.914" stop-color="#0000da"/><stop offset="0.971" stop-color="#000080"/></linearGradient><linearGradient id="d18" gradientUnits="userSpaceOnUse" x1="527" x2="556.78" y1="0" y2="0" spreadMethod="reflect"><stop offset="0" stop-color="#000084"/><stop offset="0.216" stop-color="#0000a4"/><stop offset="0.541" stop-color="#0000b4"/><stop offset="0.865" stop-color="#0000da"/><stop offset="0.919" stop-color="#0000de"/><stop offset="0.973" stop-color="#000080"/></linearGradient><linearGradient id="d19" gradientUnits="userSpaceOnUse" x1="527" x2="558.39" y1="0" y2="0" spreadMethod="reflect"><stop offset="0" stop-color="#000082"/><stop offset="0.205" stop-color="#0000a4"/><stop offset="0.513" stop-color="#0000b3"/><stop offset="0.821" stop-color="#0000db"/><stop offset="0.923" stop-color="#0000e2"/><stop offset="0.974" stop-color="#000080"/></linearGradient><linearGradient id="d20" gradientUnits="userSpaceOnUse" x1="527" x2="560" y1="0" y2="0" spreadMethod="reflect"><stop offset="0" stop-color="#000086"/><stop offset="0.195" stop-color="#0000a6"/><stop offset="0.537" stop-color="#0000ba"/><stop offset="0.829" stop-color="#0000e0"/><stop offset="0.927" stop-color="#0000e6"/><stop offset="0.976" stop-color="#000080"/></linearGradient><linearGradient id="d21" gradientUnits="userSpaceOnUse" x1="527" x2="561.62" y1="0" y2="0" spreadMethod="reflect"><stop offset="0" stop-color="#00008a"/><stop offset="0.233" stop-color="#0000ac"/><stop offset="0.558" stop-color="#0000c1"/><stop offset="0.837" stop-color="#0000e6"/><stop offset="0.93" stop-color="#0000ea"/><stop offset="0.977" stop-color="#000080"/></linearGradient><linearGradient id="d22" gradientUnits="userSpaceOnUse" x1="527" x2="563.23" y1="0" y2="0" spreadMethod="reflect"><stop offset="0" stop-color="#00008e"/><stop offset="0.267" stop-color="#0000b2"/><stop offset="0.533" stop-color="#0000c3"/><stop offset="0.8" stop-color="#0000e8"/><stop offset="0.933" stop-color="#0000ee"/><stop offset="0.978" stop-color="#000080"/></linearGradient><linearGradient id="d23" gradientUnits="userSpaceOnUse" x1="527" x2="564.84" y1="0" y2="0" spreadMethod="reflect"><stop offset="0" stop-color="#000091"/><stop offset="0.255" stop-color="#0000b4"/><stop offset="0.553" stop-color="#0000ca"/><stop offset="0.809" stop-color="#0000ee"/><stop offset="0.936" stop-color="#0000f2"/><stop offset="0.979" stop-color="#000080"/></linearGradient><linearGradient id="d24" gradientUnits="userSpaceOnUse" x1="527" x2="566.45" y1="0" y2="0" spreadMethod="reflect"><stop offset="0" stop-color="#000095"/><stop offset="0.286" stop-color="#0000ba"/><stop offset="0.531" stop-color="#0000cb"/><stop offset="0.816" stop-color="#0000f3"/><stop offset="0.939" stop-color="#0000f5"/><stop offset="0.98" stop-color="#000080"/></linearGradient><linearGradient id="d25" gradientUnits="userSpaceOnUse" x1="527" x2="568.05" y1="0" y2="0" spreadMethod="reflect"><stop offset="0" stop-color="#000099"/><stop offset="0.314" stop-color="#0000bf"/><stop offset="0.588" stop-color="#0000d7"/><stop offset="0.824" stop-color="#0000f8"/><stop offset="0.941" stop-color="#0000f9"/><stop offset="0.98" stop-color="#000080"/></linearGradient><linearGradient id="d26" gradientUnits="userSpaceOnUse" x1="527" x2="569.66" y1="0" y2="0" spreadMethod="reflect"><stop offset="0" stop-color="#00009c"/><stop offset="0.302" stop-color="#0000c2"/><stop offset="0.566" stop-color="#0000d9"/><stop offset="0.792" stop-color="#0000fc"/><stop offset="0.943" stop-color="#0000fd"/><stop offset="0.981" stop-color="#000080"/></linearGradient><linearGradient id="d27" gradientUnits="userSpaceOnUse" x1="527" x2="571.27" y1="0" y2="0" spreadMethod="reflect"><stop offset="0" stop-color="#0000a4"/><stop offset="0.327" stop-color="#0000cb"/><stop offset="0.582" stop-color="#0000e3"/><stop offset="0.764" stop-color="#0001ff"/><stop offset="0.909" stop-color="#0006ff"/><stop offset="0.945" stop-color="#0004ff"/><stop offset="0.982" stop-color="#000080"/></linearGradient><linearGradient id="d28" gradientUnits="userSpaceOnUse" x1="527" x2="572.88" y1="0" y2="0" spreadMethod="reflect"><stop offset="0" stop-color="#0000ab"/><stop offset="0.351" stop-color="#0000d3"/><stop offset="0.596" stop-color="#0000ed"/><stop offset="0.702" stop-color="#0000ff"/><stop offset="0.877" stop-color="#000fff"/><stop offset="0.947" stop-color="#0009ff"/><stop offset="0.982" stop-color="#000080"/></linearGradient><linearGradient id="d29" gradientUnits="userSpaceOnUse" x1="527" x2="574.5" y1="0" y2="0" spreadMethod="reflect"><stop offset="0" stop-color="#0000b2"/><stop offset="0.373" stop-color="#0000dc"/><stop offset="0.61" stop-color="#0000f7"/><stop offset="0.712" stop-color="#0009ff"/><stop offset="0.847" stop-color="#0015ff"/><stop offset="0.949" stop-color="#000fff"/><stop offset="0.983" stop-color="#000080"/></linearGradient><linearGradient id="d30" gradientUnits="userSpaceOnUse" x1="527" x2="576.11" y1="0" y2="0" spreadMethod="reflect"><stop offset="0" stop-color="#0000b9"/><stop offset="0.393" stop-color="#0000e5"/><stop offset="0.623" stop-color="#0002ff"/><stop offset="0.82" stop-color="#001cff"/><stop offset="0.918" stop-color="#0019ff"/><stop offset="0.951" stop-color="#0015ff"/><stop offset="0.984" stop-color="#000080"/></linearGradient><linearGradient id="d31" gradientUnits="userSpaceOnUse" x1="527" x2="577.72" y1="0" y2="0" spreadMethod="reflect"><stop offset="0" stop-color="#0000c0"/><stop offset="0.413" stop-color="#0000ee"/><stop offset="0.571" stop-color="#0001ff"/><stop offset="0.794" stop-color="#0023ff"/><stop offset="0.889" stop-color="#0025ff"/><stop offset="0.952" stop-color="#001bff"/><stop offset="0.984" stop-color="#000085"/></linearGradient><linearGradient id="d32" gradientUnits="userSpaceOnUse" x1="527" x2="579.33" y1="0" y2="0" spreadMethod="reflect"><stop offset="0" stop-color="#0000c7"/><stop offset="0.462" stop-color="#0000fa"/><stop offset="0.585" stop-color="#000bff"/><stop offset="0.8" stop-color="#002bff"/><stop offset="0.892" stop-color="#002cff"/><stop offset="0.954" stop-color="#0020ff"/><stop offset="0.985" stop-color="#00008a"/></linearGradient><linearGradient id="d33" gradientUnits="userSpaceOnUse" x1="527" x2="580.93" y1="0" y2="0" spreadMethod="reflect"><stop offset="0" stop-color="#0000d2"/><stop offset="0.418" stop-color="#0002ff"/><stop offset="0.657" stop-color="#0022ff"/><stop offset="0.806" stop-color="#0034ff"/><stop offset="0.896" stop-color="#0034ff"/><stop offset="0.955" stop-color="#0027ff"/><stop offset="0.985" stop-color="#00008f"/></linearGradient><linearGradient id="d34" gradientUnits="userSpaceOnUse" x1="527" x2="582.54" y1="0" y2="0" spreadMethod="reflect"><stop offset="0" stop-color="#0000dd"/><stop offset="0.319" stop-color="#0002ff"/><stop offset="0.58" stop-color="#0020ff"/><stop offset="0.783" stop-color="#003dff"/><stop offset="0.899" stop-color="#003bff"/><stop offset="0.957" stop-color="#002eff"/><stop offset="0.986" stop-color="#000094"/></linearGradient><linearGradient id="d35" gradientUnits="userSpaceOnUse" x1="527" x2="584.15" y1="0" y2="0" spreadMethod="reflect"><stop offset="0" stop-color="#0000e7"/><stop offset="0.254" stop-color="#0003ff"/><stop offset="0.592" stop-color="#002cff"/><stop offset="0.789" stop-color="#0048ff"/><stop offset="0.901" stop-color="#0043ff"/><stop offset="0.958" stop-color="#0035ff"/><stop offset="0.986" stop-color="#000099"/></linearGradient><linearGradient id="d36" gradientUnits="userSpaceOnUse" x1="527" x2="585.76" y1="0" y2="0" spreadMethod="reflect"><stop offset="0" stop-color="#0000f2"/><stop offset="0.192" stop-color="#0005ff"/><stop offset="0.603" stop-color="#0039ff"/><stop offset="0.795" stop-color="#0051ff"/><stop offset="0.904" stop-color="#004bff"/><stop offset="0.959" stop-color="#003cff"/><stop offset="0.986" stop-color="#00009e"/></linearGradient><linearGradient id="d37" gradientUnits="userSpaceOnUse" x1="527" x2="587.38" y1="0" y2="0" spreadMethod="reflect"><stop offset="0" stop-color="#0000fc"/><stop offset="0.32" stop-color="#001eff"/><stop offset="0.613" stop-color="#0046ff"/><stop offset="0.773" stop-color="#005aff"/><stop offset="0.88" stop-color="#0058ff"/><stop offset="0.96" stop-color="#0043ff"/><stop offset="0.987" stop-color="#0000a3"/></linearGradient><linearGradient id="d38" gradientUnits="userSpaceOnUse" x1="527" x2="588.99" y1="0" y2="0" spreadMethod="reflect"><stop offset="0" stop-color="#0008ff"/><stop offset="0.338" stop-color="#002bff"/><stop offset="0.597" stop-color="#004eff"/><stop offset="0.779" stop-color="#0064ff"/><stop offset="0.883" stop-color="#0061ff"/><stop offset="0.961" stop-color="#0049ff"/><stop offset="0.987" stop-color="#0000a8"/></linearGradient><linearGradient id="d39" gradientUnits="userSpaceOnUse" x1="527" x2="590.6" y1="0" y2="0" spreadMethod="reflect"><stop offset="0" stop-color="#0014ff"/><stop offset="0.304" stop-color="#0031ff"/><stop offset="0.734" stop-color="#006cff"/><stop offset="0.886" stop-color="#006cff"/><stop offset="0.962" stop-color="#0055ff"/><stop offset="0.987" stop-color="#0000ad"/></linearGradient><linearGradient id="d40" gradientUnits="userSpaceOnUse" x1="527" x2="592.21" y1="0" y2="0" spreadMethod="reflect"><stop offset="0" stop-color="#0020ff"/><stop offset="0.296" stop-color="#003bff"/><stop offset="0.741" stop-color="#0078ff"/><stop offset="0.864" stop-color="#0078ff"/><stop offset="0.938" stop-color="#0068ff"/><stop offset="0.963" stop-color="#0061ff"/><stop offset="0.988" stop-color="#0000b2"/></linearGradient><linearGradient id="d41" gradientUnits="userSpaceOnUse" x1="527" x2="593.82" y1="0" y2="0" spreadMethod="reflect"><stop offset="0" stop-color="#002cff"/><stop offset="0.265" stop-color="#0042ff"/><stop offset="0.747" stop-color="#0084ff"/><stop offset="0.892" stop-color="#0081ff"/><stop offset="0.964" stop-color="#006dff"/><stop offset="0.988" stop-color="#0000c1"/></linearGradient><linearGradient id="d42" gradientUnits="userSpaceOnUse" x1="527" x2="595.42" y1="0" y2="0" spreadMethod="reflect"><stop offset="0" stop-color="#0038ff"/><stop offset="0.259" stop-color="#004cff"/><stop offset="0.682" stop-color="#008bff"/><stop offset="0.824" stop-color="#0091ff"/><stop offset="0.918" stop-color="#0085ff"/><stop offset="0.965" stop-color="#0078ff"/><stop offset="0.988" stop-color="#0000cf"/></linearGradient><linearGradient id="d43" gradientUnits="userSpaceOnUse" x1="527" x2="597.03" y1="0" y2="0" spreadMethod="reflect"><stop offset="0" stop-color="#0044ff"/><stop offset="0.23" stop-color="#0053ff"/><stop offset="0.575" stop-color="#0087ff"/><stop offset="0.782" stop-color="#009dff"/><stop offset="0.897" stop-color="#0096ff"/><stop offset="0.966" stop-color="#0084ff"/><stop offset="0.989" stop-color="#0000dd"/></linearGradient><linearGradient id="d44" gradientUnits="userSpaceOnUse" x1="527" x2="598.64" y1="0" y2="0" spreadMethod="reflect"><stop offset="0" stop-color="#0050ff"/><stop offset="0.225" stop-color="#005dff"/><stop offset="0.539" stop-color="#008fff"/><stop offset="0.787" stop-color="#00a9ff"/><stop offset="0.899" stop-color="#00a1ff"/><stop offset="0.966" stop-color="#0090ff"/><stop offset="0.989" stop-color="#0000ec"/></linearGradient><linearGradient id="d45" gradientUnits="userSpaceOnUse" x1="527" x2="600.25" y1="0" y2="0" spreadMethod="reflect"><stop offset="0" stop-color="#005cff"/><stop offset="0.198" stop-color="#0064ff"/><stop offset="0.527" stop-color="#009aff"/><stop offset="0.791" stop-color="#00b4ff"/><stop offset="0.901" stop-color="#00acff"/><stop offset="0.967" stop-color="#009cff"/><stop offset="0.989" stop-color="#0000fa"/></linearGradient><linearGradient id="d46" gradientUnits="userSpaceOnUse" x1="527" x2="601.87" y1="0" y2="0" spreadMethod="reflect"><stop offset="0" stop-color="#0068ff"/><stop offset="0.215" stop-color="#0074ff"/><stop offset="0.538" stop-color="#00aaff"/><stop offset="0.774" stop-color="#00c2ff"/><stop offset="0.903" stop-color="#00baff"/><stop offset="0.968" stop-color="#00abff"/><stop offset="0.989" stop-color="#0003ff"/></linearGradient><linearGradient id="d47" gradientUnits="userSpaceOnUse" x1="527" x2="603.48" y1="0" y2="0" spreadMethod="reflect"><stop offset="0" stop-color="#0073ff"/><stop offset="0.211" stop-color="#0081ff"/><stop offset="0.547" stop-color="#00b9ff"/><stop offset="0.779" stop-color="#00d0ff"/><stop offset="0.905" stop-color="#00c8ff"/><stop offset="0.968" stop-color="#00baff"/><stop offset="0.989" stop-color="#000bff"/></linearGradient><linearGradient id="d48" gradientUnits="userSpaceOnUse" x1="527" x2="605.09" y1="0" y2="0" spreadMethod="reflect"><stop offset="0" stop-color="#007fff"/><stop offset="0.227" stop-color="#0091ff"/><stop offset="0.557" stop-color="#00c8ff"/><stop offset="0.784" stop-color="#00deff"/><stop offset="0.928" stop-color="#00d2ff"/><stop offset="0.969" stop-color="#00caff"/><stop offset="0.99" stop-color="#0013ff"/></linearGradient><linearGradient id="d49" gradientUnits="userSpaceOnUse" x1="527" x2="606.7" y1="0" y2="0" spreadMethod="reflect"><stop offset="0" stop-color="#008bff"/><stop offset="0.222" stop-color="#009eff"/><stop offset="0.545" stop-color="#00d5ff"/><stop offset="0.768" stop-color="#00ebff"/><stop offset="0.909" stop-color="#00e4ff"/><stop offset="0.97" stop-color="#00d9ff"/><stop offset="0.99" stop-color="#001cff"/></linearGradient><linearGradient id="d50" gradientUnits="userSpaceOnUse" x1="527" x2="608.31" y1="0" y2="0" spreadMethod="reflect"><stop offset="0" stop-color="#0097ff"/><stop offset="0.238" stop-color="#00aeff"/><stop offset="0.554" stop-color="#00e4ff"/><stop offset="0.772" stop-color="#00faff"/><stop offset="0.931" stop-color="#00efff"/><stop offset="0.97" stop-color="#00e8ff"/><stop offset="0.99" stop-color="#0024ff"/></linearGradient><linearGradient id="d51" gradientUnits="userSpaceOnUse" x1="527" x2="609.91" y1="0" y2="0" spreadMethod="reflect"><stop offset="0" stop-color="#00a3ff"/><stop offset="0.252" stop-color="#00bfff"/><stop offset="0.583" stop-color="#00f6ff"/><stop offset="0.718" stop-color="#06fff9"/><stop offset="0.874" stop-color="#05fffa"/><stop offset="0.971" stop-color="#00f8ff"/><stop offset="0.99" stop-color="#002cff"/></linearGradient><linearGradient id="d52" gradientUnits="userSpaceOnUse" x1="527" x2="611.52" y1="0" y2="0" spreadMethod="reflect"><stop offset="0" stop-color="#00b0ff"/><stop offset="0.229" stop-color="#00c7ff"/><stop offset="0.552" stop-color="#00ffff"/><stop offset="0.762" stop-color="#15ffea"/><stop offset="0.914" stop-color="#0dfff2"/><stop offset="0.971" stop-color="#03fffc"/><stop offset="0.99" stop-color="#0034ff"/></linearGradient><linearGradient id="d53" gradientUnits="userSpaceOnUse" x1="527" x2="613.13" y1="0" y2="0" spreadMethod="reflect"><stop offset="0" stop-color="#00bdff"/><stop offset="0.224" stop-color="#00d3ff"/><stop offset="0.486" stop-color="#02fffd"/><stop offset="0.729" stop-color="#21ffde"/><stop offset="0.879" stop-color="#1fffe0"/><stop offset="0.972" stop-color="#0dfff2"/><stop offset="0.991" stop-color="#003cff"/></linearGradient><linearGradient id="d54" gradientUnits="userSpaceOnUse" x1="527" x2="614.75" y1="0" y2="0" spreadMethod="reflect"><stop offset="0" stop-color="#00caff"/><stop offset="0.202" stop-color="#00dbff"/><stop offset="0.422" stop-color="#04fffb"/><stop offset="0.734" stop-color="#2effd1"/><stop offset="0.881" stop-color="#2cffd3"/><stop offset="0.972" stop-color="#17ffe8"/><stop offset="0.991" stop-color="#0044ff"/></linearGradient><linearGradient id="d55" gradientUnits="userSpaceOnUse" x1="527" x2="616.36" y1="0" y2="0" spreadMethod="reflect"><stop offset="0" stop-color="#00d7ff"/><stop offset="0.198" stop-color="#00e7ff"/><stop offset="0.342" stop-color="#02fffd"/><stop offset="0.721" stop-color="#3affc5"/><stop offset="0.865" stop-color="#3affc5"/><stop offset="0.955" stop-color="#27ffd8"/><stop offset="0.973" stop-color="#22ffdd"/><stop offset="0.991" stop-color="#004dff"/></linearGradient><linearGradient id="d56" gradientUnits="userSpaceOnUse" x1="527" x2="617.97" y1="0" y2="0" spreadMethod="reflect"><stop offset="0" stop-color="#00e4ff"/><stop offset="0.177" stop-color="#00f1ff"/><stop offset="0.283" stop-color="#04fffb"/><stop offset="0.726" stop-color="#48ffb7"/><stop offset="0.885" stop-color="#46ffb9"/><stop offset="0.973" stop-color="#2cffd3"/><stop offset="0.991" stop-color="#0058ff"/></linearGradient><linearGradient id="d57" gradientUnits="userSpaceOnUse" x1="527" x2="619.58" y1="0" y2="0" spreadMethod="reflect"><stop offset="0" stop-color="#00f1ff"/><stop offset="0.174" stop-color="#00fdff"/><stop offset="0.73" stop-color="#55ffaa"/><stop offset="0.887" stop-color="#53ffac"/><stop offset="0.974" stop-color="#36ffc9"/><stop offset="0.991" stop-color="#0064ff"/></linearGradient><linearGradient id="d58" gradientUnits="userSpaceOnUse" x1="527" x2="621.18" y1="0" y2="0" spreadMethod="reflect"><stop offset="0" stop-color="#01fffe"/><stop offset="0.274" stop-color="#23ffdc"/><stop offset="0.701" stop-color="#65ff9a"/><stop offset="0.838" stop-color="#65ff9a"/><stop offset="0.906" stop-color="#5cffa3"/><stop offset="0.974" stop-color="#44ffbb"/><stop offset="0.991" stop-color="#006fff"/></linearGradient><linearGradient id="d59" gradientUnits="userSpaceOnUse" x1="527" x2="622.79" y1="0" y2="0" spreadMethod="reflect"><stop offset="0" stop-color="#10ffef"/><stop offset="0.454" stop-color="#52ffad"/><stop offset="0.655" stop-color="#72ff8d"/><stop offset="0.824" stop-color="#77ff88"/><stop offset="0.908" stop-color="#6aff95"/><stop offset="0.975" stop-color="#52ffad"/><stop offset="0.992" stop-color="#007bff"/></linearGradient><linearGradient id="d60" gradientUnits="userSpaceOnUse" x1="527" x2="624.4" y1="0" y2="0" spreadMethod="reflect"><stop offset="0" stop-color="#1fffe0"/><stop offset="0.248" stop-color="#49ffb6"/><stop offset="0.43" stop-color="#5fffa0"/><stop offset="0.612" stop-color="#82ff7d"/><stop offset="0.81" stop-color="#89ff76"/><stop offset="0.909" stop-color="#79ff86"/><stop offset="0.975" stop-color="#60ff9f"/><stop offset="0.992" stop-color="#0087ff"/></linearGradient><linearGradient id="d61" gradientUnits="userSpaceOnUse" x1="527" x2="626.01" y1="0" y2="0" spreadMethod="reflect"><stop offset="0" stop-color="#2bffd4"/><stop offset="0.244" stop-color="#55ffaa"/><stop offset="0.423" stop-color="#6bff94"/><stop offset="0.618" stop-color="#8fff70"/><stop offset="0.813" stop-color="#93ff6c"/><stop offset="0.911" stop-color="#82ff7d"/><stop offset="0.976" stop-color="#6aff95"/><stop offset="0.992" stop-color="#0092ff"/></linearGradient><linearGradient id="d62" gradientUnits="userSpaceOnUse" x1="527" x2="627.62" y1="0" y2="0" spreadMethod="reflect"><stop offset="0" stop-color="#38ffc7"/><stop offset="0.256" stop-color="#63ff9c"/><stop offset="0.448" stop-color="#7dff82"/><stop offset="0.624" stop-color="#9bff64"/><stop offset="0.816" stop-color="#9dff62"/><stop offset="0.912" stop-color="#8bff74"/><stop offset="0.976" stop-color="#74ff8b"/><stop offset="0.992" stop-color="#009eff"/></linearGradient><linearGradient id="d63" gradientUnits="userSpaceOnUse" x1="527" x2="629.24" y1="0" y2="0" spreadMethod="reflect"><stop offset="0" stop-color="#44ffbb"/><stop offset="0.268" stop-color="#71ff8e"/><stop offset="0.457" stop-color="#8cff73"/><stop offset="0.63" stop-color="#a7ff58"/><stop offset="0.803" stop-color="#aaff55"/><stop offset="0.913" stop-color="#94ff6b"/><stop offset="0.976" stop-color="#7dff82"/><stop offset="0.992" stop-color="#00a7ff"/></linearGradient><linearGradient id="d64" gradientUnits="userSpaceOnUse" x1="527" x2="630.85" y1="0" y2="0" spreadMethod="reflect"><stop offset="0" stop-color="#50ffaf"/><stop offset="0.279" stop-color="#7fff80"/><stop offset="0.527" stop-color="#a6ff59"/><stop offset="0.698" stop-color="#b7ff48"/><stop offset="0.822" stop-color="#b1ff4e"/><stop offset="0.915" stop-color="#9dff62"/><stop offset="0.977" stop-color="#87ff78"/><stop offset="0.992" stop-color="#00b0ff"/></linearGradient><linearGradient id="d65" gradientUnits="userSpaceOnUse" x1="527" x2="632.46" y1="0" y2="0" spreadMethod="reflect"><stop offset="0" stop-color="#5cffa3"/><stop offset="0.29" stop-color="#8dff72"/><stop offset="0.641" stop-color="#c0ff3f"/><stop offset="0.809" stop-color="#beff41"/><stop offset="0.916" stop-color="#a7ff58"/><stop offset="0.977" stop-color="#91ff6e"/><stop offset="0.992" stop-color="#00b9ff"/></linearGradient><linearGradient id="d66" gradientUnits="userSpaceOnUse" x1="527" x2="634.07" y1="0" y2="0" spreadMethod="reflect"><stop offset="0" stop-color="#6dff92"/><stop offset="0.617" stop-color="#ccff33"/><stop offset="0.797" stop-color="#ceff31"/><stop offset="0.917" stop-color="#b5ff4a"/><stop offset="0.977" stop-color="#a0ff5f"/><stop offset="0.992" stop-color="#00c2ff"/></linearGradient><linearGradient id="d67" gradientUnits="userSpaceOnUse" x1="527" x2="635.67" y1="0" y2="0" spreadMethod="reflect"><stop offset="0" stop-color="#7eff81"/><stop offset="0.637" stop-color="#dbff24"/><stop offset="0.815" stop-color="#d9ff26"/><stop offset="0.919" stop-color="#c4ff3b"/><stop offset="0.978" stop-color="#afff50"/><stop offset="0.993" stop-color="#00cbff"/></linearGradient><linearGradient id="d68" gradientUnits="userSpaceOnUse" x1="527" x2="637.28" y1="0" y2="0" spreadMethod="reflect"><stop offset="0" stop-color="#8fff70"/><stop offset="0.628" stop-color="#e8ff17"/><stop offset="0.818" stop-color="#e6ff19"/><stop offset="0.92" stop-color="#d2ff2d"/><stop offset="0.978" stop-color="#beff41"/><stop offset="0.993" stop-color="#00d4ff"/></linearGradient><linearGradient id="d69" gradientUnits="userSpaceOnUse" x1="527" x2="638.89" y1="0" y2="0" spreadMethod="reflect"><stop offset="0" stop-color="#a1ff5e"/><stop offset="0.633" stop-color="#f6ff09"/><stop offset="0.82" stop-color="#f3ff0c"/><stop offset="0.921" stop-color="#e0ff1f"/><stop offset="0.978" stop-color="#cdff32"/><stop offset="0.993" stop-color="#00ddff"/></linearGradient><linearGradient id="d70" gradientUnits="userSpaceOnUse" x1="527" x2="640.5" y1="0" y2="0" spreadMethod="reflect"><stop offset="0" stop-color="#afff50"/><stop offset="0.624" stop-color="#fdff02"/><stop offset="0.837" stop-color="#fbff04"/><stop offset="0.936" stop-color="#eaff15"/><stop offset="0.979" stop-color="#dfff20"/><stop offset="0.993" stop-color="#00e5ff"/></linearGradient><linearGradient id="d71" gradientUnits="userSpaceOnUse" x1="527" x2="642.12" y1="0" y2="0" spreadMethod="reflect"><stop offset="0" stop-color="#bdff42"/><stop offset="0.238" stop-color="#d7ff28"/><stop offset="0.559" stop-color="#fffd00"/><stop offset="0.811" stop-color="#fff600"/><stop offset="0.923" stop-color="#fbff04"/><stop offset="0.979" stop-color="#f1ff0e"/><stop offset="0.993" stop-color="#00f5ff"/></linearGradient><linearGradient id="d72" gradientUnits="userSpaceOnUse" x1="527" x2="643.73" y1="0" y2="0" spreadMethod="reflect"><stop offset="0" stop-color="#cbff34"/><stop offset="0.179" stop-color="#d9ff26"/><stop offset="0.483" stop-color="#fffc00"/><stop offset="0.786" stop-color="#ffec00"/><stop offset="0.979" stop-color="#fffb00"/><stop offset="0.993" stop-color="#05fffa"/></linearGradient><linearGradient id="d73" gradientUnits="userSpaceOnUse" x1="527" x2="645.34" y1="0" y2="0" spreadMethod="reflect"><stop offset="0" stop-color="#d9ff26"/><stop offset="0.163" stop-color="#e2ff1d"/><stop offset="0.422" stop-color="#fffb00"/><stop offset="0.599" stop-color="#ffea00"/><stop offset="0.844" stop-color="#ffe500"/><stop offset="0.98" stop-color="#ffe800"/><stop offset="0.993" stop-color="#14ffeb"/></linearGradient><linearGradient id="d74" gradientUnits="userSpaceOnUse" x1="527" x2="646.95" y1="0" y2="0" spreadMethod="reflect"><stop offset="0" stop-color="#e7ff18"/><stop offset="0.148" stop-color="#ebff14"/><stop offset="0.322" stop-color="#fffc00"/><stop offset="0.564" stop-color="#ffe300"/><stop offset="0.859" stop-color="#ffdb00"/><stop offset="0.98" stop-color="#ffd600"/><stop offset="0.993" stop-color="#24ffdb"/></linearGradient><linearGradient id="d75" gradientUnits="userSpaceOnUse" x1="527" x2="648.56" y1="0" y2="0" spreadMethod="reflect"><stop offset="0" stop-color="#f4ff0b"/><stop offset="0.225" stop-color="#fffa00"/><stop offset="0.57" stop-color="#ffd700"/><stop offset="0.98" stop-color="#ffc500"/><stop offset="0.993" stop-color="#33ffcc"/></linearGradient><linearGradient id="d76" gradientUnits="userSpaceOnUse" x1="527" x2="650.16" y1="0" y2="0" spreadMethod="reflect"><stop offset="0" stop-color="#fffd00"/><stop offset="0.444" stop-color="#ffd500"/><stop offset="0.967" stop-color="#ffb500"/><stop offset="0.98" stop-color="#ffb300"/><stop offset="0.993" stop-color="#42ffbd"/></linearGradient><linearGradient id="d77" gradientUnits="userSpaceOnUse" x1="527" x2="651.77" y1="0" y2="0" spreadMethod="reflect"><stop offset="0" stop-color="#fff000"/><stop offset="0.206" stop-color="#ffdc00"/><stop offset="0.348" stop-color="#ffd300"/><stop offset="0.671" stop-color="#ffba00"/><stop offset="0.852" stop-color="#ffb100"/><stop offset="0.981" stop-color="#ffa200"/><stop offset="0.994" stop-color="#52ffad"/></linearGradient><linearGradient id="d78" gradientUnits="userSpaceOnUse" x1="527" x2="653.38" y1="0" y2="0" spreadMethod="reflect"><stop offset="0" stop-color="#ffe500"/><stop offset="0.153" stop-color="#ffd000"/><stop offset="0.331" stop-color="#ffc800"/><stop offset="0.548" stop-color="#ffb300"/><stop offset="0.841" stop-color="#ffa400"/><stop offset="0.981" stop-color="#ff9100"/><stop offset="0.994" stop-color="#61ff9e"/></linearGradient><linearGradient id="d79" gradientUnits="userSpaceOnUse" x1="527" x2="655" y1="0" y2="0" spreadMethod="reflect"><stop offset="0" stop-color="#ffd900"/><stop offset="0.126" stop-color="#ffc300"/><stop offset="0.327" stop-color="#ffbc00"/><stop offset="0.491" stop-color="#ffa800"/><stop offset="0.755" stop-color="#ff9c00"/><stop offset="0.868" stop-color="#ff9200"/><stop offset="0.981" stop-color="#ff8100"/><stop offset="0.994" stop-color="#70ff8f"/></linearGradient><linearGradient id="d80" gradientUnits="userSpaceOnUse" x1="527" x2="656.61" y1="0" y2="0" spreadMethod="reflect"><stop offset="0" stop-color="#ffce00"/><stop offset="0.124" stop-color="#ffb500"/><stop offset="0.311" stop-color="#ffb200"/><stop offset="0.447" stop-color="#ff9d00"/><stop offset="0.745" stop-color="#ff8e00"/><stop offset="0.832" stop-color="#ff8900"/><stop offset="0.981" stop-color="#ff7100"/><stop offset="0.994" stop-color="#80ff80"/></linearGradient><linearGradient id="d81" gradientUnits="userSpaceOnUse" x1="527" x2="658.22" y1="0" y2="0" spreadMethod="reflect"><stop offset="0" stop-color="#ffc200"/><stop offset="0.11" stop-color="#ffa700"/><stop offset="0.27" stop-color="#ffa600"/><stop offset="0.331" stop-color="#ffa100"/><stop offset="0.442" stop-color="#ff8f00"/><stop offset="0.736" stop-color="#ff7f00"/><stop offset="0.822" stop-color="#ff7d00"/><stop offset="0.982" stop-color="#ff6000"/><stop offset="0.994" stop-color="#89ff76"/></linearGradient><linearGradient id="d82" gradientUnits="userSpaceOnUse" x1="527" x2="659.83" y1="0" y2="0" spreadMethod="reflect"><stop offset="0" stop-color="#ffb700"/><stop offset="0.109" stop-color="#ff9800"/><stop offset="0.255" stop-color="#ff9800"/><stop offset="0.315" stop-color="#ff9800"/><stop offset="0.424" stop-color="#ff8200"/><stop offset="0.727" stop-color="#ff7000"/><stop offset="0.812" stop-color="#ff7100"/><stop offset="0.982" stop-color="#ff5000"/><stop offset="0.994" stop-color="#92ff6d"/></linearGradient><linearGradient id="d83" gradientUnits="userSpaceOnUse" x1="527" x2="661.43" y1="0" y2="0" spreadMethod="reflect"><stop offset="0" stop-color="#ffa600"/><stop offset="0.12" stop-color="#ff8a00"/><stop offset="0.275" stop-color="#ff8900"/><stop offset="0.335" stop-color="#ff8300"/><stop offset="0.455" stop-color="#ff7100"/><stop offset="0.731" stop-color="#ff6200"/><stop offset="0.814" stop-color="#ff6200"/><stop offset="0.982" stop-color="#ff4400"/><stop offset="0.994" stop-color="#9bff64"/></linearGradient><linearGradient id="d84" gradientUnits="userSpaceOnUse" x1="527" x2="663.05" y1="0" y2="0" spreadMethod="reflect"><stop offset="0" stop-color="#ff9500"/><stop offset="0.13" stop-color="#ff7c00"/><stop offset="0.32" stop-color="#ff7600"/><stop offset="0.485" stop-color="#ff5f00"/><stop offset="0.722" stop-color="#ff5200"/><stop offset="0.817" stop-color="#ff5400"/><stop offset="0.982" stop-color="#ff3900"/><stop offset="0.994" stop-color="#a4ff5b"/></linearGradient><linearGradient id="d85" gradientUnits="userSpaceOnUse" x1="527" x2="664.65" y1="0" y2="0" spreadMethod="reflect"><stop offset="0" stop-color="#ff8500"/><stop offset="0.152" stop-color="#ff6d00"/><stop offset="0.327" stop-color="#ff6400"/><stop offset="0.538" stop-color="#ff4c00"/><stop offset="0.725" stop-color="#ff4400"/><stop offset="0.819" stop-color="#ff4600"/><stop offset="0.982" stop-color="#ff2d00"/><stop offset="0.994" stop-color="#adff52"/></linearGradient><linearGradient id="d86" gradientUnits="userSpaceOnUse" x1="527" x2="666.26" y1="0" y2="0" spreadMethod="reflect"><stop offset="0" stop-color="#ff7400"/><stop offset="0.208" stop-color="#ff5a00"/><stop offset="0.347" stop-color="#ff5100"/><stop offset="0.578" stop-color="#ff3a00"/><stop offset="0.728" stop-color="#ff3500"/><stop offset="0.832" stop-color="#ff3700"/><stop offset="0.983" stop-color="#ff2200"/><stop offset="0.994" stop-color="#b6ff49"/></linearGradient><linearGradient id="d87" gradientUnits="userSpaceOnUse" x1="527" x2="667.88" y1="0" y2="0" spreadMethod="reflect"><stop offset="0" stop-color="#ff6300"/><stop offset="0.274" stop-color="#ff4800"/><stop offset="0.56" stop-color="#ff2c00"/><stop offset="0.72" stop-color="#ff2600"/><stop offset="0.834" stop-color="#ff2a00"/><stop offset="0.983" stop-color="#ff1600"/><stop offset="0.994" stop-color="#bfff40"/></linearGradient><linearGradient id="d88" gradientUnits="userSpaceOnUse" x1="527" x2="669.49" y1="0" y2="0" spreadMethod="reflect"><stop offset="0" stop-color="#ff5200"/><stop offset="0.554" stop-color="#ff1d00"/><stop offset="0.723" stop-color="#ff1700"/><stop offset="0.847" stop-color="#ff1c00"/><stop offset="0.983" stop-color="#ff0b00"/><stop offset="0.994" stop-color="#c8ff37"/></linearGradient><linearGradient id="d89" gradientUnits="userSpaceOnUse" x1="527" x2="671.1" y1="0" y2="0" spreadMethod="reflect"><stop offset="0" stop-color="#ff4100"/><stop offset="0.179" stop-color="#ff3200"/><stop offset="0.547" stop-color="#ff0e00"/><stop offset="0.726" stop-color="#ff0900"/><stop offset="0.86" stop-color="#ff0e00"/><stop offset="0.983" stop-color="#fe0000"/><stop offset="0.994" stop-color="#d1ff2e"/></linearGradient><linearGradient id="d90" gradientUnits="userSpaceOnUse" x1="527" x2="672.71" y1="0" y2="0" spreadMethod="reflect"><stop offset="0" stop-color="#ff3100"/><stop offset="0.133" stop-color="#ff2a00"/><stop offset="0.376" stop-color="#ff0f00"/><stop offset="0.53" stop-color="#fe0000"/><stop offset="0.718" stop-color="#f80000"/><stop offset="0.862" stop-color="#ff0200"/><stop offset="0.961" stop-color="#f60000"/><stop offset="0.983" stop-color="#f30000"/><stop offset="0.994" stop-color="#d1ff2e"/></linearGradient><linearGradient id="cba" x1="0" x2="1" y1="0" y2="0"><stop offset="0" stop-color="#000080"/><stop offset="0.03" stop-color="#00009f"/><stop offset="0.06" stop-color="#0000bf"/><stop offset="0.09" stop-color="#0000df"/><stop offset="0.12" stop-color="#0000ff"/><stop offset="0.16" stop-color="#0020ff"/><stop offset="0.19" stop-color="#0040ff"/><stop offset="0.22" stop-color="#0060ff"/><stop offset="0.25" stop-color="#0080ff"/><stop offset="0.28" stop-color="#009fff"/><stop offset="0.31" stop-color="#00bfff"/><stop offset="0.34" stop-color="#00dfff"/><stop offset="0.38" stop-color="#00ffff"/><stop offset="0.41" stop-color="#20ffdf"/><stop offset="0.44" stop-color="#40ffbf"/><stop offset="0.47" stop-color="#60ff9f"/><stop offset="0.5" stop-color="#80ff80"/><stop offset="0.53" stop-color="#9fff60"/><stop offset="0.56" stop-color="#bfff40"/><stop offset="0.59" stop-color="#dfff20"/><stop offset="0.62" stop-color="#ffff00"/><stop offset="0.66" stop-color="#ffdf00"/><stop offset="0.69" stop-color="#ffbf00"/><stop offset="0.72" stop-color="#ff9f00"/><stop offset="0.75" stop-color="#ff8000"/><stop offset="0.78" stop-color="#ff6000"/><stop offset="0.81" stop-color="#ff4000"/><stop offset="0.84" stop-color="#ff2000"/><stop offset="0.88" stop-color="#ff0000"/><stop offset="0.91" stop-color="#df0000"/><stop offset="0.94" stop-color="#bf0000"/><stop offset="0.97" stop-color="#9f0000"/><stop offset="1" stop-color="#800000"/></linearGradient><linearGradient id="cbb" x1="0" x2="1" y1="0" y2="0"><stop offset="0" stop-color="#000080"/><stop offset="0.03" stop-color="#00009f"/><stop offset="0.06" stop-color="#0000bf"/><stop offset="0.09" stop-color="#0000df"/><stop offset="0.12" stop-color="#0000ff"/><stop offset="0.16" stop-color="#0020ff"/><stop offset="0.19" stop-color="#0040ff"/><stop offset="0.22" stop-color="#0060ff"/><stop offset="0.25" stop-color="#0080ff"/><stop offset="0.28" stop-color="#009fff"/><stop offset="0.31" stop-color="#00bfff"/><stop offset="0.34" stop-color="#00dfff"/><stop offset="0.38" stop-color="#00ffff"/><stop offset="0.41" stop-color="#20ffdf"/><stop offset="0.44" stop-color="#40ffbf"/><stop offset="0.47" stop-color="#60ff9f"/><stop offset="0.5" stop-color="#80ff80"/><stop offset="0.53" stop-color="#9fff60"/><stop offset="0.56" stop-color="#bfff40"/><stop offset="0.59" stop-color="#dfff20"/><stop offset="0.62" stop-color="#ffff00"/><stop offset="0.66" stop-color="#ffdf00"/><stop offset="0.69" stop-color="#ffbf00"/><stop offset="0.72" stop-color="#ff9f00"/><stop offset="0.75" stop-color="#ff8000"/><stop offset="0.78" stop-color="#ff6000"/><stop offset="0.81" stop-color="#ff4000"/><stop offset="0.84" stop-color="#ff2000"/><stop offset="0.88" stop-color="#ff0000"/><stop offset="0.91" stop-color="#df0000"/><stop offset="0.94" stop-color="#bf0000"/><stop offset="0.97" stop-color="#9f0000"/><stop offset="1" stop-color="#800000"/></linearGradient><linearGradient id="cbc" x1="0" x2="1" y1="0" y2="0"><stop offset="0" stop-color="#000080"/><stop offset="0.03" stop-color="#00009f"/><stop offset="0.06" stop-color="#0000bf"/><stop offset="0.09" stop-color="#0000df"/><stop offset="0.12" stop-color="#0000ff"/><stop offset="0.16" stop-color="#0020ff"/><stop offset="0.19" stop-color="#0040ff"/><stop offset="0.22" stop-color="#0060ff"/><stop offset="0.25" stop-color="#0080ff"/><stop offset="0.28" stop-color="#009fff"/><stop offset="0.31" stop-color="#00bfff"/><stop offset="0.34" stop-color="#00dfff"/><stop offset="0.38" stop-color="#00ffff"/><stop offset="0.41" stop-color="#20ffdf"/><stop offset="0.44" stop-color="#40ffbf"/><stop offset="0.47" stop-color="#60ff9f"/><stop offset="0.5" stop-color="#80ff80"/><stop offset="0.53" stop-color="#9fff60"/><stop offset="0.56" stop-color="#bfff40"/><stop offset="0.59" stop-color="#dfff20"/><stop offset="0.62" stop-color="#ffff00"/><stop offset="0.66" stop-color="#ffdf00"/><stop offset="0.69" stop-color="#ffbf00"/><stop offset="0.72" stop-color="#ff9f00"/><stop offset="0.75" stop-color="#ff8000"/><stop offset="0.78" stop-color="#ff6000"/><stop offset="0.81" stop-color="#ff4000"/><stop offset="0.84" stop-color="#ff2000"/><stop offset="0.88" stop-color="#ff0000"/><stop offset="0.91" stop-color="#df0000"/><stop offset="0.94" stop-color="#bf0000"/><stop offset="0.97" stop-color="#9f0000"/><stop offset="1" stop-color="#800000"/></linearGradient><linearGradient id="cbd" x1="0" x2="1" y1="0" y2="0"><stop offset="0" stop-color="#000080"/><stop offset="0.03" stop-color="#00009f"/><stop offset="0.06" stop-color="#0000bf"/><stop offset="0.09" stop-color="#0000df"/><stop offset="0.12" stop-color="#0000ff"/><stop offset="0.16" stop-color="#0020ff"/><stop offset="0.19" stop-color="#0040ff"/><stop offset="0.22" stop-color="#0060ff"/><stop offset="0.25" stop-color="#0080ff"/><stop offset="0.28" stop-color="#009fff"/><stop offset="0.31" stop-color="#00bfff"/><stop offset="0.34" stop-color="#00dfff"/><stop offset="0.38" stop-color="#00ffff"/><stop offset="0.41" stop-color="#20ffdf"/><stop offset="0.44" stop-color="#40ffbf"/><stop offset="0.47" stop-color="#60ff9f"/><stop offset="0.5" stop-color="#80ff80"/><stop offset="0.53" stop-color="#9fff60"/><stop offset="0.56" stop-color="#bfff40"/><stop offset="0.59" stop-color="#dfff20"/><stop offset="0.62" stop-color="#ffff00"/><stop offset="0.66" stop-color="#ffdf00"/><stop offset="0.69" stop-color="#ffbf00"/><stop offset="0.72" stop-color="#ff9f00"/><stop offset="0.75" stop-color="#ff8000"/><stop offset="0.78" stop-color="#ff6000"/><stop offset="0.81" stop-color="#ff4000"/><stop offset="0.84" stop-color="#ff2000"/><stop offset="0.88" stop-color="#ff0000"/><stop offset="0.91" stop-color="#df0000"/><stop offset="0.94" stop-color="#bf0000"/><stop offset="0.97" stop-color="#9f0000"/><stop offset="1" stop-color="#800000"/></linearGradient></defs><rect x="181.54" y="7.2" width="1.61" height="2.51" fill="#800000"/>
<rect x="179.94" y="8.8" width="4.83" height="2.51" fill="#800000"/>
<rect x="178.32" y="10.41" width="8.05" height="2.51" fill="url(#a2)"/>
<rect x="176.72" y="12.01" width="11.27" height="2.51" fill="url(#a3)"/>
<rect x="175.1" y="13.62" width="14.49" height="2.51" fill="url(#a4)"/>
<rect x="173.5" y="15.22" width="17.71" height="2.51" fill="url(#a5)"/>
<rect x="171.88" y="16.83" width="20.93" height="2.51" fill="url(#a6)"/>
<rect x="170.28" y="18.44" width="24.15" height="2.51" fill="url(#a7)"/>
<rect x="168.66" y="20.04" width="27.37" height="2.51" fill="url(#a8)"/>
<rect x="167.06" y="21.65" width="30.59" height="2.51" fill="url(#a9)"/>
<rect x="165.44" y="23.25" width="33.81" height="2.51" fill="url(#a10)"/>
<rect x="163.83" y="24.86" width="37.03" height="2.51" fill="url(#a11)"/>
<rect x="162.22" y="26.46" width="40.25" height="2.51" fill="url(#a12)"/>
<rect x="160.61" y="28.07" width="43.47" height="2.51" fill="url(#a13)"/>
<rect x="159" y="29.67" width="46.69" height="2.51" fill="url(#a14)"/>
<rect x="157.39" y="31.28" width="49.91" height="2.51" fill="url(#a15)"/>
<rect x="155.78" y="32.89" width="53.13" height="2.51" fill="url(#a16)"/>
<rect x="154.17" y="34.49" width="56.35" height="2.51" fill="url(#a17)"/>
<rect x="152.56" y="36.1" width="59.57" height="2.51" fill="url(#a18)"/>
<rect x="150.95" y="37.7" width="62.79" height="2.51" fill="url(#a19)"/>
<rect x="149.34" y="39.31" width="66.01" height="2.51" fill="url(#a20)"/>
<rect x="147.73" y="40.91" width="69.23" height="2.51" fill="url(#a21)"/>
<rect x="146.12" y="42.52" width="72.45" height="2.51" fill="url(#a22)"/>
<rect x="144.51" y="44.12" width="75.67" height="2.51" fill="url(#a23)"/>
<rect x="142.91" y="45.73" width="78.89" height="2.51" fill="url(#a24)"/>
<rect x="141.29" y="47.33" width="82.11" height="2.51" fill="url(#a25)"/>
<rect x="139.69" y="48.94" width="85.33" height="2.51" fill="url(#a26)"/>
<rect x="138.07" y="50.55" width="88.55" height="2.51" fill="url(#a27)"/>
<rect x="136.46" y="52.15" width="91.77" height="2.51" fill="url(#a28)"/>
<rect x="134.85" y="53.76" width="94.99" height="2.51" fill="url(#a29)"/>
<rect x="133.25" y="55.36" width="98.21" height="2.51" fill="url(#a30)"/>
<rect x="131.63" y="56.97" width="101.43" height="2.51" fill="url(#a31)"/>
<rect x="130.02" y="58.57" width="104.65" height="2.51" fill="url(#a32)"/>
<rect x="128.41" y="60.18" width="107.87" height="2.51" fill="url(#a33)"/>
<rect x="126.8" y="61.78" width="111.09" height="2.51" fill="url(#a34)"/>
<rect x="125.19" y="63.39" width="114.31" height="2.51" fill="url(#a35)"/>
<rect x="123.58" y="65" width="117.53" height="2.51" fill="url(#a36)"/>
<rect x="121.97" y="66.6" width="120.75" height="2.51" fill="url(#a37)"/>
<rect x="120.36" y="68.21" width="123.97" height="2.51" fill="url(#a38)"/>
<rect x="118.75" y="69.81" width="127.19" height="2.51" fill="url(#a39)"/>
<rect x="117.14" y="71.42" width="130.41" height="2.51" fill="url(#a40)"/>
<rect x="115.53" y="73.02" width="133.63" height="2.51" fill="url(#a41)"/>
<rect x="113.92" y="74.63" width="136.85" height="2.51" fill="url(#a42)"/>
<rect x="112.31" y="76.23" width="140.07" height="2.51" fill="url(#a43)"/>
<rect x="110.7" y="77.84" width="143.29" height="2.51" fill="url(#a44)"/>
<rect x="109.09" y="79.44" width="146.51" height="2.51" fill="url(#a45)"/>
<rect x="107.48" y="81.05" width="149.73" height="2.51" fill="url(#a46)"/>
<rect x="105.87" y="82.66" width="152.95" height="2.51" fill="url(#a47)"/>
<rect x="104.26" y="84.26" width="156.17" height="2.51" fill="url(#a48)"/>
<rect x="102.65" y="85.87" width="159.39" height="2.51" fill="url(#a49)"/>
<rect x="101.04" y="87.47" width="162.61" height="2.51" fill="url(#a50)"/>
<rect x="99.43" y="89.08" width="165.83" height="2.51" fill="url(#a51)"/>
<rect x="97.82" y="90.68" width="169.05" height="2.51" fill="url(#a52)"/>
<rect x="96.21" y="92.29" width="172.27" height="2.51" fill="url(#a53)"/>
<rect x="94.6" y="93.89" width="175.49" height="2.51" fill="url(#a54)"/>
<rect x="92.99" y="95.5" width="178.71" height="2.51" fill="url(#a55)"/>
<rect x="91.38" y="97.11" width="181.93" height="2.51" fill="url(#a56)"/>
<rect x="89.77" y="98.71" width="185.15" height="2.51" fill="url(#a57)"/>
<rect x="88.16" y="100.32" width="188.37" height="2.51" fill="url(#a58)"/>
<rect x="86.55" y="101.92" width="191.59" height="2.51" fill="url(#a59)"/>
<rect x="84.94" y="103.53" width="194.81" height="2.51" fill="url(#a60)"/>
<rect x="83.33" y="105.13" width="198.03" height="2.51" fill="url(#a61)"/>
<rect x="81.72" y="106.74" width="201.25" height="2.51" fill="url(#a62)"/>
<rect x="80.11" y="108.34" width="204.47" height="2.51" fill="url(#a63)"/>
<rect x="78.5" y="109.95" width="207.69" height="2.51" fill="url(#a64)"/>
<rect x="76.89" y="111.55" width="210.91" height="2.51" fill="url(#a65)"/>
<rect x="75.28" y="113.16" width="214.13" height="2.51" fill="url(#a66)"/>
<rect x="73.67" y="114.77" width="217.35" height="2.51" fill="url(#a67)"/>
<rect x="72.06" y="116.37" width="220.57" height="2.51" fill="url(#a68)"/>
<rect x="70.45" y="117.98" width="223.79" height="2.51" fill="url(#a69)"/>
<rect x="68.84" y="119.58" width="227.01" height="2.51" fill="url(#a70)"/>
<rect x="67.23" y="121.19" width="230.23" height="2.51" fill="url(#a71)"/>
<rect x="65.62" y="122.79" width="233.45" height="2.51" fill="url(#a72)"/>
<rect x="64.01" y="124.4" width="236.67" height="2.51" fill="url(#a73)"/>
<rect x="62.4" y="126" width="239.89" height="2.51" fill="url(#a74)"/>
<rect x="60.79" y="127.61" width="243.11" height="2.51" fill="url(#a75)"/>
<rect x="59.18" y="129.22" width="246.33" height="2.51" fill="url(#a76)"/>
<rect x="57.57" y="130.82" width="249.55" height="2.51" fill="url(#a77)"/>
<rect x="55.96" y="132.43" width="252.77" height="2.51" fill="url(#a78)"/>
<rect x="54.35" y="134.03" width="255.99" height="2.51" fill="url(#a79)"/>
<rect x="52.74" y="135.64" width="259.21" height="2.51" fill="url(#a80)"/>
<rect x="51.13" y="137.24" width="262.43" height="2.51" fill="url(#a81)"/>
<rect x="49.52" y="138.85" width="265.65" height="2.51" fill="url(#a82)"/>
<rect x="47.91" y="140.45" width="268.87" height="2.51" fill="url(#a83)"/>
<rect x="46.3" y="142.06" width="272.09" height="2.51" fill="url(#a84)"/>
<rect x="44.69" y="143.66" width="275.31" height="2.51" fill="url(#a85)"/>
<rect x="43.08" y="145.27" width="278.53" height="2.51" fill="url(#a86)"/>
<rect x="41.47" y="146.88" width="281.75" height="2.51" fill="url(#a87)"/>
<rect x="39.86" y="148.48" width="284.97" height="2.51" fill="url(#a88)"/>
<rect x="38.25" y="150.09" width="288.19" height="2.51" fill="url(#a89)"/>
<rect x="36.64" y="151.69" width="291.41" height="1.61" fill="url(#a90)"/>
<rect x="526.15" y="7.3" width="1.61" height="2.51" fill="#34ffcb"/>
<rect x="524.54" y="8.9" width="4.83" height="2.51" fill="url(#b1)"/>
<rect x="522.93" y="10.51" width="8.05" height="2.51" fill="url(#b2)"/>
<rect x="521.32" y="12.11" width="11.27" height="2.51" fill="url(#b3)"/>
<rect x="519.71" y="13.72" width="14.49" height="2.51" fill="url(#b4)"/>
<rect x="518.1" y="15.32" width="17.71" height="2.51" fill="url(#b5)"/>
<rect x="516.49" y="16.93" width="20.93" height="2.51" fill="url(#b6)"/>
<rect x="514.88" y="18.54" width="24.15" height="2.51" fill="url(#b7)"/>
<rect x="513.27" y="20.14" width="27.37" height="2.51" fill="url(#b8)"/>
<rect x="511.66" y="21.75" width="30.59" height="2.51" fill="url(#b9)"/>
<rect x="510.05" y="23.35" width="33.81" height="2.51" fill="url(#b10)"/>
<rect x="508.44" y="24.96" width="37.03" height="2.51" fill="url(#b11)"/>
<rect x="506.83" y="26.56" width="40.25" height="2.51" fill="url(#b12)"/>
<rect x="505.22" y="28.17" width="43.47" height="2.51" fill="url(#b13)"/>
<rect x="503.61" y="29.77" width="46.69" height="2.51" fill="url(#b14)"/>
<rect x="502" y="31.38" width="49.91" height="2.51" fill="url(#b15)"/>
<rect x="500.39" y="32.99" width="53.13" height="2.51" fill="url(#b16)"/>
<rect x="498.78" y="34.59" width="56.35" height="2.51" fill="url(#b17)"/>
<rect x="497.17" y="36.2" width="59.57" height="2.51" fill="url(#b18)"/>
<rect x="495.56" y="37.8" width="62.79" height="2.51" fill="url(#b19)"/>
<rect x="493.95" y="39.41" width="66.01" height="2.51" fill="url(#b20)"/>
<rect x="492.34" y="41.01" width="69.23" height="2.51" fill="url(#b21)"/>
<rect x="490.73" y="42.62" width="72.45" height="2.51" fill="url(#b22)"/>
<rect x="489.12" y="44.22" width="75.67" height="2.51" fill="url(#b23)"/>
<rect x="487.51" y="45.83" width="78.89" height="2.51" fill="url(#b24)"/>
<rect x="485.9" y="47.43" width="82.11" height="2.51" fill="url(#b25)"/>
<rect x="484.29" y="49.04" width="85.33" height="2.51" fill="url(#b26)"/>
<rect x="482.68" y="50.65" width="88.55" height="2.51" fill="url(#b27)"/>
<rect x="481.07" y="52.25" width="91.77" height="2.51" fill="url(#b28)"/>
<rect x="479.46" y="53.86" width="94.99" height="2.51" fill="url(#b29)"/>
<rect x="477.85" y="55.46" width="98.21" height="2.51" fill="url(#b30)"/>
<rect x="476.24" y="57.07" width="101.43" height="2.51" fill="url(#b31)"/>
<rect x="474.63" y="58.67" width="104.65" height="2.51" fill="url(#b32)"/>
<rect x="473.02" y="60.28" width="107.87" height="2.51" fill="url(#b33)"/>
<rect x="471.41" y="61.88" width="111.09" height="2.51" fill="url(#b34)"/>
<rect x="469.8" y="63.49" width="114.31" height="2.51" fill="url(#b35)"/>
<rect x="468.19" y="65.1" width="117.53" height="2.51" fill="url(#b36)"/>
<rect x="466.58" y="66.7" width="120.75" height="2.51" fill="url(#b37)"/>
<rect x="464.97" y="68.31" width="123.97" height="2.51" fill="url(#b38)"/>
<rect x="463.36" y="69.91" width="127.19" height="2.51" fill="url(#b39)"/>
<rect x="461.75" y="71.52" width="130.41" height="2.51" fill="url(#b40)"/>
<rect x="460.14" y="73.12" width="133.63" height="2.51" fill="url(#b41)"/>
<rect x="458.53" y="74.73" width="136.85" height="2.51" fill="url(#b42)"/>
<rect x="456.92" y="76.33" width="140.07" height="2.51" fill="url(#b43)"/>
<rect x="455.31" y="77.94" width="143.29" height="2.51" fill="url(#b44)"/>
<rect x="453.7" y="79.54" width="146.51" height="2.51" fill="url(#b45)"/>
<rect x="452.09" y="81.15" width="149.73" height="2.51" fill="url(#b46)"/>
<rect x="450.48" y="82.76" width="152.95" height="2.51" fill="url(#b47)"/>
<rect x="448.87" y="84.36" width="156.17" height="2.51" fill="url(#b48)"/>
<rect x="447.26" y="85.97" width="159.39" height="2.51" fill="url(#b49)"/>
<rect x="445.65" y="87.57" width="162.61" height="2.51" fill="url(#b50)"/>
<rect x="444.04" y="89.18" width="165.83" height="2.51" fill="url(#b51)"/>
<rect x="442.43" y="90.78" width="169.05" height="2.51" fill="url(#b52)"/>
<rect x="440.82" y="92.39" width="172.27" height="2.51" fill="url(#b53)"/>
<rect x="439.21" y="93.99" width="175.49" height="2.51" fill="url(#b54)"/>
<rect x="437.6" y="95.6" width="178.71" height="2.51" fill="url(#b55)"/>
<rect x="435.99" y="97.21" width="181.93" height="2.51" fill="url(#b56)"/>
<rect x="434.38" y="98.81" width="185.15" height="2.51" fill="url(#b57)"/>
<rect x="432.77" y="100.42" width="188.37" height="2.51" fill="url(#b58)"/>
<rect x="431.16" y="102.02" width="191.59" height="2.51" fill="url(#b59)"/>
<rect x="429.55" y="103.63" width="194.81" height="2.51" fill="url(#b60)"/>
<rect x="427.94" y="105.23" width="198.03" height="2.51" fill="url(#b61)"/>
<rect x="426.33" y="106.84" width="201.25" height="2.51" fill="url(#b62)"/>
<rect x="424.72" y="108.44" width="204.47" height="2.51" fill="url(#b63)"/>
<rect x="423.11" y="110.05" width="207.69" height="2.51" fill="url(#b64)"/>
<rect x="421.5" y="111.65" width="210.91" height="2.51" fill="url(#b65)"/>
<rect x="419.89" y="113.26" width="214.13" height="2.51" fill="url(#b66)"/>
<rect x="418.28" y="114.87" width="217.35" height="2.51" fill="url(#b67)"/>
<rect x="416.67" y="116.47" width="220.57" height="2.51" fill="url(#b68)"/>
<rect x="415.06" y="118.08" width="223.79" height="2.51" fill="url(#b69)"/>
<rect x="413.45" y="119.68" width="227.01" height="2.51" fill="url(#b70)"/>
<rect x="411.84" y="121.29" width="230.23" height="2.51" fill="url(#b71)"/>
<rect x="410.23" y="122.89" width="233.45" height="2.51" fill="url(#b72)"/>
<rect x="408.62" y="124.5" width="236.67" height="2.51" fill="url(#b73)"/>
<rect x="407.01" y="126.1" width="239.89" height="2.51" fill="url(#b74)"/>
<rect x="405.4" y="127.71" width="243.11" height="2.51" fill="url(#b75)"/>
<rect x="403.79" y="129.32" width="246.33" height="2.51" fill="url(#b76)"/>
<rect x="402.18" y="130.92" width="249.55" height="2.51" fill="url(#b77)"/>
<rect x="400.57" y="132.53" width="252.77" height="2.51" fill="url(#b78)"/>
<rect x="398.96" y="134.13" width="255.99" height="2.51" fill="url(#b79)"/>
<rect x="397.35" y="135.74" width="259.21" height="2.51" fill="url(#b80)"/>
<rect x="395.74" y="137.34" width="262.43" height="2.51" fill="url(#b81)"/>
<rect x="394.12" y="138.95" width="265.65" height="2.51" fill="url(#b82)"/>
<rect x="392.52" y="140.55" width="268.87" height="2.51" fill="url(#b83)"/>
<rect x="390.91" y="142.16" width="272.09" height="2.51" fill="url(#b84)"/>
<rect x="389.3" y="143.76" width="275.31" height="2.51" fill="url(#b85)"/>
<rect x="387.69" y="145.37" width="278.53" height="2.51" fill="url(#b86)"/>
<rect x="386.08" y="146.98" width="281.75" height="2.51" fill="url(#b87)"/>
<rect x="384.47" y="148.58" width="284.97" height="2.51" fill="url(#b88)"/>
<rect x="382.86" y="150.19" width="288.19" height="2.51" fill="url(#b89)"/>
<rect x="381.25" y="151.79" width="291.41" height="1.61" fill="url(#b90)"/>
<rect x="181.59" y="297.2" width="1.61" height="2.51" fill="#004dff"/>
<rect x="179.99" y="298.8" width="4.83" height="2.51" fill="url(#c1)"/>
<rect x="178.38" y="300.41" width="8.05" height="2.51" fill="url(#c2)"/>
<rect x="176.77" y="302.01" width="11.27" height="2.51" fill="url(#c3)"/>
<rect x="175.16" y="303.62" width="14.49" height="2.51" fill="url(#c4)"/>
<rect x="173.55" y="305.22" width="17.71" height="2.51" fill="url(#c5)"/>
<rect x="171.94" y="306.83" width="20.93" height="2.51" fill="url(#c6)"/>
<rect x="170.33" y="308.44" width="24.15" height="2.51" fill="url(#c7)"/>
<rect x="168.72" y="310.04" width="27.37" height="2.51" fill="url(#c8)"/>
<rect x="167.11" y="311.65" width="30.59" height="2.51" fill="url(#c9)"/>
<rect x="165.5" y="313.25" width="33.81" height="2.51" fill="url(#c10)"/>
<rect x="163.88" y="314.86" width="37.03" height="2.51" fill="url(#c11)"/>
<rect x="162.28" y="316.46" width="40.25" height="2.51" fill="url(#c12)"/>
<rect x="160.66" y="318.07" width="43.47" height="2.51" fill="url(#c13)"/>
<rect x="159.06" y="319.67" width="46.69" height="2.51" fill="url(#c14)"/>
<rect x="157.44" y="321.28" width="49.91" height="2.51" fill="url(#c15)"/>
<rect x="155.84" y="322.89" width="53.13" height="2.51" fill="url(#c16)"/>
<rect x="154.22" y="324.49" width="56.35" height="2.51" fill="url(#c17)"/>
<rect x="152.62" y="326.1" width="59.57" height="2.51" fill="url(#c18)"/>
<rect x="151" y="327.7" width="62.79" height="2.51" fill="url(#c19)"/>
<rect x="149.4" y="329.31" width="66.01" height="2.51" fill="url(#c20)"/>
<rect x="147.78" y="330.91" width="69.23" height="2.51" fill="url(#c21)"/>
<rect x="146.18" y="332.52" width="72.45" height="2.51" fill="url(#c22)"/>
<rect x="144.56" y="334.12" width="75.67" height="2.51" fill="url(#c23)"/>
<rect x="142.96" y="335.73" width="78.89" height="2.51" fill="url(#c24)"/>
<rect x="141.34" y="337.33" width="82.11" height="2.51" fill="url(#c25)"/>
<rect x="139.74" y="338.94" width="85.33" height="2.51" fill="url(#c26)"/>
<rect x="138.12" y="340.55" width="88.55" height="2.51" fill="url(#c27)"/>
<rect x="136.51" y="342.15" width="91.77" height="2.51" fill="url(#c28)"/>
<rect x="134.91" y="343.76" width="94.99" height="2.51" fill="url(#c29)"/>
<rect x="133.3" y="345.36" width="98.21" height="2.51" fill="url(#c30)"/>
<rect x="131.69" y="346.97" width="101.43" height="2.51" fill="url(#c31)"/>
<rect x="130.07" y="348.57" width="104.65" height="2.51" fill="url(#c32)"/>
<rect x="128.47" y="350.18" width="107.87" height="2.51" fill="url(#c33)"/>
<rect x="126.86" y="351.78" width="111.09" height="2.51" fill="url(#c34)"/>
<rect x="125.25" y="353.39" width="114.31" height="2.51" fill="url(#c35)"/>
<rect x="123.64" y="355" width="117.53" height="2.51" fill="url(#c36)"/>
<rect x="122.03" y="356.6" width="120.75" height="2.51" fill="url(#c37)"/>
<rect x="120.41" y="358.21" width="123.97" height="2.51" fill="url(#c38)"/>
<rect x="118.81" y="359.81" width="127.19" height="2.51" fill="url(#c39)"/>
<rect x="117.2" y="361.42" width="130.41" height="2.51" fill="url(#c40)"/>
<rect x="115.59" y="363.02" width="133.63" height="2.51" fill="url(#c41)"/>
<rect x="113.98" y="364.63" width="136.85" height="2.51" fill="url(#c42)"/>
<rect x="112.36" y="366.23" width="140.07" height="2.51" fill="url(#c43)"/>
<rect x="110.75" y="367.84" width="143.29" height="2.51" fill="url(#c44)"/>
<rect x="109.14" y="369.44" width="146.51" height="2.51" fill="url(#c45)"/>
<rect x="107.53" y="371.05" width="149.73" height="2.51" fill="url(#c46)"/>
<rect x="105.92" y="372.66" width="152.95" height="2.51" fill="url(#c47)"/>
<rect x="104.31" y="374.26" width="156.17" height="2.51" fill="url(#c48)"/>
<rect x="102.7" y="375.87" width="159.39" height="2.51" fill="url(#c49)"/>
<rect x="101.09" y="377.47" width="162.61" height="2.51" fill="url(#c50)"/>
<rect x="99.48" y="379.08" width="165.83" height="2.51" fill="url(#c51)"/>
<rect x="97.88" y="380.68" width="169.05" height="2.51" fill="url(#c52)"/>
<rect x="96.27" y="382.29" width="172.27" height="2.51" fill="url(#c53)"/>
<rect x="94.66" y="383.89" width="175.49" height="2.51" fill="url(#c54)"/>
<rect x="93.05" y="385.5" width="178.71" height="2.51" fill="url(#c55)"/>
<rect x="91.44" y="387.11" width="181.93" height="2.51" fill="url(#c56)"/>
<rect x="89.83" y="388.71" width="185.15" height="2.51" fill="url(#c57)"/>
<rect x="88.22" y="390.32" width="188.37" height="2.51" fill="url(#c58)"/>
<rect x="86.61" y="391.92" width="191.59" height="2.51" fill="url(#c59)"/>
<rect x="85" y="393.53" width="194.81" height="2.51" fill="url(#c60)"/>
<rect x="83.39" y="395.13" width="198.03" height="2.51" fill="url(#c61)"/>
<rect x="81.78" y="396.74" width="201.25" height="2.51" fill="url(#c62)"/>
<rect x="80.17" y="398.34" width="204.47" height="2.51" fill="url(#c63)"/>
<rect x="78.55" y="399.95" width="207.69" height="2.51" fill="url(#c64)"/>
<rect x="76.94" y="401.55" width="210.91" height="2.51" fill="url(#c65)"/>
<rect x="75.33" y="403.16" width="214.13" height="2.51" fill="url(#c66)"/>
<rect x="73.72" y="404.77" width="217.35" height="2.51" fill="url(#c67)"/>
<rect x="72.11" y="406.37" width="220.57" height="2.51" fill="url(#c68)"/>
<rect x="70.5" y="407.98" width="223.79" height="2.51" fill="url(#c69)"/>
<rect x="68.89" y="409.58" width="227.01" height="2.51" fill="url(#c70)"/>
<rect x="67.28" y="411.19" width="230.23" height="2.51" fill="url(#c71)"/>
<rect x="65.67" y="412.79" width="233.45" height="2.51" fill="url(#c72)"/>
<rect x="64.06" y="414.4" width="236.67" height="2.51" fill="url(#c73)"/>
<rect x="62.45" y="416" width="239.89" height="2.51" fill="url(#c74)"/>
<rect x="60.84" y="417.61" width="243.11" height="2.51" fill="url(#c75)"/>
<rect x="59.23" y="419.22" width="246.33" height="2.51" fill="url(#c76)"/>
<rect x="57.62" y="420.82" width="249.55" height="2.51" fill="url(#c77)"/>
<rect x="56.02" y="422.43" width="252.77" height="2.51" fill="url(#c78)"/>
<rect x="54.41" y="424.03" width="255.99" height="2.51" fill="url(#c79)"/>
<rect x="52.79" y="425.64" width="259.21" height="2.51" fill="url(#c80)"/>
<rect x="51.19" y="427.24" width="262.43" height="2.51" fill="url(#c81)"/>
<rect x="49.57" y="428.85" width="265.65" height="2.51" fill="url(#c82)"/>
<rect x="47.97" y="430.45" width="268.87" height="2.51" fill="url(#c83)"/>
<rect x="46.35" y="432.06" width="272.09" height="2.51" fill="url(#c84)"/>
<rect x="44.75" y="433.66" width="275.31" height="2.51" fill="url(#c85)"/>
<rect x="43.13" y="435.27" width="278.53" height="2.51" fill="url(#c86)"/>
<rect x="41.53" y="436.88" width="281.75" height="2.51" fill="url(#c87)"/>
<rect x="39.91" y="438.48" width="284.97" height="2.51" fill="url(#c88)"/>
<rect x="38.31" y="440.09" width="288.19" height="2.51" fill="url(#c89)"/>
<rect x="36.69" y="441.69" width="291.41" height="1.61" fill="url(#c90)"/>
<rect x="526.2" y="297.3" width="1.61" height="2.51" fill="#0062ff"/>
<rect x="524.59" y="298.9" width="4.83" height="2.51" fill="url(#d1)"/>
<rect x="522.98" y="300.51" width="8.05" height="2.51" fill="url(#d2)"/>
<rect x="521.37" y="302.11" width="11.27" height="2.51" fill="url(#d3)"/>
<rect x="519.75" y="303.72" width="14.49" height="2.51" fill="url(#d4)"/>
<rect x="518.14" y="305.32" width="17.71" height="2.51" fill="url(#d5)"/>
<rect x="516.53" y="306.93" width="20.93" height="2.51" fill="url(#d6)"/>
<rect x="514.92" y="308.54" width="24.15" height="2.51" fill="url(#d7)"/>
<rect x="513.32" y="310.14" width="27.37" height="2.51" fill="url(#d8)"/>
<rect x="511.7" y="311.75" width="30.59" height="2.51" fill="url(#d9)"/>
<rect x="510.1" y="313.35" width="33.81" height="2.51" fill="url(#d10)"/>
<rect x="508.49" y="314.96" width="37.03" height="2.51" fill="url(#d11)"/>
<rect x="506.88" y="316.56" width="40.25" height="2.51" fill="url(#d12)"/>
<rect x="505.26" y="318.17" width="43.47" height="2.51" fill="url(#d13)"/>
<rect x="503.65" y="319.77" width="46.69" height="2.51" fill="url(#d14)"/>
<rect x="502.05" y="321.38" width="49.91" height="2.51" fill="url(#d15)"/>
<rect x="500.44" y="322.99" width="53.13" height="2.51" fill="url(#d16)"/>
<rect x="498.82" y="324.59" width="56.35" height="2.51" fill="url(#d17)"/>
<rect x="497.21" y="326.2" width="59.57" height="2.51" fill="url(#d18)"/>
<rect x="495.61" y="327.8" width="62.79" height="2.51" fill="url(#d19)"/>
<rect x="494" y="329.41" width="66.01" height="2.51" fill="url(#d20)"/>
<rect x="492.38" y="331.01" width="69.23" height="2.51" fill="url(#d21)"/>
<rect x="490.77" y="332.62" width="72.45" height="2.51" fill="url(#d22)"/>
<rect x="489.17" y="334.22" width="75.67" height="2.51" fill="url(#d23)"/>
<rect x="487.56" y="335.83" width="78.89" height="2.51" fill="url(#d24)"/>
<rect x="485.94" y="337.43" width="82.11" height="2.51" fill="url(#d25)"/>
<rect x="484.33" y="339.04" width="85.33" height="2.51" fill="url(#d26)"/>
<rect x="482.73" y="340.65" width="88.55" height="2.51" fill="url(#d27)"/>
<rect x="481.12" y="342.25" width="91.77" height="2.51" fill="url(#d28)"/>
<rect x="479.5" y="343.86" width="94.99" height="2.51" fill="url(#d29)"/>
<rect x="477.89" y="345.46" width="98.21" height="2.51" fill="url(#d30)"/>
<rect x="476.28" y="347.07" width="101.43" height="2.51" fill="url(#d31)"/>
<rect x="474.68" y="348.67" width="104.65" height="2.51" fill="url(#d32)"/>
<rect x="473.06" y="350.28" width="107.87" height="2.51" fill="url(#d33)"/>
<rect x="471.45" y="351.88" width="111.09" height="2.51" fill="url(#d34)"/>
<rect x="469.85" y="353.49" width="114.31" height="2.51" fill="url(#d35)"/>
<rect x="468.24" y="355.1" width="117.53" height="2.51" fill="url(#d36)"/>
<rect x="466.62" y="356.7" width="120.75" height="2.51" fill="url(#d37)"/>
<rect x="465.01" y="358.31" width="123.97" height="2.51" fill="url(#d38)"/>
<rect x="463.4" y="359.91" width="127.19" height="2.51" fill="url(#d39)"/>
<rect x="461.8" y="361.52" width="130.41" height="2.51" fill="url(#d40)"/>
<rect x="460.19" y="363.12" width="133.63" height="2.51" fill="url(#d41)"/>
<rect x="458.57" y="364.73" width="136.85" height="2.51" fill="url(#d42)"/>
<rect x="456.96" y="366.33" width="140.07" height="2.51" fill="url(#d43)"/>
<rect x="455.36" y="367.94" width="143.29" height="2.51" fill="url(#d44)"/>
<rect x="453.75" y="369.54" width="146.51" height="2.51" fill="url(#d45)"/>
<rect x="452.13" y="371.15" width="149.73" height="2.51" fill="url(#d46)"/>
<rect x="450.52" y="372.76" width="152.95" height="2.51" fill="url(#d47)"/>
<rect x="448.91" y="374.36" width="156.17" height="2.51" fill="url(#d48)"/>
<rect x="447.31" y="375.97" width="159.39" height="2.51" fill="url(#d49)"/>
<rect x="445.69" y="377.57" width="162.61" height="2.51" fill="url(#d50)"/>
<rect x="444.08" y="379.18" width="165.83" height="2.51" fill="url(#d51)"/>
<rect x="442.48" y="380.78" width="169.05" height="2.51" fill="url(#d52)"/>
<rect x="440.87" y="382.39" width="172.27" height="2.51" fill="url(#d53)"/>
<rect x="439.25" y="383.99" width="175.49" height="2.51" fill="url(#d54)"/>
<rect x="437.64" y="385.6" width="178.71" height="2.51" fill="url(#d55)"/>
<rect x="436.03" y="387.21" width="181.93" height="2.51" fill="url(#d56)"/>
<rect x="434.43" y="388.81" width="185.15" height="2.51" fill="url(#d57)"/>
<rect x="432.81" y="390.42" width="188.37" height="2.51" fill="url(#d58)"/>
<rect x="431.2" y="392.02" width="191.59" height="2.51" fill="url(#d59)"/>
<rect x="429.6" y="393.63" width="194.81" height="2.51" fill="url(#d60)"/>
<rect x="427.99" y="395.23" width="198.03" height="2.51" fill="url(#d61)"/>
<rect x="426.38" y="396.84" width="201.25" height="2.51" fill="url(#d62)"/>
<rect x="424.76" y="398.44" width="204.47" height="2.51" fill="url(#d63)"/>
<rect x="423.15" y="400.05" width="207.69" height="2.51" fill="url(#d64)"/>
<rect x="421.54" y="401.65" width="210.91" height="2.51" fill="url(#d65)"/>
<rect x="419.94" y="403.26" width="214.13" height="2.51" fill="url(#d66)"/>
<rect x="418.32" y="404.87" width="217.35" height="2.51" fill="url(#d67)"/>
<rect x="416.71" y="406.47" width="220.57" height="2.51" fill="url(#d68)"/>
<rect x="415.11" y="408.08" width="223.79" height="2.51" fill="url(#d69)"/>
<rect x="413.5" y="409.68" width="227.01" height="2.51" fill="url(#d70)"/>
<rect x="411.88" y="411.29" width="230.23" height="2.51" fill="url(#d71)"/>
<rect x="410.27" y="412.89" width="233.45" height="2.51" fill="url(#d72)"/>
<rect x="408.66" y="414.5" width="236.67" height="2.51" fill="url(#d73)"/>
<rect x="407.06" y="416.1" width="239.89" height="2.51" fill="url(#d74)"/>
<rect x="405.44" y="417.71" width="243.11" height="2.51" fill="url(#d75)"/>
<rect x="403.83" y="419.32" width="246.33" height="2.51" fill="url(#d76)"/>
<rect x="402.23" y="420.92" width="249.55" height="2.51" fill="url(#d77)"/>
<rect x="400.62" y="422.53" width="252.77" height="2.51" fill="url(#d78)"/>
<rect x="399" y="424.13" width="255.99" height="2.51" fill="url(#d79)"/>
<rect x="397.39" y="425.74" width="259.21" height="2.51" fill="url(#d80)"/>
<rect x="395.78" y="427.34" width="262.43" height="2.51" fill="url(#d81)"/>
<rect x="394.17" y="428.95" width="265.65" height="2.51" fill="url(#d82)"/>
<rect x="392.56" y="430.55" width="268.87" height="2.51" fill="url(#d83)"/>
<rect x="390.95" y="432.16" width="272.09" height="2.51" fill="url(#d84)"/>
<rect x="389.35" y="433.76" width="275.31" height="2.51" fill="url(#d85)"/>
<rect x="387.74" y="435.37" width="278.53" height="2.51" fill="url(#d86)"/>
<rect x="386.12" y="436.98" width="281.75" height="2.51" fill="url(#d87)"/>
<rect x="384.51" y="438.58" width="284.97" height="2.51" fill="url(#d88)"/>
<rect x="382.9" y="440.19" width="288.19" height="2.51" fill="url(#d89)"/>
<rect x="381.29" y="441.79" width="291.41" height="1.61" fill="url(#d90)"/>
<rect x="36.6" y="195.6" width="291.5" height="11.6" fill="url(#cba)"/>
<rect x="36.6" y="195.6" width="291.5" height="11.6" class="cbx"/>
<line x1="36.96" x2="36.96" y1="207.2" y2="205.9" class="ctk"/>
<line x1="48.47" x2="48.47" y1="207.2" y2="205.9" class="ctk"/>
<line x1="58.2" x2="58.2" y1="207.2" y2="205.9" class="ctk"/>
<line x1="66.63" x2="66.63" y1="207.2" y2="205.9" class="ctk"/>
<line x1="74.06" x2="74.06" y1="207.2" y2="205.9" class="ctk"/>
<line x1="80.71" x2="80.71" y1="207.2" y2="205" class="ctk"/>
<line x1="124.47" x2="124.47" y1="207.2" y2="205.9" class="ctk"/>
<line x1="150.06" x2="150.06" y1="207.2" y2="205.9" class="ctk"/>
<line x1="168.22" x2="168.22" y1="207.2" y2="205.9" class="ctk"/>
<line x1="182.31" x2="182.31" y1="207.2" y2="205.9" class="ctk"/>
<line x1="193.82" x2="193.82" y1="207.2" y2="205.9" class="ctk"/>
<line x1="203.55" x2="203.55" y1="207.2" y2="205.9" class="ctk"/>
<line x1="211.98" x2="211.98" y1="207.2" y2="205.9" class="ctk"/>
<line x1="219.41" x2="219.41" y1="207.2" y2="205.9" class="ctk"/>
<line x1="226.06" x2="226.06" y1="207.2" y2="205" class="ctk"/>
<line x1="269.82" x2="269.82" y1="207.2" y2="205.9" class="ctk"/>
<line x1="295.41" x2="295.41" y1="207.2" y2="205.9" class="ctk"/>
<line x1="313.57" x2="313.57" y1="207.2" y2="205.9" class="ctk"/>
<line x1="327.66" x2="327.66" y1="207.2" y2="205.9" class="ctk"/>
<rect x="381.35" y="196.3" width="291.3" height="11.6" fill="url(#cbb)"/>
<rect x="381.35" y="196.3" width="291.3" height="11.6" class="cbx"/>
<line x1="381.71" x2="381.71" y1="207.9" y2="206.6" class="ctk"/>
<line x1="393.21" x2="393.21" y1="207.9" y2="206.6" class="ctk"/>
<line x1="402.93" x2="402.93" y1="207.9" y2="206.6" class="ctk"/>
<line x1="411.36" x2="411.36" y1="207.9" y2="206.6" class="ctk"/>
<line x1="418.79" x2="418.79" y1="207.9" y2="206.6" class="ctk"/>
<line x1="425.43" x2="425.43" y1="207.9" y2="205.7" class="ctk"/>
<line x1="469.16" x2="469.16" y1="207.9" y2="206.6" class="ctk"/>
<line x1="494.74" x2="494.74" y1="207.9" y2="206.6" class="ctk"/>
<line x1="512.88" x2="512.88" y1="207.9" y2="206.6" class="ctk"/>
<line x1="526.96" x2="526.96" y1="207.9" y2="206.6" class="ctk"/>
<line x1="538.46" x2="538.46" y1="207.9" y2="206.6" class="ctk"/>
<line x1="548.18" x2="548.18" y1="207.9" y2="206.6" class="ctk"/>
<line x1="556.61" x2="556.61" y1="207.9" y2="206.6" class="ctk"/>
<line x1="564.04" x2="564.04" y1="207.9" y2="206.6" class="ctk"/>
<line x1="570.68" x2="570.68" y1="207.9" y2="205.7" class="ctk"/>
<line x1="614.41" x2="614.41" y1="207.9" y2="206.6" class="ctk"/>
<line x1="639.99" x2="639.99" y1="207.9" y2="206.6" class="ctk"/>
<line x1="658.13" x2="658.13" y1="207.9" y2="206.6" class="ctk"/>
<line x1="672.21" x2="672.21" y1="207.9" y2="206.6" class="ctk"/>
<rect x="36.65" y="485.7" width="291.5" height="11.6" fill="url(#cbc)"/>
<rect x="36.65" y="485.7" width="291.5" height="11.6" class="cbx"/>
<line x1="37.01" x2="37.01" y1="497.3" y2="496" class="ctk"/>
<line x1="48.52" x2="48.52" y1="497.3" y2="496" class="ctk"/>
<line x1="58.25" x2="58.25" y1="497.3" y2="496" class="ctk"/>
<line x1="66.68" x2="66.68" y1="497.3" y2="496" class="ctk"/>
<line x1="74.11" x2="74.11" y1="497.3" y2="496" class="ctk"/>
<line x1="80.76" x2="80.76" y1="497.3" y2="495.1" class="ctk"/>
<line x1="124.52" x2="124.52" y1="497.3" y2="496" class="ctk"/>
<line x1="150.11" x2="150.11" y1="497.3" y2="496" class="ctk"/>
<line x1="168.27" x2="168.27" y1="497.3" y2="496" class="ctk"/>
<line x1="182.36" x2="182.36" y1="497.3" y2="496" class="ctk"/>
<line x1="193.87" x2="193.87" y1="497.3" y2="496" class="ctk"/>
<line x1="203.6" x2="203.6" y1="497.3" y2="496" class="ctk"/>
<line x1="212.03" x2="212.03" y1="497.3" y2="496" class="ctk"/>
<line x1="219.46" x2="219.46" y1="497.3" y2="496" class="ctk"/>
<line x1="226.11" x2="226.11" y1="497.3" y2="495.1" class="ctk"/>
<line x1="269.87" x2="269.87" y1="497.3" y2="496" class="ctk"/>
<line x1="295.46" x2="295.46" y1="497.3" y2="496" class="ctk"/>
<line x1="313.62" x2="313.62" y1="497.3" y2="496" class="ctk"/>
<line x1="327.71" x2="327.71" y1="497.3" y2="496" class="ctk"/>
<rect x="381.4" y="485.8" width="291.3" height="11.6" fill="url(#cbd)"/>
<rect x="381.4" y="485.8" width="291.3" height="11.6" class="cbx"/>
<line x1="381.62" x2="381.62" y1="497.4" y2="496.1" class="ctk"/>
<line x1="399.33" x2="399.33" y1="497.4" y2="496.1" class="ctk"/>
<line x1="414.31" x2="414.31" y1="497.4" y2="496.1" class="ctk"/>
<line x1="427.29" x2="427.29" y1="497.4" y2="496.1" class="ctk"/>
<line x1="438.73" x2="438.73" y1="497.4" y2="496.1" class="ctk"/>
<line x1="448.97" x2="448.97" y1="497.4" y2="495.2" class="ctk"/>
<line x1="516.32" x2="516.32" y1="497.4" y2="496.1" class="ctk"/>
<line x1="555.71" x2="555.71" y1="497.4" y2="496.1" class="ctk"/>
<line x1="583.67" x2="583.67" y1="497.4" y2="496.1" class="ctk"/>
<line x1="605.35" x2="605.35" y1="497.4" y2="496.1" class="ctk"/>
<line x1="623.07" x2="623.07" y1="497.4" y2="496.1" class="ctk"/>
<line x1="638.04" x2="638.04" y1="497.4" y2="496.1" class="ctk"/>
<line x1="651.02" x2="651.02" y1="497.4" y2="496.1" class="ctk"/>
<line x1="662.46" x2="662.46" y1="497.4" y2="496.1" class="ctk"/>
<line x1="101.85" x2="101.85" y1="6.7" y2="153.3" class="g"/>
<line x1="182.35" x2="182.35" y1="6.7" y2="153.3" class="g"/>
<line x1="262.85" x2="262.85" y1="6.7" y2="153.3" class="g"/>
<line x1="36.6" x2="328.1" y1="8" y2="8" class="gh"/>
<line x1="36.6" x2="328.1" y1="40.11" y2="40.11" class="gh"/>
<line x1="36.6" x2="328.1" y1="72.22" y2="72.22" class="gh"/>
<line x1="36.6" x2="328.1" y1="104.33" y2="104.33" class="gh"/>
<line x1="36.6" x2="328.1" y1="136.44" y2="136.44" class="gh"/>
<rect x="36.6" y="6.7" width="291.5" height="146.6" class="bx"/>
<line x1="101.85" x2="101.85" y1="153.3" y2="150.3" class="t"/>
<line x1="101.85" x2="101.85" y1="6.7" y2="9.7" class="t"/>
<line x1="182.35" x2="182.35" y1="153.3" y2="150.3" class="t"/>
<line x1="182.35" x2="182.35" y1="6.7" y2="9.7" class="t"/>
<line x1="262.85" x2="262.85" y1="153.3" y2="150.3" class="t"/>
<line x1="262.85" x2="262.85" y1="6.7" y2="9.7" class="t"/>
<line x1="36.6" x2="39.6" y1="8" y2="8" class="t"/>
<line x1="328.1" x2="325.1" y1="8" y2="8" class="t"/>
<line x1="36.6" x2="39.6" y1="40.11" y2="40.11" class="t"/>
<line x1="328.1" x2="325.1" y1="40.11" y2="40.11" class="t"/>
<line x1="36.6" x2="39.6" y1="72.22" y2="72.22" class="t"/>
<line x1="328.1" x2="325.1" y1="72.22" y2="72.22" class="t"/>
<line x1="36.6" x2="39.6" y1="104.33" y2="104.33" class="t"/>
<line x1="328.1" x2="325.1" y1="104.33" y2="104.33" class="t"/>
<line x1="36.6" x2="39.6" y1="136.44" y2="136.44" class="t"/>
<line x1="328.1" x2="325.1" y1="136.44" y2="136.44" class="t"/>
<text class="tk" text-anchor="end" transform="translate(32.8 12.8) scale(1.070 1)">0</text>
<text class="tk" text-anchor="end" transform="translate(32.8 44.91) scale(1.070 1)">20</text>
<text class="tk" text-anchor="end" transform="translate(32.8 77.02) scale(1.070 1)">40</text>
<text class="tk" text-anchor="end" transform="translate(32.8 109.13) scale(1.070 1)">60</text>
<text class="tk" text-anchor="end" transform="translate(32.8 141.24) scale(1.070 1)">80</text>
<text class="tk" text-anchor="middle" transform="translate(101.85 170.1) scale(1.070 1)">-50</text>
<text class="tk" text-anchor="middle" transform="translate(182.35 170.1) scale(1.070 1)">0</text>
<text class="tk" text-anchor="middle" transform="translate(262.85 170.1) scale(1.070 1)">50</text>
<text class="lb" text-anchor="middle" transform="translate(182.35 186.9) scale(1.070 1)">Order</text>
<text class="lb" text-anchor="middle" transform="translate(13.4 80) rotate(-90) scale(1.040 1)">Degree</text>
<text class="ct" text-anchor="middle" transform="translate(80.71 226) scale(1.070 1)">10<tspan class="sup" dy="-6">-5</tspan></text>
<text class="ct" text-anchor="middle" transform="translate(226.06 226) scale(1.070 1)">10<tspan class="sup" dy="-6">-4</tspan></text>
<text class="mm" text-anchor="middle" transform="translate(182.35 241.5) scale(1.090 1)">[mm] EWH</text>
<text class="pl" text-anchor="middle" transform="translate(171.2 266.9)">(<tspan style="font-size:17.5px">a</tspan>)</text>
<line x1="446.45" x2="446.45" y1="7" y2="153.6" class="g"/>
<line x1="526.95" x2="526.95" y1="7" y2="153.6" class="g"/>
<line x1="607.45" x2="607.45" y1="7" y2="153.6" class="g"/>
<line x1="381.35" x2="672.65" y1="8.1" y2="8.1" class="gh"/>
<line x1="381.35" x2="672.65" y1="40.21" y2="40.21" class="gh"/>
<line x1="381.35" x2="672.65" y1="72.32" y2="72.32" class="gh"/>
<line x1="381.35" x2="672.65" y1="104.43" y2="104.43" class="gh"/>
<line x1="381.35" x2="672.65" y1="136.54" y2="136.54" class="gh"/>
<rect x="381.35" y="7" width="291.3" height="146.6" class="bx"/>
<line x1="446.45" x2="446.45" y1="153.6" y2="150.6" class="t"/>
<line x1="446.45" x2="446.45" y1="7" y2="10" class="t"/>
<line x1="526.95" x2="526.95" y1="153.6" y2="150.6" class="t"/>
<line x1="526.95" x2="526.95" y1="7" y2="10" class="t"/>
<line x1="607.45" x2="607.45" y1="153.6" y2="150.6" class="t"/>
<line x1="607.45" x2="607.45" y1="7" y2="10" class="t"/>
<line x1="381.35" x2="384.35" y1="8.1" y2="8.1" class="t"/>
<line x1="672.65" x2="669.65" y1="8.1" y2="8.1" class="t"/>
<line x1="381.35" x2="384.35" y1="40.21" y2="40.21" class="t"/>
<line x1="672.65" x2="669.65" y1="40.21" y2="40.21" class="t"/>
<line x1="381.35" x2="384.35" y1="72.32" y2="72.32" class="t"/>
<line x1="672.65" x2="669.65" y1="72.32" y2="72.32" class="t"/>
<line x1="381.35" x2="384.35" y1="104.43" y2="104.43" class="t"/>
<line x1="672.65" x2="669.65" y1="104.43" y2="104.43" class="t"/>
<line x1="381.35" x2="384.35" y1="136.54" y2="136.54" class="t"/>
<line x1="672.65" x2="669.65" y1="136.54" y2="136.54" class="t"/>
<text class="tk" text-anchor="end" transform="translate(377.55 12.9) scale(1.070 1)">0</text>
<text class="tk" text-anchor="end" transform="translate(377.55 45.01) scale(1.070 1)">20</text>
<text class="tk" text-anchor="end" transform="translate(377.55 77.12) scale(1.070 1)">40</text>
<text class="tk" text-anchor="end" transform="translate(377.55 109.23) scale(1.070 1)">60</text>
<text class="tk" text-anchor="end" transform="translate(377.55 141.34) scale(1.070 1)">80</text>
<text class="tk" text-anchor="middle" transform="translate(446.45 170.4) scale(1.070 1)">-50</text>
<text class="tk" text-anchor="middle" transform="translate(526.95 170.4) scale(1.070 1)">0</text>
<text class="tk" text-anchor="middle" transform="translate(607.45 170.4) scale(1.070 1)">50</text>
<text class="lb" text-anchor="middle" transform="translate(527 187.2) scale(1.070 1)">Order</text>
<text class="lb" text-anchor="middle" transform="translate(358.15 80.3) rotate(-90) scale(1.040 1)">Degree</text>
<text class="ct" text-anchor="middle" transform="translate(425.43 226.7) scale(1.070 1)">10<tspan class="sup" dy="-6">-5</tspan></text>
<text class="ct" text-anchor="middle" transform="translate(570.68 226.7) scale(1.070 1)">10<tspan class="sup" dy="-6">-4</tspan></text>
<text class="mm" text-anchor="middle" transform="translate(527 242.2) scale(1.090 1)">[mm] EWH</text>
<text class="pl" text-anchor="middle" transform="translate(515.95 267.6)">(<tspan style="font-size:17.5px">b</tspan>)</text>
<line x1="101.9" x2="101.9" y1="296.2" y2="442.7" class="g"/>
<line x1="182.4" x2="182.4" y1="296.2" y2="442.7" class="g"/>
<line x1="262.9" x2="262.9" y1="296.2" y2="442.7" class="g"/>
<line x1="36.65" x2="328.15" y1="298" y2="298" class="gh"/>
<line x1="36.65" x2="328.15" y1="330.11" y2="330.11" class="gh"/>
<line x1="36.65" x2="328.15" y1="362.22" y2="362.22" class="gh"/>
<line x1="36.65" x2="328.15" y1="394.33" y2="394.33" class="gh"/>
<line x1="36.65" x2="328.15" y1="426.44" y2="426.44" class="gh"/>
<rect x="36.65" y="296.2" width="291.5" height="146.5" class="bx"/>
<line x1="101.9" x2="101.9" y1="442.7" y2="439.7" class="t"/>
<line x1="101.9" x2="101.9" y1="296.2" y2="299.2" class="t"/>
<line x1="182.4" x2="182.4" y1="442.7" y2="439.7" class="t"/>
<line x1="182.4" x2="182.4" y1="296.2" y2="299.2" class="t"/>
<line x1="262.9" x2="262.9" y1="442.7" y2="439.7" class="t"/>
<line x1="262.9" x2="262.9" y1="296.2" y2="299.2" class="t"/>
<line x1="36.65" x2="39.65" y1="298" y2="298" class="t"/>
<line x1="328.15" x2="325.15" y1="298" y2="298" class="t"/>
<line x1="36.65" x2="39.65" y1="330.11" y2="330.11" class="t"/>
<line x1="328.15" x2="325.15" y1="330.11" y2="330.11" class="t"/>
<line x1="36.65" x2="39.65" y1="362.22" y2="362.22" class="t"/>
<line x1="328.15" x2="325.15" y1="362.22" y2="362.22" class="t"/>
<line x1="36.65" x2="39.65" y1="394.33" y2="394.33" class="t"/>
<line x1="328.15" x2="325.15" y1="394.33" y2="394.33" class="t"/>
<line x1="36.65" x2="39.65" y1="426.44" y2="426.44" class="t"/>
<line x1="328.15" x2="325.15" y1="426.44" y2="426.44" class="t"/>
<text class="tk" text-anchor="end" transform="translate(32.85 302.8) scale(1.070 1)">0</text>
<text class="tk" text-anchor="end" transform="translate(32.85 334.91) scale(1.070 1)">20</text>
<text class="tk" text-anchor="end" transform="translate(32.85 367.02) scale(1.070 1)">40</text>
<text class="tk" text-anchor="end" transform="translate(32.85 399.13) scale(1.070 1)">60</text>
<text class="tk" text-anchor="end" transform="translate(32.85 431.24) scale(1.070 1)">80</text>
<text class="tk" text-anchor="middle" transform="translate(101.9 459.5) scale(1.070 1)">-50</text>
<text class="tk" text-anchor="middle" transform="translate(182.4 459.5) scale(1.070 1)">0</text>
<text class="tk" text-anchor="middle" transform="translate(262.9 459.5) scale(1.070 1)">50</text>
<text class="lb" text-anchor="middle" transform="translate(182.4 476.3) scale(1.070 1)">Order</text>
<text class="lb" text-anchor="middle" transform="translate(13.45 369.45) rotate(-90) scale(1.040 1)">Degree</text>
<text class="ct" text-anchor="middle" transform="translate(80.76 516.1) scale(1.070 1)">10<tspan class="sup" dy="-6">-5</tspan></text>
<text class="ct" text-anchor="middle" transform="translate(226.11 516.1) scale(1.070 1)">10<tspan class="sup" dy="-6">-4</tspan></text>
<text class="mm" text-anchor="middle" transform="translate(182.4 531.6) scale(1.090 1)">[mm] EWH</text>
<text class="pl" text-anchor="middle" transform="translate(171.25 557)">(<tspan style="font-size:17.5px">c</tspan>)</text>
<line x1="446.5" x2="446.5" y1="296.3" y2="442.8" class="g"/>
<line x1="527" x2="527" y1="296.3" y2="442.8" class="g"/>
<line x1="607.5" x2="607.5" y1="296.3" y2="442.8" class="g"/>
<line x1="381.4" x2="672.7" y1="298.1" y2="298.1" class="gh"/>
<line x1="381.4" x2="672.7" y1="330.21" y2="330.21" class="gh"/>
<line x1="381.4" x2="672.7" y1="362.32" y2="362.32" class="gh"/>
<line x1="381.4" x2="672.7" y1="394.43" y2="394.43" class="gh"/>
<line x1="381.4" x2="672.7" y1="426.54" y2="426.54" class="gh"/>
<rect x="381.4" y="296.3" width="291.3" height="146.5" class="bx"/>
<line x1="446.5" x2="446.5" y1="442.8" y2="439.8" class="t"/>
<line x1="446.5" x2="446.5" y1="296.3" y2="299.3" class="t"/>
<line x1="527" x2="527" y1="442.8" y2="439.8" class="t"/>
<line x1="527" x2="527" y1="296.3" y2="299.3" class="t"/>
<line x1="607.5" x2="607.5" y1="442.8" y2="439.8" class="t"/>
<line x1="607.5" x2="607.5" y1="296.3" y2="299.3" class="t"/>
<line x1="381.4" x2="384.4" y1="298.1" y2="298.1" class="t"/>
<line x1="672.7" x2="669.7" y1="298.1" y2="298.1" class="t"/>
<line x1="381.4" x2="384.4" y1="330.21" y2="330.21" class="t"/>
<line x1="672.7" x2="669.7" y1="330.21" y2="330.21" class="t"/>
<line x1="381.4" x2="384.4" y1="362.32" y2="362.32" class="t"/>
<line x1="672.7" x2="669.7" y1="362.32" y2="362.32" class="t"/>
<line x1="381.4" x2="384.4" y1="394.43" y2="394.43" class="t"/>
<line x1="672.7" x2="669.7" y1="394.43" y2="394.43" class="t"/>
<line x1="381.4" x2="384.4" y1="426.54" y2="426.54" class="t"/>
<line x1="672.7" x2="669.7" y1="426.54" y2="426.54" class="t"/>
<text class="tk" text-anchor="end" transform="translate(377.6 302.9) scale(1.070 1)">0</text>
<text class="tk" text-anchor="end" transform="translate(377.6 335.01) scale(1.070 1)">20</text>
<text class="tk" text-anchor="end" transform="translate(377.6 367.12) scale(1.070 1)">40</text>
<text class="tk" text-anchor="end" transform="translate(377.6 399.23) scale(1.070 1)">60</text>
<text class="tk" text-anchor="end" transform="translate(377.6 431.34) scale(1.070 1)">80</text>
<text class="tk" text-anchor="middle" transform="translate(446.5 459.6) scale(1.070 1)">-50</text>
<text class="tk" text-anchor="middle" transform="translate(527 459.6) scale(1.070 1)">0</text>
<text class="tk" text-anchor="middle" transform="translate(607.5 459.6) scale(1.070 1)">50</text>
<text class="lb" text-anchor="middle" transform="translate(527.05 476.4) scale(1.070 1)">Order</text>
<text class="lb" text-anchor="middle" transform="translate(358.2 369.55) rotate(-90) scale(1.040 1)">Degree</text>
<text class="ct" text-anchor="middle" transform="translate(448.97 516.2) scale(1.070 1)">10<tspan class="sup" dy="-6">-2</tspan></text>
<text class="ct" text-anchor="middle" transform="translate(672.7 516.2) scale(1.070 1)">10<tspan class="sup" dy="-6">-1</tspan></text>
<text class="mm" text-anchor="middle" transform="translate(527.05 531.7) scale(1.090 1)">[mm] EWH</text>
<text class="pl" text-anchor="middle" transform="translate(516 557.1)">(<tspan style="font-size:17.5px">d</tspan>)</text></svg></body></html>
